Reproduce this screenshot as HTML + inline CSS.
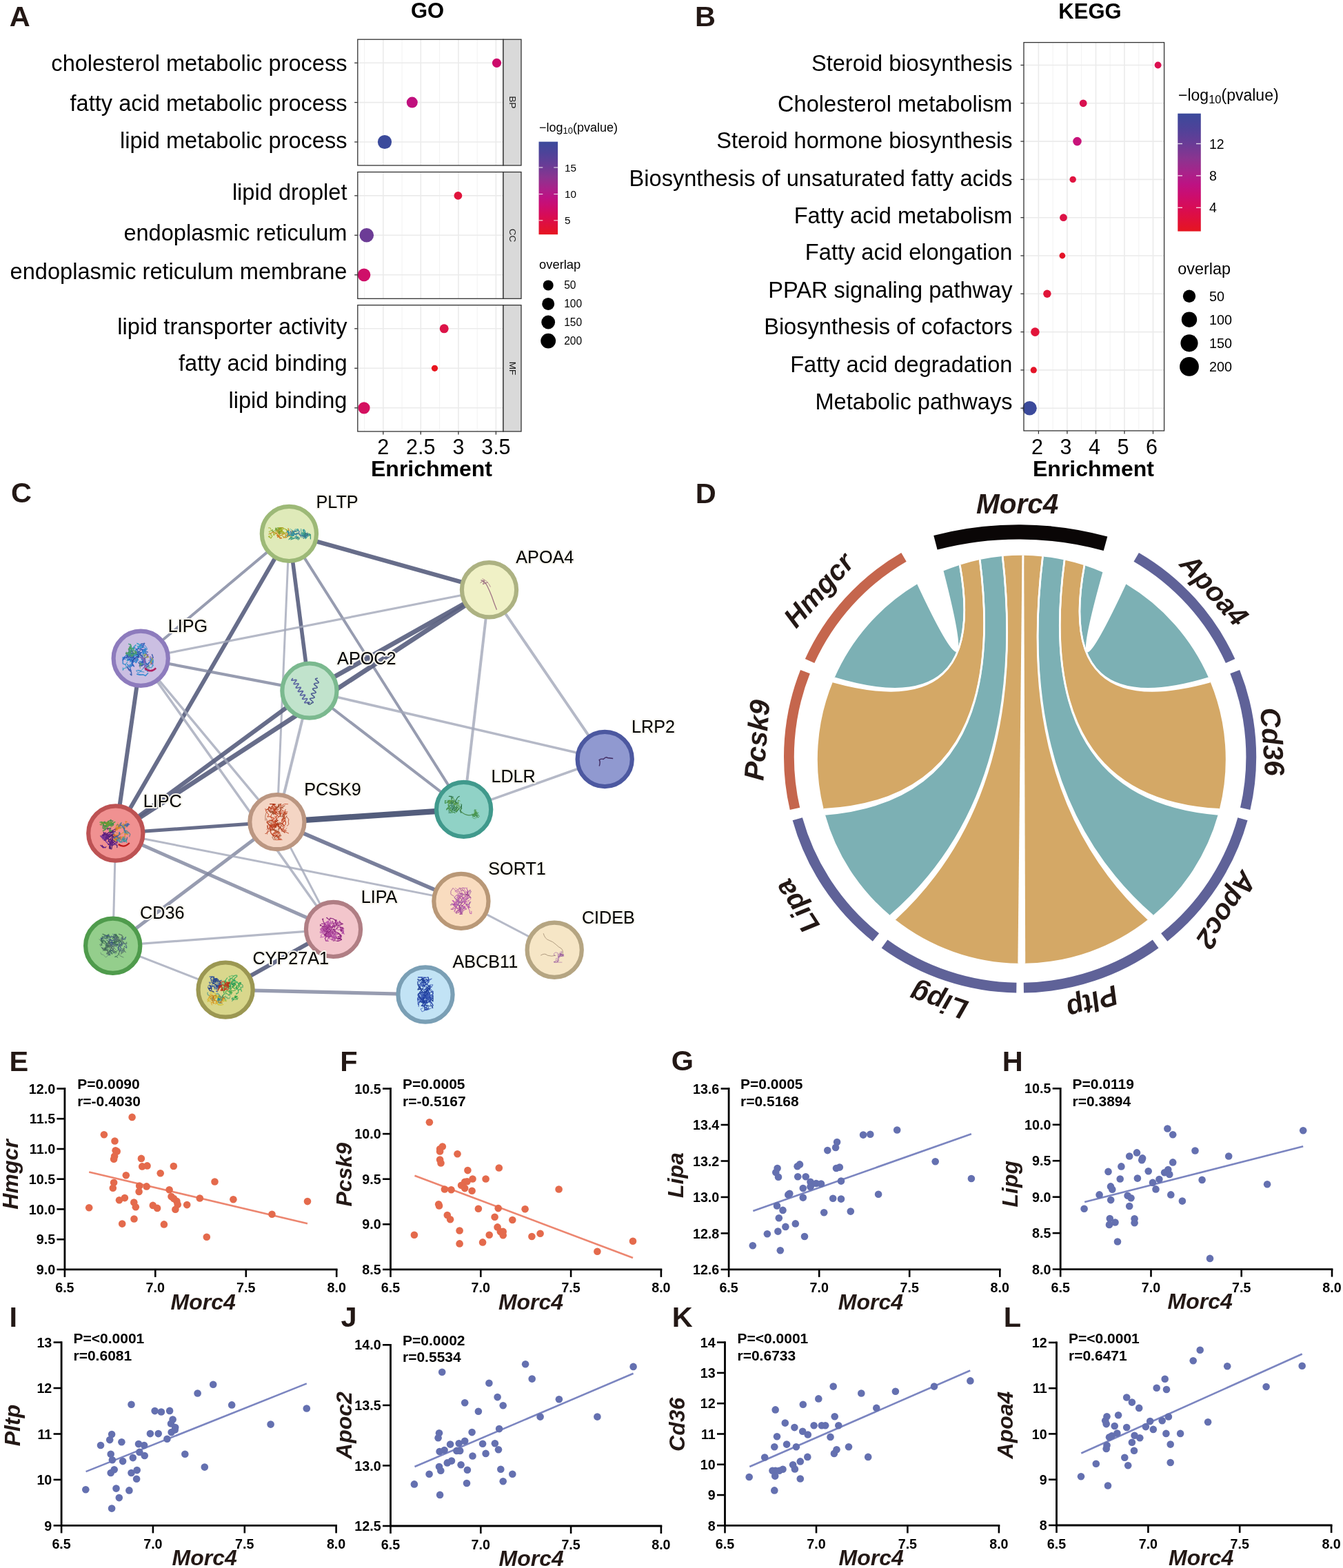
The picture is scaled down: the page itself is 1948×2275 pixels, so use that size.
<!DOCTYPE html>
<html><head><meta charset="utf-8"><title>Figure</title>
<style>html,body{margin:0;padding:0;background:#fff;} svg{display:block;} text{font-family:"Liberation Sans", Arial, Helvetica, sans-serif;}</style>
</head><body>
<svg width="1948" height="2275" viewBox="0 0 1948 2275">
<defs><linearGradient id="cbar" x1="0" y1="0" x2="0" y2="1"><stop offset="0" stop-color="#3b4a9b"/><stop offset="0.12" stop-color="#4d4399"/><stop offset="0.25" stop-color="#683c96"/><stop offset="0.38" stop-color="#8a3490"/><stop offset="0.5" stop-color="#a8238a"/><stop offset="0.6" stop-color="#bd1283"/><stop offset="0.7" stop-color="#cc0d6e"/><stop offset="0.8" stop-color="#d80c55"/><stop offset="0.9" stop-color="#e0103a"/><stop offset="1.0" stop-color="#e61520"/></linearGradient></defs>
<rect width="1948" height="2275" fill="#fff"/>
<text x="620.0" y="26.0" font-size="31" font-weight="700" text-anchor="middle" fill="#000">GO</text>
<text x="13.7" y="38.1" font-size="41.5" font-weight="700" fill="#231815">A</text>
<rect x="518.8" y="57.2" width="211.20000000000005" height="182.8" fill="#fff"/>
<line x1="528.5" y1="57.2" x2="528.5" y2="240.0" stroke="#f2f2f2" stroke-width="1"/>
<line x1="583.1" y1="57.2" x2="583.1" y2="240.0" stroke="#f2f2f2" stroke-width="1"/>
<line x1="637.6" y1="57.2" x2="637.6" y2="240.0" stroke="#f2f2f2" stroke-width="1"/>
<line x1="692.2" y1="57.2" x2="692.2" y2="240.0" stroke="#f2f2f2" stroke-width="1"/>
<line x1="555.8" y1="57.2" x2="555.8" y2="240.0" stroke="#ebebeb" stroke-width="1.6"/>
<line x1="610.3" y1="57.2" x2="610.3" y2="240.0" stroke="#ebebeb" stroke-width="1.6"/>
<line x1="664.9" y1="57.2" x2="664.9" y2="240.0" stroke="#ebebeb" stroke-width="1.6"/>
<line x1="719.4" y1="57.2" x2="719.4" y2="240.0" stroke="#ebebeb" stroke-width="1.6"/>
<line x1="518.8" y1="91.3" x2="730.0" y2="91.3" stroke="#ebebeb" stroke-width="1.6"/>
<line x1="518.8" y1="148.6" x2="730.0" y2="148.6" stroke="#ebebeb" stroke-width="1.6"/>
<line x1="518.8" y1="206.0" x2="730.0" y2="206.0" stroke="#ebebeb" stroke-width="1.6"/>
<circle cx="720.5" cy="91.3" r="6.6" fill="#cc0a6b"/>
<circle cx="597.8" cy="148.6" r="8.0" fill="#c0107e"/>
<circle cx="558.0" cy="206.0" r="10.1" fill="#3b4a9b"/>
<rect x="518.8" y="57.2" width="211.20000000000005" height="182.8" fill="none" stroke="#333" stroke-width="1.3"/>
<rect x="730.0" y="57.2" width="26.0" height="182.8" fill="#d9d9d9" stroke="#333" stroke-width="1.3"/>
<text x="743.0" y="148.6" font-size="13.5" text-anchor="middle" fill="#1a1a1a" transform="rotate(90 743.0 148.6)" dominant-baseline="central">BP</text>
<line x1="514.1999999999999" y1="91.3" x2="518.8" y2="91.3" stroke="#333" stroke-width="1.3"/>
<text x="503.5" y="103.2" font-size="32.6" text-anchor="end" fill="#000">cholesterol metabolic process</text>
<line x1="514.1999999999999" y1="148.6" x2="518.8" y2="148.6" stroke="#333" stroke-width="1.3"/>
<text x="503.5" y="160.6" font-size="32.6" text-anchor="end" fill="#000">fatty acid metabolic process</text>
<line x1="514.1999999999999" y1="206.0" x2="518.8" y2="206.0" stroke="#333" stroke-width="1.3"/>
<text x="503.5" y="214.9" font-size="32.6" text-anchor="end" fill="#000">lipid metabolic process</text>
<rect x="518.8" y="249.6" width="211.20000000000005" height="183.70000000000002" fill="#fff"/>
<line x1="528.5" y1="249.6" x2="528.5" y2="433.3" stroke="#f2f2f2" stroke-width="1"/>
<line x1="583.1" y1="249.6" x2="583.1" y2="433.3" stroke="#f2f2f2" stroke-width="1"/>
<line x1="637.6" y1="249.6" x2="637.6" y2="433.3" stroke="#f2f2f2" stroke-width="1"/>
<line x1="692.2" y1="249.6" x2="692.2" y2="433.3" stroke="#f2f2f2" stroke-width="1"/>
<line x1="555.8" y1="249.6" x2="555.8" y2="433.3" stroke="#ebebeb" stroke-width="1.6"/>
<line x1="610.3" y1="249.6" x2="610.3" y2="433.3" stroke="#ebebeb" stroke-width="1.6"/>
<line x1="664.9" y1="249.6" x2="664.9" y2="433.3" stroke="#ebebeb" stroke-width="1.6"/>
<line x1="719.4" y1="249.6" x2="719.4" y2="433.3" stroke="#ebebeb" stroke-width="1.6"/>
<line x1="518.8" y1="283.9" x2="730.0" y2="283.9" stroke="#ebebeb" stroke-width="1.6"/>
<line x1="518.8" y1="341.3" x2="730.0" y2="341.3" stroke="#ebebeb" stroke-width="1.6"/>
<line x1="518.8" y1="398.8" x2="730.0" y2="398.8" stroke="#ebebeb" stroke-width="1.6"/>
<circle cx="664.4" cy="283.9" r="5.9" fill="#e0143c"/>
<circle cx="531.8" cy="341.3" r="10.3" fill="#6c3c96"/>
<circle cx="528.0" cy="398.8" r="9.4" fill="#cf0f69"/>
<rect x="518.8" y="249.6" width="211.20000000000005" height="183.70000000000002" fill="none" stroke="#333" stroke-width="1.3"/>
<rect x="730.0" y="249.6" width="26.0" height="183.70000000000002" fill="#d9d9d9" stroke="#333" stroke-width="1.3"/>
<text x="743.0" y="341.4" font-size="13.5" text-anchor="middle" fill="#1a1a1a" transform="rotate(90 743.0 341.4)" dominant-baseline="central">CC</text>
<line x1="514.1999999999999" y1="283.9" x2="518.8" y2="283.9" stroke="#333" stroke-width="1.3"/>
<text x="503.5" y="290.2" font-size="32.6" text-anchor="end" fill="#000">lipid droplet</text>
<line x1="514.1999999999999" y1="341.3" x2="518.8" y2="341.3" stroke="#333" stroke-width="1.3"/>
<text x="503.5" y="349.1" font-size="32.6" text-anchor="end" fill="#000">endoplasmic reticulum</text>
<line x1="514.1999999999999" y1="398.8" x2="518.8" y2="398.8" stroke="#333" stroke-width="1.3"/>
<text x="503.5" y="404.7" font-size="32.6" text-anchor="end" fill="#000">endoplasmic reticulum membrane</text>
<rect x="518.8" y="442.7" width="211.20000000000005" height="183.3" fill="#fff"/>
<line x1="528.5" y1="442.7" x2="528.5" y2="626.0" stroke="#f2f2f2" stroke-width="1"/>
<line x1="583.1" y1="442.7" x2="583.1" y2="626.0" stroke="#f2f2f2" stroke-width="1"/>
<line x1="637.6" y1="442.7" x2="637.6" y2="626.0" stroke="#f2f2f2" stroke-width="1"/>
<line x1="692.2" y1="442.7" x2="692.2" y2="626.0" stroke="#f2f2f2" stroke-width="1"/>
<line x1="555.8" y1="442.7" x2="555.8" y2="626.0" stroke="#ebebeb" stroke-width="1.6"/>
<line x1="610.3" y1="442.7" x2="610.3" y2="626.0" stroke="#ebebeb" stroke-width="1.6"/>
<line x1="664.9" y1="442.7" x2="664.9" y2="626.0" stroke="#ebebeb" stroke-width="1.6"/>
<line x1="719.4" y1="442.7" x2="719.4" y2="626.0" stroke="#ebebeb" stroke-width="1.6"/>
<line x1="518.8" y1="476.8" x2="730.0" y2="476.8" stroke="#ebebeb" stroke-width="1.6"/>
<line x1="518.8" y1="534.3" x2="730.0" y2="534.3" stroke="#ebebeb" stroke-width="1.6"/>
<line x1="518.8" y1="591.8" x2="730.0" y2="591.8" stroke="#ebebeb" stroke-width="1.6"/>
<circle cx="644.2" cy="476.8" r="6.5" fill="#dc1448"/>
<circle cx="630.5" cy="534.3" r="4.6" fill="#e8141e"/>
<circle cx="528.0" cy="591.8" r="8.6" fill="#d41060"/>
<rect x="518.8" y="442.7" width="211.20000000000005" height="183.3" fill="none" stroke="#333" stroke-width="1.3"/>
<rect x="730.0" y="442.7" width="26.0" height="183.3" fill="#d9d9d9" stroke="#333" stroke-width="1.3"/>
<text x="743.0" y="534.4" font-size="13.5" text-anchor="middle" fill="#1a1a1a" transform="rotate(90 743.0 534.4)" dominant-baseline="central">MF</text>
<line x1="514.1999999999999" y1="476.8" x2="518.8" y2="476.8" stroke="#333" stroke-width="1.3"/>
<text x="503.5" y="484.8" font-size="32.6" text-anchor="end" fill="#000">lipid transporter activity</text>
<line x1="514.1999999999999" y1="534.3" x2="518.8" y2="534.3" stroke="#333" stroke-width="1.3"/>
<text x="503.5" y="538.1" font-size="32.6" text-anchor="end" fill="#000">fatty acid binding</text>
<line x1="514.1999999999999" y1="591.8" x2="518.8" y2="591.8" stroke="#333" stroke-width="1.3"/>
<text x="503.5" y="592.3" font-size="32.6" text-anchor="end" fill="#000">lipid binding</text>
<line x1="555.8" y1="626" x2="555.8" y2="630.6" stroke="#333" stroke-width="1.3"/>
<text x="555.8" y="659.0" font-size="30.5" text-anchor="middle" fill="#000">2</text>
<line x1="610.3" y1="626" x2="610.3" y2="630.6" stroke="#333" stroke-width="1.3"/>
<text x="610.3" y="659.0" font-size="30.5" text-anchor="middle" fill="#000">2.5</text>
<line x1="664.9" y1="626" x2="664.9" y2="630.6" stroke="#333" stroke-width="1.3"/>
<text x="664.9" y="659.0" font-size="30.5" text-anchor="middle" fill="#000">3</text>
<line x1="719.4" y1="626" x2="719.4" y2="630.6" stroke="#333" stroke-width="1.3"/>
<text x="719.4" y="659.0" font-size="30.5" text-anchor="middle" fill="#000">3.5</text>
<text x="626.0" y="691.0" font-size="32" font-weight="700" text-anchor="middle" fill="#000">Enrichment</text>
<text x="782" y="190.8" font-size="18" fill="#000">−log<tspan font-size="13" dy="3">10</tspan><tspan dy="-3">(pvalue)</tspan></text>
<rect x="781.5" y="205.6" width="27.6" height="134.6" fill="url(#cbar)"/>
<line x1="781.5" y1="243" x2="787.3" y2="243" stroke="#fff" stroke-opacity="0.8" stroke-width="1.2"/>
<line x1="803.3" y1="243" x2="809.1" y2="243" stroke="#fff" stroke-opacity="0.8" stroke-width="1.2"/>
<text x="819.0" y="248.5" font-size="15.3" fill="#000">15</text>
<line x1="781.5" y1="281.6" x2="787.3" y2="281.6" stroke="#fff" stroke-opacity="0.8" stroke-width="1.2"/>
<line x1="803.3" y1="281.6" x2="809.1" y2="281.6" stroke="#fff" stroke-opacity="0.8" stroke-width="1.2"/>
<text x="819.0" y="287.1" font-size="15.3" fill="#000">10</text>
<line x1="781.5" y1="319.8" x2="787.3" y2="319.8" stroke="#fff" stroke-opacity="0.8" stroke-width="1.2"/>
<line x1="803.3" y1="319.8" x2="809.1" y2="319.8" stroke="#fff" stroke-opacity="0.8" stroke-width="1.2"/>
<text x="819.0" y="325.3" font-size="15.3" fill="#000">5</text>
<text x="782.0" y="389.8" font-size="18.4" fill="#000">overlap</text>
<circle cx="795.2" cy="413.9" r="7.5" fill="#000"/>
<text x="818.2" y="419.4" font-size="15.6" fill="#000">50</text>
<circle cx="795.2" cy="440.9" r="9" fill="#000"/>
<text x="818.2" y="446.4" font-size="15.6" fill="#000">100</text>
<circle cx="795.2" cy="467.5" r="9.9" fill="#000"/>
<text x="818.2" y="473.0" font-size="15.6" fill="#000">150</text>
<circle cx="795.2" cy="494.6" r="10.9" fill="#000"/>
<text x="818.2" y="500.1" font-size="15.6" fill="#000">200</text>
<text x="1581.0" y="27.0" font-size="31" font-weight="700" text-anchor="middle" fill="#000">KEGG</text>
<text x="1007.9" y="37.9" font-size="41.5" font-weight="700" fill="#231815">B</text>
<rect x="1485.0" y="61.6" width="203.5999999999999" height="563.4" fill="#fff"/>
<line x1="1527.2" y1="61.6" x2="1527.2" y2="625.0" stroke="#f2f2f2" stroke-width="1"/>
<line x1="1568.7" y1="61.6" x2="1568.7" y2="625.0" stroke="#f2f2f2" stroke-width="1"/>
<line x1="1610.2" y1="61.6" x2="1610.2" y2="625.0" stroke="#f2f2f2" stroke-width="1"/>
<line x1="1651.8" y1="61.6" x2="1651.8" y2="625.0" stroke="#f2f2f2" stroke-width="1"/>
<line x1="1506.4" y1="61.6" x2="1506.4" y2="625.0" stroke="#ebebeb" stroke-width="1.6"/>
<line x1="1547.9" y1="61.6" x2="1547.9" y2="625.0" stroke="#ebebeb" stroke-width="1.6"/>
<line x1="1589.5" y1="61.6" x2="1589.5" y2="625.0" stroke="#ebebeb" stroke-width="1.6"/>
<line x1="1631.0" y1="61.6" x2="1631.0" y2="625.0" stroke="#ebebeb" stroke-width="1.6"/>
<line x1="1672.5" y1="61.6" x2="1672.5" y2="625.0" stroke="#ebebeb" stroke-width="1.6"/>
<line x1="1485.0" y1="94.5" x2="1688.6" y2="94.5" stroke="#ebebeb" stroke-width="1.6"/>
<line x1="1485.0" y1="149.8" x2="1688.6" y2="149.8" stroke="#ebebeb" stroke-width="1.6"/>
<line x1="1485.0" y1="205.1" x2="1688.6" y2="205.1" stroke="#ebebeb" stroke-width="1.6"/>
<line x1="1485.0" y1="260.4" x2="1688.6" y2="260.4" stroke="#ebebeb" stroke-width="1.6"/>
<line x1="1485.0" y1="315.7" x2="1688.6" y2="315.7" stroke="#ebebeb" stroke-width="1.6"/>
<line x1="1485.0" y1="371.0" x2="1688.6" y2="371.0" stroke="#ebebeb" stroke-width="1.6"/>
<line x1="1485.0" y1="426.3" x2="1688.6" y2="426.3" stroke="#ebebeb" stroke-width="1.6"/>
<line x1="1485.0" y1="481.6" x2="1688.6" y2="481.6" stroke="#ebebeb" stroke-width="1.6"/>
<line x1="1485.0" y1="536.9" x2="1688.6" y2="536.9" stroke="#ebebeb" stroke-width="1.6"/>
<line x1="1485.0" y1="592.2" x2="1688.6" y2="592.2" stroke="#ebebeb" stroke-width="1.6"/>
<circle cx="1679.6" cy="94.5" r="4.9" fill="#dc0f50"/>
<circle cx="1571.2" cy="149.8" r="5.4" fill="#d8104f"/>
<circle cx="1562.5" cy="205.1" r="6.3" fill="#c8137a"/>
<circle cx="1556.2" cy="260.4" r="4.7" fill="#e01440"/>
<circle cx="1542.5" cy="315.7" r="5.4" fill="#dc1346"/>
<circle cx="1540.9" cy="371.0" r="4.4" fill="#e41428"/>
<circle cx="1518.9" cy="426.3" r="5.7" fill="#e01438"/>
<circle cx="1501.4" cy="481.6" r="6.3" fill="#e2143a"/>
<circle cx="1499.3" cy="536.9" r="4.6" fill="#e41428"/>
<circle cx="1493.5" cy="592.2" r="10.3" fill="#3b4a9b"/>
<rect x="1485.0" y="61.6" width="203.5999999999999" height="563.4" fill="none" stroke="#333" stroke-width="1.3"/>
<line x1="1480.4" y1="94.5" x2="1485.0" y2="94.5" stroke="#333" stroke-width="1.3"/>
<text x="1468.5" y="103.1" font-size="32.6" text-anchor="end" fill="#000">Steroid biosynthesis</text>
<line x1="1480.4" y1="149.8" x2="1485.0" y2="149.8" stroke="#333" stroke-width="1.3"/>
<text x="1468.5" y="161.6" font-size="32.6" text-anchor="end" fill="#000">Cholesterol metabolism</text>
<line x1="1480.4" y1="205.1" x2="1485.0" y2="205.1" stroke="#333" stroke-width="1.3"/>
<text x="1468.5" y="215.1" font-size="32.6" text-anchor="end" fill="#000">Steroid hormone biosynthesis</text>
<line x1="1480.4" y1="260.4" x2="1485.0" y2="260.4" stroke="#333" stroke-width="1.3"/>
<text x="1468.5" y="269.5" font-size="32.6" text-anchor="end" fill="#000">Biosynthesis of unsaturated fatty acids</text>
<line x1="1480.4" y1="315.7" x2="1485.0" y2="315.7" stroke="#333" stroke-width="1.3"/>
<text x="1468.5" y="323.6" font-size="32.6" text-anchor="end" fill="#000">Fatty acid metabolism</text>
<line x1="1480.4" y1="371.0" x2="1485.0" y2="371.0" stroke="#333" stroke-width="1.3"/>
<text x="1468.5" y="377.3" font-size="32.6" text-anchor="end" fill="#000">Fatty acid elongation</text>
<line x1="1480.4" y1="426.3" x2="1485.0" y2="426.3" stroke="#333" stroke-width="1.3"/>
<text x="1468.5" y="431.5" font-size="32.6" text-anchor="end" fill="#000">PPAR signaling pathway</text>
<line x1="1480.4" y1="481.6" x2="1485.0" y2="481.6" stroke="#333" stroke-width="1.3"/>
<text x="1468.5" y="484.9" font-size="32.6" text-anchor="end" fill="#000">Biosynthesis of cofactors</text>
<line x1="1480.4" y1="536.9" x2="1485.0" y2="536.9" stroke="#333" stroke-width="1.3"/>
<text x="1468.5" y="539.7" font-size="32.6" text-anchor="end" fill="#000">Fatty acid degradation</text>
<line x1="1480.4" y1="592.2" x2="1485.0" y2="592.2" stroke="#333" stroke-width="1.3"/>
<text x="1468.5" y="593.8" font-size="32.6" text-anchor="end" fill="#000">Metabolic pathways</text>
<line x1="1506.4" y1="625.0" x2="1506.4" y2="629.6" stroke="#333" stroke-width="1.3"/>
<text x="1504.4" y="659.0" font-size="30.5" text-anchor="middle" fill="#000">2</text>
<line x1="1547.9" y1="625.0" x2="1547.9" y2="629.6" stroke="#333" stroke-width="1.3"/>
<text x="1545.9" y="659.0" font-size="30.5" text-anchor="middle" fill="#000">3</text>
<line x1="1589.5" y1="625.0" x2="1589.5" y2="629.6" stroke="#333" stroke-width="1.3"/>
<text x="1587.5" y="659.0" font-size="30.5" text-anchor="middle" fill="#000">4</text>
<line x1="1631.0" y1="625.0" x2="1631.0" y2="629.6" stroke="#333" stroke-width="1.3"/>
<text x="1629.0" y="659.0" font-size="30.5" text-anchor="middle" fill="#000">5</text>
<line x1="1672.5" y1="625.0" x2="1672.5" y2="629.6" stroke="#333" stroke-width="1.3"/>
<text x="1670.5" y="659.0" font-size="30.5" text-anchor="middle" fill="#000">6</text>
<text x="1586.0" y="691.0" font-size="32" font-weight="700" text-anchor="middle" fill="#000">Enrichment</text>
<text x="1709" y="146" font-size="23" fill="#000">−log<tspan font-size="16.5" dy="4">10</tspan><tspan dy="-4">(pvalue)</tspan></text>
<rect x="1708.3" y="164.7" width="33.5" height="170.9" fill="url(#cbar)"/>
<line x1="1708.3" y1="208.5" x2="1715" y2="208.5" stroke="#fff" stroke-opacity="0.8" stroke-width="1.4"/>
<line x1="1735" y1="208.5" x2="1741.8" y2="208.5" stroke="#fff" stroke-opacity="0.8" stroke-width="1.4"/>
<text x="1754.0" y="215.5" font-size="19.5" fill="#000">12</text>
<line x1="1708.3" y1="254.9" x2="1715" y2="254.9" stroke="#fff" stroke-opacity="0.8" stroke-width="1.4"/>
<line x1="1735" y1="254.9" x2="1741.8" y2="254.9" stroke="#fff" stroke-opacity="0.8" stroke-width="1.4"/>
<text x="1754.0" y="261.9" font-size="19.5" fill="#000">8</text>
<line x1="1708.3" y1="301.3" x2="1715" y2="301.3" stroke="#fff" stroke-opacity="0.8" stroke-width="1.4"/>
<line x1="1735" y1="301.3" x2="1741.8" y2="301.3" stroke="#fff" stroke-opacity="0.8" stroke-width="1.4"/>
<text x="1754.0" y="308.3" font-size="19.5" fill="#000">4</text>
<text x="1708.3" y="397.9" font-size="23.4" fill="#000">overlap</text>
<circle cx="1725" cy="429.7" r="9.2" fill="#000"/>
<text x="1754.0" y="436.7" font-size="19.8" fill="#000">50</text>
<circle cx="1725" cy="463.7" r="11.2" fill="#000"/>
<text x="1754.0" y="470.7" font-size="19.8" fill="#000">100</text>
<circle cx="1725" cy="497.8" r="12.6" fill="#000"/>
<text x="1754.0" y="504.8" font-size="19.8" fill="#000">150</text>
<circle cx="1725" cy="531.9" r="13.9" fill="#000"/>
<text x="1754.0" y="538.9" font-size="19.8" fill="#000">200</text>
<text x="15.9" y="729.2" font-size="41.5" font-weight="700" fill="#231815">C</text>
<line x1="419.4" y1="774.4" x2="709.5" y2="855.7" stroke="#5a6180" stroke-opacity="0.92" stroke-width="6.2"/>
<line x1="419.4" y1="774.4" x2="204.2" y2="955.3" stroke="#7d839c" stroke-opacity="0.8" stroke-width="4.0"/>
<line x1="419.4" y1="774.4" x2="167.8" y2="1209.0" stroke="#5a6180" stroke-opacity="0.92" stroke-width="6.0"/>
<line x1="419.4" y1="774.4" x2="448.9" y2="1002.1" stroke="#5a6180" stroke-opacity="0.92" stroke-width="5.6"/>
<line x1="419.4" y1="774.4" x2="401.9" y2="1192.6" stroke="#a2a7b9" stroke-opacity="0.8" stroke-width="3.0"/>
<line x1="419.4" y1="774.4" x2="672.6" y2="1174.4" stroke="#7d839c" stroke-opacity="0.8" stroke-width="4.0"/>
<line x1="709.5" y1="855.7" x2="204.2" y2="955.3" stroke="#a2a7b9" stroke-opacity="0.8" stroke-width="3.2"/>
<line x1="709.5" y1="855.7" x2="448.9" y2="1002.1" stroke="#5a6180" stroke-opacity="0.92" stroke-width="6.8"/>
<line x1="709.5" y1="855.7" x2="167.8" y2="1209.0" stroke="#5a6180" stroke-opacity="0.92" stroke-width="6.8"/>
<line x1="709.5" y1="855.7" x2="672.6" y2="1174.4" stroke="#a2a7b9" stroke-opacity="0.8" stroke-width="4.0"/>
<line x1="709.5" y1="855.7" x2="877.2" y2="1101.5" stroke="#a2a7b9" stroke-opacity="0.8" stroke-width="4.0"/>
<line x1="204.2" y1="955.3" x2="448.9" y2="1002.1" stroke="#7d839c" stroke-opacity="0.8" stroke-width="4.2"/>
<line x1="204.2" y1="955.3" x2="167.8" y2="1209.0" stroke="#5a6180" stroke-opacity="0.92" stroke-width="6.0"/>
<line x1="204.2" y1="955.3" x2="401.9" y2="1192.6" stroke="#a2a7b9" stroke-opacity="0.8" stroke-width="3.5"/>
<line x1="204.2" y1="955.3" x2="483.5" y2="1348.4" stroke="#a2a7b9" stroke-opacity="0.8" stroke-width="3.5"/>
<line x1="448.9" y1="1002.1" x2="167.8" y2="1209.0" stroke="#5a6180" stroke-opacity="0.92" stroke-width="6.2"/>
<line x1="448.9" y1="1002.1" x2="401.9" y2="1192.6" stroke="#a2a7b9" stroke-opacity="0.8" stroke-width="4.0"/>
<line x1="448.9" y1="1002.1" x2="672.6" y2="1174.4" stroke="#7d839c" stroke-opacity="0.8" stroke-width="4.0"/>
<line x1="448.9" y1="1002.1" x2="877.2" y2="1101.5" stroke="#a2a7b9" stroke-opacity="0.8" stroke-width="3.6"/>
<line x1="877.2" y1="1101.5" x2="672.6" y2="1174.4" stroke="#a2a7b9" stroke-opacity="0.8" stroke-width="3.6"/>
<line x1="401.9" y1="1192.6" x2="672.6" y2="1174.4" stroke="#4a5475" stroke-opacity="0.95" stroke-width="8.4"/>
<line x1="401.9" y1="1192.6" x2="167.8" y2="1209.0" stroke="#5a6180" stroke-opacity="0.92" stroke-width="5.0"/>
<line x1="401.9" y1="1192.6" x2="668.9" y2="1307.4" stroke="#6a7190" stroke-opacity="0.9" stroke-width="5.6"/>
<line x1="401.9" y1="1192.6" x2="163.7" y2="1372.3" stroke="#7d839c" stroke-opacity="0.8" stroke-width="5.0"/>
<line x1="401.9" y1="1192.6" x2="483.5" y2="1348.4" stroke="#a2a7b9" stroke-opacity="0.8" stroke-width="3.0"/>
<line x1="167.8" y1="1209.0" x2="483.5" y2="1348.4" stroke="#7d839c" stroke-opacity="0.8" stroke-width="5.0"/>
<line x1="167.8" y1="1209.0" x2="668.9" y2="1307.4" stroke="#a2a7b9" stroke-opacity="0.8" stroke-width="3.0"/>
<line x1="167.8" y1="1209.0" x2="163.7" y2="1372.3" stroke="#a2a7b9" stroke-opacity="0.8" stroke-width="3.0"/>
<line x1="483.5" y1="1348.4" x2="163.7" y2="1372.3" stroke="#a2a7b9" stroke-opacity="0.8" stroke-width="3.2"/>
<line x1="483.5" y1="1348.4" x2="327.1" y2="1436.1" stroke="#5a6180" stroke-opacity="0.92" stroke-width="6.0"/>
<line x1="163.7" y1="1372.3" x2="327.1" y2="1436.1" stroke="#a2a7b9" stroke-opacity="0.8" stroke-width="3.0"/>
<line x1="327.1" y1="1436.1" x2="617.0" y2="1443.0" stroke="#7d839c" stroke-opacity="0.8" stroke-width="5.2"/>
<line x1="668.9" y1="1307.4" x2="804.2" y2="1378.2" stroke="#a2a7b9" stroke-opacity="0.8" stroke-width="3.0"/>
<circle cx="419.4" cy="774.4" r="39.6" fill="#dfeab9" stroke="#9db977" stroke-width="6.2"/>
<g><path d="M404.7,772.3 404.0,771.7 403.8,774.4 402.3,771.4 400.3,769.0 402.6,771.0" fill="none" stroke="#c8a030" stroke-width="1.07" stroke-linejoin="round" stroke-linecap="round"/><path d="M408.2,768.5 409.0,769.3 411.1,766.8 413.7,767.4 416.7,770.4 416.1,768.2" fill="none" stroke="#a0b020" stroke-width="1.03" stroke-linejoin="round" stroke-linecap="round"/><path d="M410.1,771.1 406.6,768.7 405.9,765.9 406.6,768.0 406.2,765.9 405.0,769.8" fill="none" stroke="#d07a20" stroke-width="0.67" stroke-linejoin="round" stroke-linecap="round"/><path d="M405.8,778.0 406.2,777.6 409.1,775.9 411.8,775.3 410.1,771.3 410.3,773.2" fill="none" stroke="#c8a030" stroke-width="0.96" stroke-linejoin="round" stroke-linecap="round"/><path d="M402.4,768.4 403.5,768.2 404.3,767.0 404.7,765.9 407.4,765.9 411.0,765.9" fill="none" stroke="#a0b020" stroke-width="1.07" stroke-linejoin="round" stroke-linecap="round"/><path d="M406.2,773.4 403.0,769.5 405.4,766.0 407.1,766.4 405.9,765.9 409.7,765.9" fill="none" stroke="#c08a20" stroke-width="1.18" stroke-linejoin="round" stroke-linecap="round"/><path d="M410.7,778.2 411.7,780.9 413.9,777.4 415.5,776.9 414.9,777.0 413.5,774.9" fill="none" stroke="#c08a20" stroke-width="0.86" stroke-linejoin="round" stroke-linecap="round"/><path d="M408.8,773.8 408.0,770.6 408.4,768.8 405.8,770.2 404.2,774.1 406.3,771.4" fill="none" stroke="#70a030" stroke-width="0.76" stroke-linejoin="round" stroke-linecap="round"/><path d="M402.0,776.9 405.2,777.3 401.4,777.1 404.7,778.2 405.7,780.9 408.8,780.9" fill="none" stroke="#d07a20" stroke-width="1.08" stroke-linejoin="round" stroke-linecap="round"/><path d="M403.9,771.0 407.1,771.1 408.0,769.1 407.7,771.3 405.1,774.6 405.4,770.9" fill="none" stroke="#70a030" stroke-width="1.03" stroke-linejoin="round" stroke-linecap="round"/><path d="M409.2,776.3 412.4,773.0 414.5,776.5 418.0,777.3 414.7,780.1 418.4,778.3" fill="none" stroke="#c08a20" stroke-width="0.86" stroke-linejoin="round" stroke-linecap="round"/><path d="M403.2,771.2 402.8,770.0 405.6,774.0 407.1,770.4 406.5,774.0 409.5,774.3" fill="none" stroke="#c08a20" stroke-width="1.01" stroke-linejoin="round" stroke-linecap="round"/><path d="M411.4,771.8 410.0,774.8 410.7,771.6 414.4,774.0 412.0,773.9 415.7,772.2" fill="none" stroke="#a0b020" stroke-width="0.82" stroke-linejoin="round" stroke-linecap="round"/><path d="M406.7,774.2 403.7,770.7 400.5,767.9 400.4,768.9 399.8,767.0 400.0,765.9" fill="none" stroke="#70a030" stroke-width="1.22" stroke-linejoin="round" stroke-linecap="round"/><path d="M403.1,772.5 405.4,776.5 409.0,776.9 411.6,779.4 414.6,780.1 414.3,776.6" fill="none" stroke="#c8a030" stroke-width="1.09" stroke-linejoin="round" stroke-linecap="round"/><path d="M408.9,768.6 409.2,769.1 410.5,772.3 407.0,771.1 407.5,771.6 406.2,772.8" fill="none" stroke="#a0b020" stroke-width="0.98" stroke-linejoin="round" stroke-linecap="round"/><path d="M399.5,771.4 396.1,774.3 399.1,775.7 396.2,775.8 397.5,776.9 397.2,776.5" fill="none" stroke="#a0b020" stroke-width="0.86" stroke-linejoin="round" stroke-linecap="round"/><path d="M392.5,774.0 390.0,771.5 393.1,770.1 393.2,768.6 392.1,765.9 389.4,765.9" fill="none" stroke="#a0b020" stroke-width="0.83" stroke-linejoin="round" stroke-linecap="round"/><path d="M405.2,776.2 405.5,775.3 403.3,773.0 404.0,770.7 406.3,767.4 404.4,765.9" fill="none" stroke="#a0b020" stroke-width="0.99" stroke-linejoin="round" stroke-linecap="round"/><path d="M407.7,769.6 408.6,766.4 406.4,765.9 407.5,765.9 406.5,768.1 408.5,770.8" fill="none" stroke="#a0b020" stroke-width="1.22" stroke-linejoin="round" stroke-linecap="round"/><path d="M417.0,773.8 418.7,777.7 421.6,776.6 421.5,776.0 423.3,773.5 423.4,769.9" fill="none" stroke="#d07a20" stroke-width="1.10" stroke-linejoin="round" stroke-linecap="round"/><path d="M400.9,774.3 398.9,773.5 395.4,771.9 396.8,770.6 393.2,773.8 389.9,775.0" fill="none" stroke="#c08a20" stroke-width="1.05" stroke-linejoin="round" stroke-linecap="round"/><path d="M400.4,773.2 403.8,777.2 402.5,779.5 405.6,778.5 406.4,780.9 407.9,780.2" fill="none" stroke="#d07a20" stroke-width="1.15" stroke-linejoin="round" stroke-linecap="round"/><path d="M419.2,773.7 419.2,773.7 420.0,776.5 421.8,775.4 419.9,777.9 423.3,778.9" fill="none" stroke="#a0b020" stroke-width="0.86" stroke-linejoin="round" stroke-linecap="round"/><path d="M402.7,772.4 403.0,768.4 399.4,767.9 402.6,765.9 403.6,765.9 404.9,767.8" fill="none" stroke="#70a030" stroke-width="1.09" stroke-linejoin="round" stroke-linecap="round"/><path d="M405.7,770.5 405.9,774.2 402.5,771.2 404.6,772.2 404.5,768.5 407.7,766.3" fill="none" stroke="#70a030" stroke-width="0.96" stroke-linejoin="round" stroke-linecap="round"/><path d="M416.7,776.4 415.6,773.5 416.3,770.6 419.5,769.7 417.9,766.4 419.0,770.1" fill="none" stroke="#c08a20" stroke-width="0.92" stroke-linejoin="round" stroke-linecap="round"/><path d="M394.4,770.1 395.6,768.1 394.0,770.3 397.2,771.2 399.1,769.3 400.4,770.5" fill="none" stroke="#70a030" stroke-width="0.93" stroke-linejoin="round" stroke-linecap="round"/><path d="M404.0,769.5 402.9,772.1 399.2,774.8 400.8,771.1 403.6,769.1 402.8,768.9" fill="none" stroke="#c8a030" stroke-width="0.90" stroke-linejoin="round" stroke-linecap="round"/><path d="M392.4,774.9 394.9,778.0 392.9,780.9 389.9,778.8 389.4,778.3 392.0,777.7" fill="none" stroke="#a0b020" stroke-width="1.08" stroke-linejoin="round" stroke-linecap="round"/><path d="M431.8,774.3 432.4,773.1 435.8,776.8 439.6,777.6 438.7,775.0 442.1,778.3" fill="none" stroke="#30708a" stroke-width="1.13" stroke-linejoin="round" stroke-linecap="round"/><path d="M425.7,775.2 425.7,777.9 424.0,775.1 426.3,772.2 424.6,769.7 420.8,767.4" fill="none" stroke="#40a0a0" stroke-width="0.68" stroke-linejoin="round" stroke-linecap="round"/><path d="M440.0,775.7 436.2,778.4 432.7,782.3 431.4,779.7 429.6,781.4 426.6,781.0" fill="none" stroke="#30708a" stroke-width="0.71" stroke-linejoin="round" stroke-linecap="round"/><path d="M424.0,776.3 422.0,778.1 425.4,776.4 424.8,774.6 425.1,771.2 425.0,774.5" fill="none" stroke="#40a0a0" stroke-width="0.69" stroke-linejoin="round" stroke-linecap="round"/><path d="M419.7,773.7 417.9,770.0 416.5,771.4 418.5,773.8 420.2,776.8 418.1,776.1" fill="none" stroke="#2a8aa0" stroke-width="1.24" stroke-linejoin="round" stroke-linecap="round"/><path d="M436.4,776.2 437.8,776.9 435.9,778.3 434.2,775.5 434.8,775.8 437.3,777.3" fill="none" stroke="#4a70a8" stroke-width="0.66" stroke-linejoin="round" stroke-linecap="round"/><path d="M421.3,774.8 421.7,773.9 422.1,776.8 422.7,775.9 421.1,772.0 421.6,770.3" fill="none" stroke="#4a70a8" stroke-width="1.17" stroke-linejoin="round" stroke-linecap="round"/><path d="M441.2,775.3 442.3,777.3 439.0,773.5 440.4,777.1 443.1,780.7 444.0,780.6" fill="none" stroke="#3a9a80" stroke-width="1.24" stroke-linejoin="round" stroke-linecap="round"/><path d="M441.4,775.6 440.2,777.8 443.7,778.8 442.1,775.1 442.0,771.6 444.9,774.6" fill="none" stroke="#2a8aa0" stroke-width="0.88" stroke-linejoin="round" stroke-linecap="round"/><path d="M436.1,774.4 436.5,775.6 438.2,772.1 440.1,775.8 441.8,777.2 441.9,773.6" fill="none" stroke="#3a9a80" stroke-width="0.85" stroke-linejoin="round" stroke-linecap="round"/><path d="M437.3,780.1 438.5,777.7 437.3,773.9 437.2,771.8 436.8,768.5 436.6,767.4" fill="none" stroke="#40a0a0" stroke-width="0.99" stroke-linejoin="round" stroke-linecap="round"/><path d="M439.1,773.8 439.4,776.1 441.8,779.1 445.4,779.1 443.0,781.7 446.1,778.1" fill="none" stroke="#40a0a0" stroke-width="1.21" stroke-linejoin="round" stroke-linecap="round"/><path d="M426.9,773.9 424.0,774.0 424.3,776.8 427.6,774.2 426.3,773.5 424.9,771.0" fill="none" stroke="#2a8aa0" stroke-width="1.17" stroke-linejoin="round" stroke-linecap="round"/><path d="M428.4,776.1 428.4,774.5 424.6,774.0 426.8,771.1 429.5,768.6 433.2,769.4" fill="none" stroke="#2a8aa0" stroke-width="0.71" stroke-linejoin="round" stroke-linecap="round"/><path d="M430.6,780.6 430.5,778.8 429.3,778.9 425.5,781.8 421.8,783.0 423.8,780.1" fill="none" stroke="#3a9a80" stroke-width="1.05" stroke-linejoin="round" stroke-linecap="round"/><path d="M433.9,776.1 435.2,772.7 431.8,768.8 434.0,771.8 432.4,773.5 435.4,770.0" fill="none" stroke="#4a70a8" stroke-width="0.66" stroke-linejoin="round" stroke-linecap="round"/><path d="M445.1,775.6 449.0,774.3 448.2,777.4 450.4,775.5 450.4,779.1 450.4,781.9" fill="none" stroke="#3a9a80" stroke-width="1.25" stroke-linejoin="round" stroke-linecap="round"/><path d="M443.2,776.9 442.9,776.7 444.0,778.6 440.0,781.5 439.5,778.6 439.0,776.3" fill="none" stroke="#30708a" stroke-width="0.91" stroke-linejoin="round" stroke-linecap="round"/><path d="M438.4,776.1 441.6,772.5 439.5,769.7 440.9,768.0 443.1,771.4 439.5,768.4" fill="none" stroke="#40a0a0" stroke-width="1.09" stroke-linejoin="round" stroke-linecap="round"/><path d="M424.0,778.4 427.7,775.5 430.9,776.3 430.3,773.4 428.4,775.1 428.8,775.5" fill="none" stroke="#30708a" stroke-width="0.83" stroke-linejoin="round" stroke-linecap="round"/><path d="M422.9,777.1 425.8,773.8 428.1,774.5 429.7,775.0 430.0,773.4 432.0,774.1" fill="none" stroke="#2a8aa0" stroke-width="0.93" stroke-linejoin="round" stroke-linecap="round"/><path d="M428.5,779.5 430.5,780.5 429.6,777.4 431.4,779.3 432.3,780.7 429.5,781.7" fill="none" stroke="#2a8aa0" stroke-width="0.74" stroke-linejoin="round" stroke-linecap="round"/><path d="M439.9,770.2 440.3,773.5 444.1,776.6 442.6,773.0 441.8,775.1 441.8,772.7" fill="none" stroke="#3a9a80" stroke-width="1.16" stroke-linejoin="round" stroke-linecap="round"/><path d="M429.3,771.1 432.8,770.2 432.8,770.0 432.8,768.0 430.7,767.4 431.1,770.4" fill="none" stroke="#40a0a0" stroke-width="1.08" stroke-linejoin="round" stroke-linecap="round"/><path d="M422.8,774.1 424.7,770.3 426.5,772.0 430.2,770.5 426.9,770.6 424.4,773.6" fill="none" stroke="#30708a" stroke-width="0.85" stroke-linejoin="round" stroke-linecap="round"/><path d="M425.2,773.7 421.8,775.6 422.4,771.8 424.4,771.8 427.8,768.8 428.5,767.4" fill="none" stroke="#40a0a0" stroke-width="0.89" stroke-linejoin="round" stroke-linecap="round"/><path d="M447.0,775.5 443.7,773.5 442.0,776.4 441.6,778.5 440.4,778.3 442.9,778.6" fill="none" stroke="#30708a" stroke-width="1.12" stroke-linejoin="round" stroke-linecap="round"/><path d="M446.2,772.8 446.2,776.0 443.5,776.8 447.5,777.7 445.2,774.3 444.7,777.5" fill="none" stroke="#30708a" stroke-width="0.95" stroke-linejoin="round" stroke-linecap="round"/><path d="M425.3,780.2 425.6,781.5 422.2,779.1 418.9,782.9 422.7,780.1 420.3,780.4" fill="none" stroke="#3a9a80" stroke-width="1.02" stroke-linejoin="round" stroke-linecap="round"/><path d="M425.5,774.0 424.8,777.7 422.2,776.9 418.5,776.1 416.4,778.5 416.4,777.6" fill="none" stroke="#40a0a0" stroke-width="1.12" stroke-linejoin="round" stroke-linecap="round"/><path d="M431.1,780.8 432.3,780.1 429.7,777.7 427.8,779.0 424.7,775.9 423.1,775.3" fill="none" stroke="#2a8aa0" stroke-width="0.65" stroke-linejoin="round" stroke-linecap="round"/><path d="M432.9,779.2 429.7,781.0 432.4,783.4 434.6,782.0 432.0,778.3 432.2,781.7" fill="none" stroke="#3a9a80" stroke-width="0.86" stroke-linejoin="round" stroke-linecap="round"/></g>
<circle cx="709.5" cy="855.7" r="39.6" fill="#f0f1c6" stroke="#adb282" stroke-width="6.2"/>
<g><path d="M697.5,841.7 q6,2 9,8 q4,8 7,16 q3,9 7,19" fill="none" stroke="#a07585" stroke-width="1.3"/><path d="M696.5,845.7 l6,-4 l-2,6 l7,-3" fill="none" stroke="#9a6a80" stroke-width="1.0"/><path d="M699.5,839.7 q8,3 12,12" fill="none" stroke="#b08090" stroke-width="0.9"/></g>
<circle cx="204.2" cy="955.3" r="39.6" fill="#cbbfe2" stroke="#8d7bbd" stroke-width="6.2"/>
<g><path d="M211.3,957.7 206.9,959.6 206.1,960.6 208.9,961.5 210.6,965.8 210.6,967.1" fill="none" stroke="#3a8ad0" stroke-width="0.84" stroke-linejoin="round" stroke-linecap="round"/><path d="M185.0,956.4 184.1,958.5 186.1,958.5 189.7,955.0 191.8,954.1 186.8,949.1" fill="none" stroke="#3aa0c8" stroke-width="1.21" stroke-linejoin="round" stroke-linecap="round"/><path d="M190.2,958.7 187.9,957.2 188.5,953.6 193.1,954.5 193.5,953.3 191.6,954.5" fill="none" stroke="#2f5fc0" stroke-width="1.48" stroke-linejoin="round" stroke-linecap="round"/><path d="M207.5,960.3 202.5,959.3 204.1,963.1 207.0,962.7 210.1,964.8 206.1,963.3" fill="none" stroke="#3a8ad0" stroke-width="1.29" stroke-linejoin="round" stroke-linecap="round"/><path d="M204.6,948.3 203.9,946.3 199.4,949.2 195.4,949.1 191.8,945.7 187.1,941.9" fill="none" stroke="#2f5fc0" stroke-width="1.17" stroke-linejoin="round" stroke-linecap="round"/><path d="M200.4,957.9 198.4,957.2 200.3,952.4 197.1,947.7 192.4,948.4 187.8,947.4" fill="none" stroke="#2f5fc0" stroke-width="1.14" stroke-linejoin="round" stroke-linecap="round"/><path d="M210.9,962.7 215.0,963.9 218.2,959.2 221.0,954.8 222.2,954.3 220.5,949.6" fill="none" stroke="#4060b0" stroke-width="1.41" stroke-linejoin="round" stroke-linecap="round"/><path d="M207.3,948.8 208.1,947.0 205.7,942.6 210.7,942.7 207.5,945.9 202.8,947.5" fill="none" stroke="#2f5fc0" stroke-width="1.47" stroke-linejoin="round" stroke-linecap="round"/><path d="M210.3,948.6 214.7,946.1 211.2,944.7 211.5,947.9 207.0,948.9 209.2,945.3" fill="none" stroke="#4060b0" stroke-width="0.94" stroke-linejoin="round" stroke-linecap="round"/><path d="M193.0,948.2 195.8,948.8 199.7,950.2 198.2,949.4 199.9,952.7 198.3,948.0" fill="none" stroke="#4060b0" stroke-width="0.95" stroke-linejoin="round" stroke-linecap="round"/><path d="M207.8,964.5 205.1,966.4 205.8,964.1 202.2,966.2 203.5,964.7 201.1,961.1" fill="none" stroke="#4060b0" stroke-width="1.63" stroke-linejoin="round" stroke-linecap="round"/><path d="M186.0,970.1 190.6,973.0 186.0,970.3 185.4,968.8 184.3,969.0 186.2,969.3" fill="none" stroke="#2a4aa8" stroke-width="0.87" stroke-linejoin="round" stroke-linecap="round"/><path d="M200.9,945.1 203.0,948.8 205.9,952.9 210.1,956.1 205.6,960.6 202.8,964.3" fill="none" stroke="#4060b0" stroke-width="1.43" stroke-linejoin="round" stroke-linecap="round"/><path d="M184.0,953.9 188.7,958.2 192.2,956.8 191.0,961.8 194.8,958.4 190.7,956.5" fill="none" stroke="#3a8ad0" stroke-width="1.32" stroke-linejoin="round" stroke-linecap="round"/><path d="M200.5,940.7 203.3,937.7 204.8,934.1 206.3,934.1 209.8,933.7 209.2,933.3" fill="none" stroke="#2a4aa8" stroke-width="1.35" stroke-linejoin="round" stroke-linecap="round"/><path d="M203.1,978.7 198.8,978.1 203.0,979.1 207.8,978.9 211.0,980.5 214.6,976.8" fill="none" stroke="#3a8ad0" stroke-width="1.60" stroke-linejoin="round" stroke-linecap="round"/><path d="M203.9,948.3 200.3,948.7 197.1,952.0 192.3,951.1 194.5,949.0 197.4,945.7" fill="none" stroke="#3a8ad0" stroke-width="1.36" stroke-linejoin="round" stroke-linecap="round"/><path d="M219.8,958.8 220.6,959.1 222.2,961.2 222.2,956.8 219.5,957.9 221.9,962.5" fill="none" stroke="#3aa0c8" stroke-width="1.17" stroke-linejoin="round" stroke-linecap="round"/><path d="M219.8,956.7 217.8,955.0 218.3,959.6 215.6,961.5 211.8,965.9 211.7,961.8" fill="none" stroke="#3a8ad0" stroke-width="1.04" stroke-linejoin="round" stroke-linecap="round"/><path d="M193.7,956.5 191.2,951.7 194.0,950.2 194.4,953.9 198.1,955.4 199.4,955.6" fill="none" stroke="#4060b0" stroke-width="0.99" stroke-linejoin="round" stroke-linecap="round"/><path d="M184.9,960.3 182.1,964.1 183.4,968.8 179.9,969.7 178.2,972.4 178.2,968.8" fill="none" stroke="#3aa0c8" stroke-width="1.01" stroke-linejoin="round" stroke-linecap="round"/><path d="M200.0,938.8 203.7,935.4 199.5,934.4 202.6,935.2 201.7,934.6 198.5,933.3" fill="none" stroke="#3aa0c8" stroke-width="1.23" stroke-linejoin="round" stroke-linecap="round"/><path d="M182.5,956.7 178.7,956.2 178.9,955.4 180.1,955.2 180.7,955.4 179.1,956.0" fill="none" stroke="#3a8ad0" stroke-width="1.15" stroke-linejoin="round" stroke-linecap="round"/><path d="M198.5,959.8 194.5,955.0 193.6,952.4 189.9,957.3 186.7,956.6 185.3,957.2" fill="none" stroke="#2f5fc0" stroke-width="1.31" stroke-linejoin="round" stroke-linecap="round"/><path d="M183.2,954.0 186.4,949.5 186.4,954.2 186.1,954.2 183.8,951.9 188.5,947.2" fill="none" stroke="#2a4aa8" stroke-width="1.12" stroke-linejoin="round" stroke-linecap="round"/><path d="M213.3,942.0 210.3,941.1 206.6,945.8 207.8,947.3 209.8,945.1 212.5,948.7" fill="none" stroke="#3a8ad0" stroke-width="1.31" stroke-linejoin="round" stroke-linecap="round"/><path d="M190.8,953.7 194.5,949.2 190.7,950.0 192.0,949.2 187.1,953.0 184.3,949.7" fill="none" stroke="#4060b0" stroke-width="1.63" stroke-linejoin="round" stroke-linecap="round"/><path d="M212.7,966.5 217.0,968.3 219.5,969.0 222.2,965.5 221.7,963.9 220.8,967.1" fill="none" stroke="#3aa0c8" stroke-width="1.22" stroke-linejoin="round" stroke-linecap="round"/><path d="M216.1,970.1 214.1,975.0 211.7,971.1 208.8,968.1 205.3,972.8 200.5,973.2" fill="none" stroke="#3aa0c8" stroke-width="0.97" stroke-linejoin="round" stroke-linecap="round"/><path d="M197.8,941.5 200.8,946.3 201.8,950.0 202.1,945.0 197.8,949.9 199.8,952.9" fill="none" stroke="#3aa0c8" stroke-width="1.18" stroke-linejoin="round" stroke-linecap="round"/><path d="M196.9,942.7 196.7,944.5 200.4,947.6 196.1,944.4 200.9,941.5 205.8,942.1" fill="none" stroke="#2a4aa8" stroke-width="0.97" stroke-linejoin="round" stroke-linecap="round"/><path d="M208.7,938.3 212.3,941.7 208.9,945.5 213.3,940.6 211.7,938.3 207.9,933.5" fill="none" stroke="#3a8ad0" stroke-width="1.00" stroke-linejoin="round" stroke-linecap="round"/><path d="M213.4,970.1 211.1,972.2 211.2,969.0 215.6,965.7 211.4,961.8 210.6,958.8" fill="none" stroke="#4060b0" stroke-width="1.35" stroke-linejoin="round" stroke-linecap="round"/><path d="M205.5,974.4 201.0,972.2 197.5,973.0 200.4,976.4 204.1,974.3 209.0,975.1" fill="none" stroke="#3a8ad0" stroke-width="0.96" stroke-linejoin="round" stroke-linecap="round"/><path d="M190.5,957.1 191.7,961.3 192.0,961.7 190.3,966.0 188.8,968.0 189.7,972.9" fill="none" stroke="#2f5fc0" stroke-width="1.19" stroke-linejoin="round" stroke-linecap="round"/><path d="M207.3,961.9 207.0,958.8 206.0,961.6 207.4,960.9 210.9,959.4 206.8,961.7" fill="none" stroke="#2f5fc0" stroke-width="1.27" stroke-linejoin="round" stroke-linecap="round"/><path d="M184.9,963.9 187.3,967.9 188.7,964.2 190.1,967.0 192.1,964.8 190.4,962.9" fill="none" stroke="#3a8ad0" stroke-width="1.63" stroke-linejoin="round" stroke-linecap="round"/><path d="M197.3,955.1 198.2,956.8 200.2,956.6 197.3,961.5 193.2,956.7 188.8,960.2" fill="none" stroke="#3a8ad0" stroke-width="1.63" stroke-linejoin="round" stroke-linecap="round"/><path d="M207.7,940.0 208.4,935.2 204.8,937.3 206.4,937.0 207.5,938.3 202.7,941.9" fill="none" stroke="#2f5fc0" stroke-width="1.11" stroke-linejoin="round" stroke-linecap="round"/><path d="M207.6,957.3 205.7,955.9 205.3,953.0 206.7,957.0 205.1,955.0 205.7,957.3" fill="none" stroke="#3a8ad0" stroke-width="1.37" stroke-linejoin="round" stroke-linecap="round"/><path d="M183.8,949.9 180.1,953.9 178.2,953.7 178.2,958.3 178.2,962.8 182.0,964.3" fill="none" stroke="#3a8ad0" stroke-width="1.40" stroke-linejoin="round" stroke-linecap="round"/><path d="M180.9,954.3 180.8,953.2 178.2,957.9 180.6,954.1 183.4,954.7 181.5,953.9" fill="none" stroke="#2f5fc0" stroke-width="1.47" stroke-linejoin="round" stroke-linecap="round"/><path d="M199.6,950.2 200.7,952.6 199.9,951.8 196.0,950.5 200.7,951.9 203.2,953.4" fill="none" stroke="#3aa0c8" stroke-width="1.48" stroke-linejoin="round" stroke-linecap="round"/><path d="M218.2,960.6 220.0,964.1 222.2,959.2 221.1,959.1 221.7,962.3 221.1,957.6" fill="none" stroke="#3a8ad0" stroke-width="0.92" stroke-linejoin="round" stroke-linecap="round"/><path d="M185.8,952.3 189.2,949.2 186.7,945.1 188.1,947.4 187.3,947.0 186.9,951.2" fill="none" stroke="#2f5fc0" stroke-width="1.19" stroke-linejoin="round" stroke-linecap="round"/><path d="M202.9,937.9 205.0,935.2 203.6,937.8 199.1,941.0 196.0,944.6 197.6,942.2" fill="none" stroke="#3a8ad0" stroke-width="1.52" stroke-linejoin="round" stroke-linecap="round"/><path d="M184.4,967.1 186.9,971.5 186.3,971.4 190.4,974.9 190.9,979.9 188.9,978.1" fill="none" stroke="#4060b0" stroke-width="1.40" stroke-linejoin="round" stroke-linecap="round"/><path d="M196.5,945.8 200.8,945.0 196.1,940.4 195.3,939.2 193.9,941.7 195.4,939.3" fill="none" stroke="#2f5fc0" stroke-width="0.93" stroke-linejoin="round" stroke-linecap="round"/><path d="M207.3,938.2 203.9,939.4 203.4,940.1 202.7,938.3 202.2,939.5 199.2,937.4" fill="none" stroke="#3aa0c8" stroke-width="1.12" stroke-linejoin="round" stroke-linecap="round"/><path d="M207.5,944.4 210.6,944.9 207.0,949.0 208.7,945.7 211.7,944.1 210.1,941.2" fill="none" stroke="#3a8ad0" stroke-width="1.53" stroke-linejoin="round" stroke-linecap="round"/><path d="M191.5,958.3 194.1,960.2 191.9,961.9 192.7,963.9 194.6,967.1 191.6,964.9" fill="none" stroke="#2f5fc0" stroke-width="1.22" stroke-linejoin="round" stroke-linecap="round"/><path d="M207.7,952.1 203.8,949.9 202.4,947.8 204.4,951.8 200.4,947.1 204.4,942.6" fill="none" stroke="#4060b0" stroke-width="1.26" stroke-linejoin="round" stroke-linecap="round"/><path d="M182.6,947.9 187.5,946.6 191.7,945.0 192.2,944.9 194.1,948.9 190.2,947.7" fill="none" stroke="#2a4aa8" stroke-width="1.49" stroke-linejoin="round" stroke-linecap="round"/><path d="M191.4,943.2 188.2,939.9 192.4,941.1 194.9,940.9 192.8,940.0 197.0,935.9" fill="none" stroke="#3aa0c8" stroke-width="1.53" stroke-linejoin="round" stroke-linecap="round"/><path d="M197.8,948.8 201.5,950.7 200.8,954.0 199.4,952.4 194.6,955.8 192.0,959.4" fill="none" stroke="#2a4aa8" stroke-width="1.51" stroke-linejoin="round" stroke-linecap="round"/><path d="M193.6,949.5 192.3,952.3 192.3,949.5 190.6,951.1 189.6,951.7 190.5,952.3" fill="none" stroke="#50a060" stroke-width="1.34" stroke-linejoin="round" stroke-linecap="round"/><path d="M192.5,943.8 189.0,940.7 189.3,939.3 190.7,941.1 190.2,938.3 189.4,935.1" fill="none" stroke="#50a060" stroke-width="1.50" stroke-linejoin="round" stroke-linecap="round"/><path d="M195.7,946.6 195.6,947.4 195.9,948.3 193.0,950.8 191.5,948.3 189.1,949.6" fill="none" stroke="#40a080" stroke-width="1.34" stroke-linejoin="round" stroke-linecap="round"/><path d="M187.6,939.1 187.9,939.0 187.4,941.2 190.2,937.8 188.7,935.2 186.7,934.3" fill="none" stroke="#40a080" stroke-width="1.33" stroke-linejoin="round" stroke-linecap="round"/><path d="M189.6,946.5 187.0,943.4 188.9,945.9 189.0,948.5 186.1,949.3 187.0,952.3" fill="none" stroke="#40a080" stroke-width="1.34" stroke-linejoin="round" stroke-linecap="round"/><path d="M191.9,945.5 194.7,948.4 197.3,945.2 197.8,949.0 197.7,946.2 194.0,944.2" fill="none" stroke="#50a060" stroke-width="1.36" stroke-linejoin="round" stroke-linecap="round"/><path d="M187.8,947.4 189.6,943.9 193.4,940.4 191.5,942.0 193.9,940.5 194.0,943.7" fill="none" stroke="#40a080" stroke-width="1.37" stroke-linejoin="round" stroke-linecap="round"/><path d="M187.0,945.8 185.5,949.3 187.9,948.3 188.4,949.9 186.8,951.7 187.1,949.0" fill="none" stroke="#40a080" stroke-width="1.11" stroke-linejoin="round" stroke-linecap="round"/><path d="M188.1,938.0 188.8,941.6 186.4,941.2 186.5,943.3 189.9,945.3 188.0,947.2" fill="none" stroke="#50a060" stroke-width="1.30" stroke-linejoin="round" stroke-linecap="round"/><path d="M187.4,945.5 184.0,948.5 183.2,946.1 183.2,947.6 183.2,948.6 183.2,949.9" fill="none" stroke="#50a060" stroke-width="1.09" stroke-linejoin="round" stroke-linecap="round"/><path d="M209.4,952.0 210.4,955.2 213.4,953.2 214.4,950.8 210.7,954.8 207.0,954.0" fill="none" stroke="#60a070" stroke-width="0.87" stroke-linejoin="round" stroke-linecap="round"/><path d="M218.5,959.8 221.2,962.5 218.3,963.1 219.9,963.8 221.2,963.5 221.2,963.5" fill="none" stroke="#8060b0" stroke-width="1.20" stroke-linejoin="round" stroke-linecap="round"/><path d="M210.3,951.8 209.1,949.7 210.7,951.8 206.9,949.3 207.8,949.3 209.8,952.4" fill="none" stroke="#60a070" stroke-width="0.79" stroke-linejoin="round" stroke-linecap="round"/><path d="M210.7,964.2 209.3,967.6 212.9,965.5 210.1,966.3 211.1,966.9 208.1,969.3" fill="none" stroke="#8060b0" stroke-width="1.13" stroke-linejoin="round" stroke-linecap="round"/><path d="M210.1,953.9 210.7,957.2 208.5,960.4 209.3,957.5 207.3,954.2 203.4,954.0" fill="none" stroke="#8060b0" stroke-width="1.31" stroke-linejoin="round" stroke-linecap="round"/><path d="M215.1,952.4 218.6,954.9 217.9,952.2 221.2,955.3 218.2,957.9 215.6,958.5" fill="none" stroke="#8060b0" stroke-width="0.73" stroke-linejoin="round" stroke-linecap="round"/><path d="M213.2,953.9 215.0,953.4 213.3,950.6 210.6,949.3 211.0,949.3 210.3,950.8" fill="none" stroke="#a0a040" stroke-width="1.36" stroke-linejoin="round" stroke-linecap="round"/><path d="M208.9,964.6 209.1,961.5 211.0,960.9 208.7,958.3 207.7,956.5 205.5,955.3" fill="none" stroke="#8060b0" stroke-width="1.19" stroke-linejoin="round" stroke-linecap="round"/><path d="M214.8,952.1 212.2,949.3 215.5,950.4 213.6,949.3 214.1,950.6 212.0,953.7" fill="none" stroke="#8060b0" stroke-width="0.95" stroke-linejoin="round" stroke-linecap="round"/><path d="M217.3,964.5 217.7,964.3 216.5,965.5 216.1,969.3 212.9,969.3 216.4,965.3" fill="none" stroke="#60a070" stroke-width="0.71" stroke-linejoin="round" stroke-linecap="round"/><path d="M207.4,962.5 204.8,964.7 203.2,961.2 203.2,963.9 203.2,965.4 203.2,969.3" fill="none" stroke="#60a070" stroke-width="1.03" stroke-linejoin="round" stroke-linecap="round"/><path d="M218.9,961.0 219.5,962.8 218.2,960.7 221.2,957.0 221.2,956.6 220.1,954.4" fill="none" stroke="#a0a040" stroke-width="1.12" stroke-linejoin="round" stroke-linecap="round"/><path d="M210.2,969.3 q8,8 16,0" fill="none" stroke="#b02060" stroke-width="2.4"/></g>
<circle cx="448.9" cy="1002.1" r="39.6" fill="#c1e3cc" stroke="#7bb98f" stroke-width="6.2"/>
<g><path d="M424.9,984.1 423.3,985.9 422.9,987.1 424.1,987.3 426.5,986.8 428.8,986.4 430.0,986.6 429.6,987.7 428.0,989.5 426.5,991.3 426.1,992.5 427.3,992.7 429.6,992.2 432.0,991.8 433.2,992.0 432.8,993.1 431.2,995.0 429.6,996.8 429.2,997.9 430.4,998.1 432.8,997.7 435.1,997.2 436.3,997.4 435.9,998.6 434.3,1000.4 432.8,1002.2 432.3,1003.3 433.5,1003.6 435.9,1003.1 438.3,1002.6 439.5,1002.9 439.0,1004.0 437.5,1005.8 435.9,1007.6 435.5,1008.8 436.7,1009.0 439.0,1008.5 441.4,1008.1 442.6,1008.3 442.2,1009.4 440.6,1011.2 439.0,1013.1 438.6,1014.2 439.8,1014.4 442.2,1014.0 444.5,1013.5 445.7,1013.7 445.3,1014.9 443.8,1016.7 442.2,1018.5 441.8,1019.6 443.0,1019.8 445.3,1019.4 447.7,1018.9 448.9,1019.1 448.5,1020.3 446.9,1022.1" fill="none" stroke="#5a64a0" stroke-width="1.6" stroke-linejoin="round"/><path d="M460.9,984.1 458.6,984.4 457.5,985.1 458.1,986.2 459.9,987.7 461.7,989.2 462.3,990.3 461.2,991.0 458.9,991.3 456.6,991.6 455.5,992.3 456.1,993.4 457.9,994.9 459.7,996.4 460.3,997.5 459.2,998.2 456.9,998.5 454.6,998.8 453.5,999.5 454.1,1000.6 455.9,1002.1 457.7,1003.6 458.3,1004.7 457.2,1005.4 454.9,1005.7 452.6,1006.0 451.5,1006.7 452.1,1007.8 453.9,1009.3 455.7,1010.8 456.3,1011.9 455.2,1012.6 452.9,1012.9 450.6,1013.2 449.5,1013.9 450.1,1015.0 451.9,1016.5 453.7,1018.0 454.3,1019.1 453.2,1019.8 450.9,1020.1" fill="none" stroke="#4a5890" stroke-width="1.5" stroke-linejoin="round"/><path d="M445.9,1020.1 q4,4 6,0" fill="none" stroke="#3a5070" stroke-width="1.2"/></g>
<circle cx="877.2" cy="1101.5" r="39.6" fill="#9099d0" stroke="#4c58a0" stroke-width="6.2"/>
<g><path d="M869.2,1111.5 q2,-6 0,-9 q3,-2 6,-1 q4,-4 6,-2 l8,1" fill="none" stroke="#402a60" stroke-width="1.4"/></g>
<circle cx="672.6" cy="1174.4" r="39.6" fill="#90d2c6" stroke="#40998c" stroke-width="6.2"/>
<g><path d="M651.8,1166.3 655.8,1165.2 655.2,1163.4 656.5,1162.8 657.7,1161.2 654.5,1162.3" fill="none" stroke="#2a7040" stroke-width="0.89" stroke-linejoin="round" stroke-linecap="round"/><path d="M657.2,1174.8 655.1,1176.4 652.8,1175.6 656.3,1179.4 653.5,1178.9 650.1,1175.0" fill="none" stroke="#40904a" stroke-width="0.72" stroke-linejoin="round" stroke-linecap="round"/><path d="M649.8,1167.7 652.5,1165.0 653.6,1163.1 650.6,1161.3 649.2,1163.0 650.1,1165.4" fill="none" stroke="#60a050" stroke-width="1.24" stroke-linejoin="round" stroke-linecap="round"/><path d="M657.1,1166.2 655.9,1162.8 653.7,1161.1 654.3,1162.1 653.7,1165.0 655.4,1161.4" fill="none" stroke="#2a7040" stroke-width="0.88" stroke-linejoin="round" stroke-linecap="round"/><path d="M659.1,1173.1 656.7,1170.1 657.9,1171.7 655.3,1175.3 655.5,1173.6 659.3,1176.9" fill="none" stroke="#3a8060" stroke-width="1.21" stroke-linejoin="round" stroke-linecap="round"/><path d="M663.5,1166.8 659.6,1166.1 658.5,1166.1 659.2,1170.0 662.4,1173.9 659.0,1175.3" fill="none" stroke="#2a7040" stroke-width="1.04" stroke-linejoin="round" stroke-linecap="round"/><path d="M658.6,1159.9 655.8,1156.6 654.4,1159.1 656.9,1162.7 660.0,1166.6 661.2,1166.9" fill="none" stroke="#60a050" stroke-width="1.04" stroke-linejoin="round" stroke-linecap="round"/><path d="M669.5,1167.2 669.3,1170.6 668.3,1170.1 669.6,1172.8 667.2,1175.8 668.8,1179.2" fill="none" stroke="#2a7040" stroke-width="1.20" stroke-linejoin="round" stroke-linecap="round"/><path d="M652.7,1175.3 650.5,1177.3 652.9,1179.4 654.1,1179.4 650.6,1179.4 651.3,1178.7" fill="none" stroke="#3a8060" stroke-width="0.68" stroke-linejoin="round" stroke-linecap="round"/><path d="M668.3,1165.9 665.0,1169.5 666.1,1171.9 669.0,1173.4 668.6,1175.0 668.7,1176.2" fill="none" stroke="#60a050" stroke-width="0.68" stroke-linejoin="round" stroke-linecap="round"/><path d="M656.4,1157.6 652.7,1155.4 653.5,1155.4 650.9,1155.4 651.4,1155.4 654.6,1155.4" fill="none" stroke="#2a7040" stroke-width="0.82" stroke-linejoin="round" stroke-linecap="round"/><path d="M659.3,1169.0 657.0,1168.3 656.4,1165.7 656.9,1164.5 658.4,1161.5 661.9,1164.5" fill="none" stroke="#3a8060" stroke-width="0.76" stroke-linejoin="round" stroke-linecap="round"/><path d="M661.7,1171.1 663.0,1168.4 662.7,1171.3 665.7,1173.6 661.9,1176.4 660.7,1176.6" fill="none" stroke="#40904a" stroke-width="1.20" stroke-linejoin="round" stroke-linecap="round"/><path d="M654.8,1170.1 654.9,1166.2 657.7,1163.5 660.1,1162.3 661.2,1165.5 662.9,1163.8" fill="none" stroke="#2a7040" stroke-width="1.04" stroke-linejoin="round" stroke-linecap="round"/><path d="M659.2,1161.7 658.1,1164.3 656.7,1164.1 652.8,1161.3 650.5,1162.9 648.3,1160.8" fill="none" stroke="#60a050" stroke-width="0.64" stroke-linejoin="round" stroke-linecap="round"/><path d="M664.3,1170.9 664.9,1174.2 661.6,1176.1 660.9,1172.6 664.2,1175.1 661.7,1178.9" fill="none" stroke="#60a050" stroke-width="0.67" stroke-linejoin="round" stroke-linecap="round"/><path d="M664.7,1165.1 661.1,1165.3 660.9,1162.0 662.8,1158.5 664.2,1156.5 666.3,1155.4" fill="none" stroke="#2a7040" stroke-width="1.14" stroke-linejoin="round" stroke-linecap="round"/><path d="M668.6,1171.4 665.1,1174.6 662.2,1178.2 659.0,1175.6 662.2,1173.0 663.1,1171.2" fill="none" stroke="#2a7040" stroke-width="0.85" stroke-linejoin="round" stroke-linecap="round"/><path d="M655.4,1171.7 653.9,1172.8 650.1,1173.3 650.9,1169.3 654.4,1168.2 655.1,1171.9" fill="none" stroke="#3a8060" stroke-width="1.08" stroke-linejoin="round" stroke-linecap="round"/><path d="M667.2,1162.1 664.2,1161.1 665.2,1165.1 664.1,1168.4 667.1,1171.6 665.1,1167.9" fill="none" stroke="#60a050" stroke-width="0.96" stroke-linejoin="round" stroke-linecap="round"/><path d="M656.5,1170.3 656.7,1168.2 656.8,1171.6 656.4,1173.1 659.8,1174.0 658.7,1171.6" fill="none" stroke="#3a8060" stroke-width="0.85" stroke-linejoin="round" stroke-linecap="round"/><path d="M661.0,1165.3 664.1,1165.4 660.5,1168.0 658.1,1167.1 658.8,1163.5 659.5,1160.6" fill="none" stroke="#60a050" stroke-width="1.01" stroke-linejoin="round" stroke-linecap="round"/><path d="M653.6,1166.0 650.4,1163.9 652.3,1163.2 651.8,1161.4 653.5,1161.3 650.6,1163.5" fill="none" stroke="#60a050" stroke-width="1.25" stroke-linejoin="round" stroke-linecap="round"/><path d="M655.5,1159.3 654.9,1156.0 655.3,1155.4 654.7,1155.4 657.3,1156.2 657.4,1156.4" fill="none" stroke="#3a8060" stroke-width="1.09" stroke-linejoin="round" stroke-linecap="round"/><path d="M663.0,1169.5 661.0,1167.4 657.9,1165.2 654.4,1161.6 652.4,1163.1 653.8,1163.8" fill="none" stroke="#60a050" stroke-width="0.85" stroke-linejoin="round" stroke-linecap="round"/><path d="M650.5,1168.1 653.0,1171.7 653.1,1175.6 654.0,1176.3 656.3,1177.8 660.0,1179.4" fill="none" stroke="#40904a" stroke-width="1.15" stroke-linejoin="round" stroke-linecap="round"/><path d="M651.4,1170.4 648.1,1173.4 647.7,1174.8 650.1,1171.9 652.0,1174.6 650.1,1172.5" fill="none" stroke="#40904a" stroke-width="1.25" stroke-linejoin="round" stroke-linecap="round"/><path d="M649.5,1169.3 651.6,1170.4 650.4,1172.9 653.3,1175.3 652.6,1177.1 654.3,1174.0" fill="none" stroke="#60a050" stroke-width="0.66" stroke-linejoin="round" stroke-linecap="round"/><path d="M651.4,1161.1 649.0,1164.1 645.6,1165.5 645.6,1161.6 647.2,1162.3 645.6,1161.7" fill="none" stroke="#40904a" stroke-width="1.04" stroke-linejoin="round" stroke-linecap="round"/><path d="M659.7,1174.7 656.0,1176.1 658.4,1172.5 658.3,1169.6 657.6,1169.5 660.1,1172.4" fill="none" stroke="#40904a" stroke-width="0.64" stroke-linejoin="round" stroke-linecap="round"/><path d="M667.6,1176.4 q8,8 16,6 q6,-2 10,4" fill="none" stroke="#4a8a50" stroke-width="1.2"/><path d="M691.4,1182.8 692.6,1183.3 693.9,1182.4 691.0,1184.4 690.3,1185.6 690.8,1186.8" fill="none" stroke="#40904a" stroke-width="0.92" stroke-linejoin="round" stroke-linecap="round"/><path d="M688.7,1182.3 691.4,1182.7 692.2,1180.6 694.1,1179.0 691.2,1179.9 691.6,1180.2" fill="none" stroke="#40904a" stroke-width="0.64" stroke-linejoin="round" stroke-linecap="round"/><path d="M684.8,1181.0 686.5,1181.5 688.9,1179.2 689.9,1181.9 689.6,1183.3 687.5,1181.2" fill="none" stroke="#40904a" stroke-width="0.85" stroke-linejoin="round" stroke-linecap="round"/><path d="M684.9,1182.5 687.9,1185.1 688.6,1184.0 690.0,1181.8 691.3,1178.9 688.5,1180.2" fill="none" stroke="#40904a" stroke-width="1.06" stroke-linejoin="round" stroke-linecap="round"/><path d="M687.2,1184.3 686.6,1182.5 688.9,1183.2 689.2,1181.8 686.3,1182.7 687.3,1180.9" fill="none" stroke="#40904a" stroke-width="0.72" stroke-linejoin="round" stroke-linecap="round"/><path d="M689.6,1183.8 688.0,1181.7 687.8,1178.9 690.5,1177.3 689.5,1177.0 691.0,1174.9" fill="none" stroke="#60a050" stroke-width="0.74" stroke-linejoin="round" stroke-linecap="round"/><path d="M688.3,1179.7 689.0,1179.2 691.3,1177.9 690.7,1177.2 690.8,1178.1 691.8,1178.1" fill="none" stroke="#60a050" stroke-width="0.73" stroke-linejoin="round" stroke-linecap="round"/><path d="M689.6,1178.6 690.1,1178.9 689.1,1176.7 689.9,1174.9 688.1,1174.9 688.2,1177.7" fill="none" stroke="#40904a" stroke-width="0.85" stroke-linejoin="round" stroke-linecap="round"/><path d="M688.6,1182.1 689.8,1180.3 687.3,1182.5 685.0,1185.2 686.6,1187.3 689.4,1187.9" fill="none" stroke="#40904a" stroke-width="0.59" stroke-linejoin="round" stroke-linecap="round"/><path d="M692.1,1182.5 690.9,1181.2 690.3,1178.7 693.2,1181.5 695.3,1184.3 693.9,1185.9" fill="none" stroke="#40904a" stroke-width="0.78" stroke-linejoin="round" stroke-linecap="round"/></g>
<circle cx="401.9" cy="1192.6" r="39.6" fill="#f4d5c4" stroke="#bb9681" stroke-width="6.2"/>
<g><path d="M404.6,1199.4 401.6,1195.2 403.2,1193.4 402.3,1196.9 406.1,1193.4 409.6,1195.8" fill="none" stroke="#a05030" stroke-width="1.24" stroke-linejoin="round" stroke-linecap="round"/><path d="M396.9,1175.2 393.2,1172.3 389.5,1171.5 392.2,1174.7 394.9,1177.3 395.8,1179.3" fill="none" stroke="#c04020" stroke-width="0.70" stroke-linejoin="round" stroke-linecap="round"/><path d="M404.0,1208.6 399.8,1209.0 396.9,1209.7 401.3,1205.3 399.5,1205.7 394.8,1203.3" fill="none" stroke="#c85a3a" stroke-width="1.16" stroke-linejoin="round" stroke-linecap="round"/><path d="M403.3,1214.3 404.9,1217.1 407.4,1218.6 403.8,1218.6 400.1,1218.6 398.9,1218.6" fill="none" stroke="#d06040" stroke-width="1.02" stroke-linejoin="round" stroke-linecap="round"/><path d="M400.6,1189.6 403.3,1190.5 399.7,1192.4 401.4,1192.3 397.1,1193.5 400.8,1191.2" fill="none" stroke="#b03818" stroke-width="1.01" stroke-linejoin="round" stroke-linecap="round"/><path d="M402.2,1174.4 399.3,1170.9 396.4,1166.8 391.5,1166.6 394.9,1166.6 398.0,1166.6" fill="none" stroke="#b03818" stroke-width="1.14" stroke-linejoin="round" stroke-linecap="round"/><path d="M407.6,1194.9 404.0,1195.7 402.6,1194.5 405.4,1197.2 404.0,1197.5 399.4,1193.8" fill="none" stroke="#c85a3a" stroke-width="0.77" stroke-linejoin="round" stroke-linecap="round"/><path d="M401.4,1174.0 397.1,1176.7 394.9,1176.7 396.3,1178.7 394.0,1181.9 392.3,1185.7" fill="none" stroke="#c85a3a" stroke-width="1.08" stroke-linejoin="round" stroke-linecap="round"/><path d="M403.8,1171.4 404.8,1169.2 402.0,1171.5 407.0,1167.0 407.8,1166.6 406.2,1166.6" fill="none" stroke="#a05030" stroke-width="1.14" stroke-linejoin="round" stroke-linecap="round"/><path d="M407.5,1183.8 404.5,1185.0 400.0,1189.3 398.9,1194.0 394.0,1189.0 396.4,1193.6" fill="none" stroke="#b03818" stroke-width="0.94" stroke-linejoin="round" stroke-linecap="round"/><path d="M393.7,1198.4 397.3,1195.7 394.5,1196.5 393.0,1197.8 394.9,1198.5 394.8,1196.3" fill="none" stroke="#d06040" stroke-width="1.11" stroke-linejoin="round" stroke-linecap="round"/><path d="M391.7,1178.2 394.2,1178.0 397.8,1181.2 395.2,1178.2 396.7,1180.1 397.1,1176.3" fill="none" stroke="#a05030" stroke-width="1.02" stroke-linejoin="round" stroke-linecap="round"/><path d="M409.7,1178.5 414.0,1181.1 417.3,1177.8 412.5,1178.2 411.3,1182.2 415.6,1181.2" fill="none" stroke="#c85a3a" stroke-width="0.71" stroke-linejoin="round" stroke-linecap="round"/><path d="M409.1,1179.1 410.2,1181.9 412.3,1181.3 410.6,1184.2 411.6,1185.3 409.8,1186.0" fill="none" stroke="#a05030" stroke-width="0.71" stroke-linejoin="round" stroke-linecap="round"/><path d="M406.9,1172.6 411.1,1172.3 408.0,1171.7 406.7,1167.5 405.9,1168.0 403.4,1169.4" fill="none" stroke="#c85a3a" stroke-width="0.80" stroke-linejoin="round" stroke-linecap="round"/><path d="M407.8,1201.6 402.9,1198.5 399.3,1193.6 400.5,1194.1 399.5,1198.3 396.6,1198.5" fill="none" stroke="#d06040" stroke-width="0.85" stroke-linejoin="round" stroke-linecap="round"/><path d="M406.0,1209.1 402.6,1206.6 398.3,1207.5 403.2,1206.0 402.7,1207.2 398.8,1206.6" fill="none" stroke="#d06040" stroke-width="1.25" stroke-linejoin="round" stroke-linecap="round"/><path d="M396.8,1197.7 393.6,1201.1 392.8,1196.9 390.0,1195.3 387.7,1192.7 386.5,1187.8" fill="none" stroke="#a05030" stroke-width="0.68" stroke-linejoin="round" stroke-linecap="round"/><path d="M412.9,1179.8 409.5,1176.6 405.7,1181.5 407.8,1180.9 404.5,1176.9 406.2,1180.7" fill="none" stroke="#c85a3a" stroke-width="0.68" stroke-linejoin="round" stroke-linecap="round"/><path d="M409.3,1206.6 406.7,1201.8 407.2,1199.1 403.8,1203.5 404.7,1201.2 402.3,1198.5" fill="none" stroke="#b03818" stroke-width="0.85" stroke-linejoin="round" stroke-linecap="round"/><path d="M410.8,1186.3 413.9,1181.4 416.3,1180.2 413.5,1179.5 412.3,1178.6 414.2,1174.5" fill="none" stroke="#c85a3a" stroke-width="1.07" stroke-linejoin="round" stroke-linecap="round"/><path d="M403.4,1169.3 407.4,1171.4 405.6,1172.0 407.7,1171.0 406.5,1166.6 405.6,1166.6" fill="none" stroke="#c85a3a" stroke-width="0.66" stroke-linejoin="round" stroke-linecap="round"/><path d="M398.6,1190.0 398.8,1194.1 399.1,1195.4 399.5,1195.3 397.3,1196.0 395.3,1197.7" fill="none" stroke="#c04020" stroke-width="1.06" stroke-linejoin="round" stroke-linecap="round"/><path d="M412.5,1197.9 408.5,1194.1 406.2,1196.9 408.9,1194.3 406.3,1196.0 410.3,1194.2" fill="none" stroke="#c85a3a" stroke-width="0.73" stroke-linejoin="round" stroke-linecap="round"/><path d="M407.3,1212.0 402.4,1213.6 399.2,1212.8 394.8,1210.6 398.0,1208.6 397.8,1210.2" fill="none" stroke="#c85a3a" stroke-width="1.13" stroke-linejoin="round" stroke-linecap="round"/><path d="M397.1,1191.6 395.9,1192.4 393.3,1195.0 393.2,1199.5 389.8,1194.9 389.1,1194.2" fill="none" stroke="#c85a3a" stroke-width="0.75" stroke-linejoin="round" stroke-linecap="round"/><path d="M396.7,1212.2 396.4,1213.0 392.7,1208.1 392.5,1203.8 391.6,1199.5 396.0,1200.4" fill="none" stroke="#c04020" stroke-width="1.23" stroke-linejoin="round" stroke-linecap="round"/><path d="M411.1,1189.2 413.5,1187.2 413.7,1191.4 409.1,1190.7 411.4,1187.7 413.1,1186.9" fill="none" stroke="#c85a3a" stroke-width="1.15" stroke-linejoin="round" stroke-linecap="round"/><path d="M392.7,1205.0 395.0,1204.5 399.8,1204.4 395.0,1202.0 399.8,1205.4 401.4,1203.8" fill="none" stroke="#a05030" stroke-width="0.90" stroke-linejoin="round" stroke-linecap="round"/><path d="M413.9,1196.8 414.5,1192.6 412.5,1190.6 409.4,1195.1 412.5,1197.9 410.8,1197.9" fill="none" stroke="#c04020" stroke-width="1.08" stroke-linejoin="round" stroke-linecap="round"/><path d="M401.2,1205.9 405.4,1207.9 403.5,1210.5 400.4,1212.9 400.5,1211.1 397.0,1208.4" fill="none" stroke="#d06040" stroke-width="1.23" stroke-linejoin="round" stroke-linecap="round"/><path d="M400.4,1194.4 398.9,1198.3 396.3,1195.4 398.7,1199.9 400.4,1200.6 396.7,1196.2" fill="none" stroke="#d06040" stroke-width="1.17" stroke-linejoin="round" stroke-linecap="round"/><path d="M409.2,1188.1 408.8,1193.1 408.9,1189.3 412.9,1185.2 410.4,1181.5 414.4,1177.5" fill="none" stroke="#c04020" stroke-width="1.04" stroke-linejoin="round" stroke-linecap="round"/><path d="M400.5,1182.3 399.9,1178.7 396.9,1178.8 400.8,1182.9 396.9,1178.1 400.9,1175.2" fill="none" stroke="#c04020" stroke-width="0.64" stroke-linejoin="round" stroke-linecap="round"/><path d="M394.0,1202.9 393.3,1204.4 388.4,1201.9 387.9,1197.4 388.3,1202.2 387.1,1203.4" fill="none" stroke="#b03818" stroke-width="0.92" stroke-linejoin="round" stroke-linecap="round"/><path d="M393.9,1185.5 397.8,1188.0 395.0,1189.2 397.6,1192.8 395.5,1195.5 394.1,1198.8" fill="none" stroke="#d06040" stroke-width="1.20" stroke-linejoin="round" stroke-linecap="round"/><path d="M397.3,1176.8 401.1,1178.1 405.8,1176.8 406.1,1177.7 404.8,1181.0 406.1,1179.1" fill="none" stroke="#c85a3a" stroke-width="0.81" stroke-linejoin="round" stroke-linecap="round"/><path d="M401.8,1171.5 405.5,1168.4 408.5,1168.9 412.4,1166.6 416.7,1166.6 417.5,1166.6" fill="none" stroke="#d06040" stroke-width="0.99" stroke-linejoin="round" stroke-linecap="round"/><path d="M407.2,1197.3 411.2,1199.6 409.9,1203.4 410.2,1202.4 413.8,1206.9 418.6,1209.1" fill="none" stroke="#c04020" stroke-width="0.86" stroke-linejoin="round" stroke-linecap="round"/><path d="M392.9,1175.1 393.0,1173.2 395.3,1170.1 395.8,1166.7 399.9,1167.0 396.1,1168.3" fill="none" stroke="#b03818" stroke-width="1.04" stroke-linejoin="round" stroke-linecap="round"/><path d="M396.5,1170.5 400.1,1175.1 397.6,1174.6 394.7,1170.0 396.2,1168.2 393.1,1170.8" fill="none" stroke="#c85a3a" stroke-width="1.09" stroke-linejoin="round" stroke-linecap="round"/><path d="M407.3,1180.2 406.4,1182.2 407.3,1178.0 406.8,1173.5 409.9,1175.8 411.3,1176.5" fill="none" stroke="#c04020" stroke-width="0.90" stroke-linejoin="round" stroke-linecap="round"/><path d="M401.3,1214.3 404.4,1216.3 401.6,1215.9 397.0,1218.6 394.7,1214.5 397.9,1213.2" fill="none" stroke="#a05030" stroke-width="0.72" stroke-linejoin="round" stroke-linecap="round"/><path d="M398.8,1194.8 396.8,1199.4 401.8,1196.4 406.2,1200.4 410.1,1205.2 413.0,1208.0" fill="none" stroke="#b03818" stroke-width="1.21" stroke-linejoin="round" stroke-linecap="round"/><path d="M390.6,1201.7 395.5,1202.7 391.5,1198.0 390.2,1201.9 387.9,1206.3 387.6,1210.2" fill="none" stroke="#c04020" stroke-width="0.74" stroke-linejoin="round" stroke-linecap="round"/><path d="M416.2,1198.4 418.2,1196.8 418.9,1195.9 418.2,1192.5 418.9,1188.9 415.3,1184.3" fill="none" stroke="#b03818" stroke-width="0.77" stroke-linejoin="round" stroke-linecap="round"/><path d="M394.8,1190.6 391.8,1190.1 386.9,1193.0 390.6,1197.7 394.9,1198.1 391.7,1196.6" fill="none" stroke="#c04020" stroke-width="1.17" stroke-linejoin="round" stroke-linecap="round"/><path d="M397.4,1182.3 394.6,1179.5 399.4,1180.8 394.4,1176.3 392.9,1179.5 390.1,1177.1" fill="none" stroke="#a05030" stroke-width="0.95" stroke-linejoin="round" stroke-linecap="round"/><path d="M403.9,1197.0 401.4,1197.4 398.3,1192.9 401.7,1189.2 399.7,1185.7 402.2,1189.8" fill="none" stroke="#c85a3a" stroke-width="0.95" stroke-linejoin="round" stroke-linecap="round"/><path d="M402.0,1214.3 404.6,1213.9 403.7,1218.3 405.3,1214.7 409.2,1218.6 404.5,1216.6" fill="none" stroke="#c04020" stroke-width="0.66" stroke-linejoin="round" stroke-linecap="round"/><path d="M393.3,1178.1 389.3,1176.3 386.0,1179.3 384.9,1183.9 384.9,1185.7 384.9,1190.2" fill="none" stroke="#a05030" stroke-width="0.67" stroke-linejoin="round" stroke-linecap="round"/><path d="M404.6,1173.2 403.2,1175.3 399.5,1178.2 403.5,1180.9 403.6,1181.2 400.6,1186.1" fill="none" stroke="#c04020" stroke-width="0.87" stroke-linejoin="round" stroke-linecap="round"/><path d="M400.2,1172.8 401.5,1170.3 401.4,1174.1 403.4,1170.2 404.1,1166.6 404.3,1170.4" fill="none" stroke="#a05030" stroke-width="0.99" stroke-linejoin="round" stroke-linecap="round"/><path d="M398.0,1214.5 398.1,1216.5 400.8,1211.8 402.6,1212.9 398.2,1213.0 396.7,1211.1" fill="none" stroke="#b03818" stroke-width="0.85" stroke-linejoin="round" stroke-linecap="round"/><path d="M401.3,1169.3 398.1,1170.8 399.9,1169.3 399.8,1172.2 397.3,1176.2 398.1,1173.2" fill="none" stroke="#c85a3a" stroke-width="0.67" stroke-linejoin="round" stroke-linecap="round"/><path d="M412.4,1198.0 413.3,1199.2 411.1,1203.4 415.6,1205.3 412.1,1205.9 416.1,1201.2" fill="none" stroke="#c85a3a" stroke-width="0.72" stroke-linejoin="round" stroke-linecap="round"/><path d="M397.8,1202.2 400.8,1197.9 400.6,1199.9 401.2,1195.1 405.0,1196.1 400.3,1196.9" fill="none" stroke="#b03818" stroke-width="1.10" stroke-linejoin="round" stroke-linecap="round"/><path d="M407.0,1175.0 409.4,1170.1 413.4,1168.8 408.7,1172.1 406.5,1173.4 406.3,1171.5" fill="none" stroke="#a05030" stroke-width="0.73" stroke-linejoin="round" stroke-linecap="round"/><path d="M389.2,1193.6 393.9,1190.8 393.9,1195.8 389.2,1191.4 393.2,1194.8 397.6,1199.5" fill="none" stroke="#a05030" stroke-width="0.69" stroke-linejoin="round" stroke-linecap="round"/><path d="M394.3,1188.0 392.4,1184.4 387.8,1185.2 389.8,1182.0 386.0,1177.6 384.9,1173.4" fill="none" stroke="#d06040" stroke-width="1.10" stroke-linejoin="round" stroke-linecap="round"/><path d="M396.7,1198.1 398.2,1197.1 397.1,1201.0 392.2,1198.0 394.1,1199.7 396.4,1204.0" fill="none" stroke="#c04020" stroke-width="0.96" stroke-linejoin="round" stroke-linecap="round"/><path d="M400.1,1177.6 401.4,1179.2 397.5,1179.3 400.5,1181.2 404.4,1185.4 408.4,1180.5" fill="none" stroke="#c04020" stroke-width="0.95" stroke-linejoin="round" stroke-linecap="round"/><path d="M394.1,1173.9 390.2,1170.5 389.0,1174.7 392.5,1177.1 388.5,1173.8 386.5,1175.1" fill="none" stroke="#b03818" stroke-width="1.18" stroke-linejoin="round" stroke-linecap="round"/><path d="M391.9,1184.8 396.2,1186.7 398.6,1184.8 402.0,1184.4 399.6,1186.4 395.0,1190.6" fill="none" stroke="#d06040" stroke-width="0.94" stroke-linejoin="round" stroke-linecap="round"/><path d="M395.4,1172.9 397.7,1175.1 397.1,1175.7 400.8,1171.7 398.0,1176.7 402.8,1180.5" fill="none" stroke="#c04020" stroke-width="1.02" stroke-linejoin="round" stroke-linecap="round"/><path d="M407.8,1185.3 405.6,1181.7 405.0,1180.6 404.5,1177.3 407.8,1175.1 404.6,1179.1" fill="none" stroke="#a05030" stroke-width="0.92" stroke-linejoin="round" stroke-linecap="round"/><path d="M399.9,1207.4 404.7,1206.0 400.4,1208.4 404.7,1203.8 406.5,1200.0 409.7,1195.7" fill="none" stroke="#a05030" stroke-width="0.72" stroke-linejoin="round" stroke-linecap="round"/><path d="M405.1,1212.9 406.1,1210.1 407.2,1211.3 407.8,1212.9 404.0,1214.4 405.9,1210.2" fill="none" stroke="#a05030" stroke-width="0.64" stroke-linejoin="round" stroke-linecap="round"/><path d="M391.4,1203.0 392.8,1204.7 389.3,1206.3 385.8,1209.4 384.9,1209.4 384.9,1209.6" fill="none" stroke="#b03818" stroke-width="0.92" stroke-linejoin="round" stroke-linecap="round"/><path d="M414.3,1180.0 409.5,1182.9 409.3,1185.1 409.3,1183.2 413.7,1187.6 415.9,1183.6" fill="none" stroke="#a05030" stroke-width="0.88" stroke-linejoin="round" stroke-linecap="round"/></g>
<circle cx="167.8" cy="1209.0" r="39.6" fill="#f09191" stroke="#bd5253" stroke-width="6.2"/>
<g><path d="M166.4,1212.5 166.2,1213.6 169.8,1213.0 165.6,1213.6 161.8,1213.7 158.7,1210.2" fill="none" stroke="#7a3a9a" stroke-width="1.66" stroke-linejoin="round" stroke-linecap="round"/><path d="M160.1,1208.8 159.4,1209.2 162.8,1207.0 166.7,1206.4 168.8,1202.0 164.1,1204.7" fill="none" stroke="#602080" stroke-width="1.21" stroke-linejoin="round" stroke-linecap="round"/><path d="M153.9,1228.6 152.3,1230.1 148.7,1227.7 148.1,1226.4 150.0,1230.2 145.8,1226.4" fill="none" stroke="#602080" stroke-width="1.24" stroke-linejoin="round" stroke-linecap="round"/><path d="M162.0,1212.2 164.2,1213.5 165.6,1213.8 167.5,1218.0 165.3,1215.4 162.9,1211.5" fill="none" stroke="#502070" stroke-width="1.03" stroke-linejoin="round" stroke-linecap="round"/><path d="M163.7,1216.9 162.3,1221.9 160.5,1217.7 156.5,1220.9 161.4,1215.9 164.2,1214.0" fill="none" stroke="#502070" stroke-width="1.03" stroke-linejoin="round" stroke-linecap="round"/><path d="M156.7,1204.1 155.3,1202.0 154.6,1202.0 159.2,1202.0 161.1,1202.1 156.4,1202.0" fill="none" stroke="#502070" stroke-width="0.92" stroke-linejoin="round" stroke-linecap="round"/><path d="M161.1,1210.4 159.1,1214.6 159.7,1213.2 155.0,1214.1 152.9,1218.0 153.4,1219.8" fill="none" stroke="#502070" stroke-width="1.54" stroke-linejoin="round" stroke-linecap="round"/><path d="M160.1,1223.5 161.1,1226.5 159.4,1225.7 158.7,1230.7 160.7,1230.3 159.3,1227.1" fill="none" stroke="#502070" stroke-width="1.67" stroke-linejoin="round" stroke-linecap="round"/><path d="M158.3,1207.7 153.9,1210.5 149.5,1212.3 153.1,1210.6 148.8,1213.1 151.4,1209.7" fill="none" stroke="#602080" stroke-width="1.50" stroke-linejoin="round" stroke-linecap="round"/><path d="M161.1,1206.9 163.7,1208.9 161.8,1211.8 160.5,1210.7 156.2,1214.0 160.3,1210.3" fill="none" stroke="#7a3a9a" stroke-width="1.11" stroke-linejoin="round" stroke-linecap="round"/><path d="M156.9,1216.8 152.8,1218.3 148.5,1215.7 148.2,1211.8 150.5,1210.0 153.6,1208.2" fill="none" stroke="#602080" stroke-width="1.44" stroke-linejoin="round" stroke-linecap="round"/><path d="M161.0,1219.5 160.5,1224.0 159.3,1222.4 162.8,1225.7 163.3,1223.9 163.0,1219.2" fill="none" stroke="#602080" stroke-width="1.75" stroke-linejoin="round" stroke-linecap="round"/><path d="M160.5,1226.0 161.0,1224.7 157.4,1225.0 153.1,1220.2 153.4,1215.5 157.7,1215.7" fill="none" stroke="#7a3a9a" stroke-width="1.41" stroke-linejoin="round" stroke-linecap="round"/><path d="M160.9,1225.5 160.4,1223.6 162.9,1221.1 167.2,1225.4 169.8,1226.1 169.8,1229.6" fill="none" stroke="#502070" stroke-width="1.25" stroke-linejoin="round" stroke-linecap="round"/><path d="M149.3,1217.8 152.4,1216.5 156.9,1215.3 157.6,1211.6 153.5,1215.6 150.4,1217.5" fill="none" stroke="#7a3a9a" stroke-width="1.14" stroke-linejoin="round" stroke-linecap="round"/><path d="M158.0,1214.6 162.9,1211.1 163.9,1210.5 168.9,1213.0 168.8,1217.8 167.8,1219.1" fill="none" stroke="#502070" stroke-width="1.71" stroke-linejoin="round" stroke-linecap="round"/><path d="M159.5,1214.5 157.4,1214.3 154.7,1210.3 151.8,1209.7 150.1,1213.6 152.7,1213.4" fill="none" stroke="#502070" stroke-width="1.15" stroke-linejoin="round" stroke-linecap="round"/><path d="M163.9,1218.8 167.6,1221.5 169.8,1223.0 169.8,1218.3 169.8,1223.3 166.2,1223.5" fill="none" stroke="#502070" stroke-width="1.10" stroke-linejoin="round" stroke-linecap="round"/><path d="M158.7,1207.3 159.9,1207.5 163.6,1205.2 164.2,1208.0 160.5,1208.0 162.1,1205.1" fill="none" stroke="#502070" stroke-width="1.60" stroke-linejoin="round" stroke-linecap="round"/><path d="M149.1,1215.5 153.7,1214.5 157.5,1216.8 158.2,1221.4 162.2,1222.4 157.3,1225.3" fill="none" stroke="#602080" stroke-width="1.79" stroke-linejoin="round" stroke-linecap="round"/><path d="M162.2,1227.3 163.8,1225.4 167.5,1225.2 167.7,1223.3 169.6,1222.5 169.8,1219.2" fill="none" stroke="#7a3a9a" stroke-width="1.69" stroke-linejoin="round" stroke-linecap="round"/><path d="M153.9,1219.0 151.1,1219.5 152.7,1217.0 156.0,1215.0 158.8,1210.3 156.1,1211.3" fill="none" stroke="#602080" stroke-width="1.22" stroke-linejoin="round" stroke-linecap="round"/><path d="M164.0,1215.5 163.0,1217.8 162.7,1217.2 159.6,1221.9 161.2,1222.9 165.5,1221.5" fill="none" stroke="#602080" stroke-width="1.59" stroke-linejoin="round" stroke-linecap="round"/><path d="M165.3,1225.1 162.7,1227.0 161.9,1232.0 160.7,1231.7 158.7,1227.6 159.5,1231.4" fill="none" stroke="#502070" stroke-width="1.05" stroke-linejoin="round" stroke-linecap="round"/><path d="M150.2,1214.0 151.7,1215.7 150.2,1217.7 145.8,1212.9 150.5,1214.6 153.3,1212.5" fill="none" stroke="#7a3a9a" stroke-width="1.62" stroke-linejoin="round" stroke-linecap="round"/><path d="M154.3,1213.5 156.4,1211.1 153.2,1211.4 150.4,1207.7 151.5,1211.0 156.2,1211.5" fill="none" stroke="#602080" stroke-width="1.65" stroke-linejoin="round" stroke-linecap="round"/><path d="M163.9,1197.1 161.2,1194.1 160.3,1191.1 160.4,1189.4 162.5,1191.3 163.9,1191.3" fill="none" stroke="#4a8a50" stroke-width="1.44" stroke-linejoin="round" stroke-linecap="round"/><path d="M149.5,1193.2 148.0,1194.5 147.2,1197.3 144.8,1196.4 148.5,1193.9 150.9,1192.3" fill="none" stroke="#6a9a30" stroke-width="0.95" stroke-linejoin="round" stroke-linecap="round"/><path d="M148.5,1193.1 149.2,1196.5 148.5,1192.9 145.8,1193.2 144.8,1193.1 147.7,1192.3" fill="none" stroke="#50a040" stroke-width="1.13" stroke-linejoin="round" stroke-linecap="round"/><path d="M149.5,1194.1 148.6,1193.4 147.5,1193.8 150.9,1193.3 150.1,1195.9 151.4,1198.8" fill="none" stroke="#6a9a30" stroke-width="1.19" stroke-linejoin="round" stroke-linecap="round"/><path d="M158.2,1201.9 159.2,1205.7 160.5,1204.7 159.7,1203.3 158.5,1206.3 162.2,1205.4" fill="none" stroke="#50a040" stroke-width="1.27" stroke-linejoin="round" stroke-linecap="round"/><path d="M152.9,1203.4 155.5,1200.0 152.3,1197.8 155.9,1198.6 155.0,1196.4 157.0,1193.6" fill="none" stroke="#50a040" stroke-width="1.50" stroke-linejoin="round" stroke-linecap="round"/><path d="M156.4,1196.9 156.9,1197.8 158.2,1193.9 161.5,1195.3 160.7,1198.1 161.2,1199.9" fill="none" stroke="#50a040" stroke-width="1.01" stroke-linejoin="round" stroke-linecap="round"/><path d="M163.8,1196.2 163.7,1197.4 164.1,1195.5 164.7,1193.8 166.8,1192.6 163.1,1194.7" fill="none" stroke="#50a040" stroke-width="1.57" stroke-linejoin="round" stroke-linecap="round"/><path d="M164.1,1194.9 164.7,1196.6 163.9,1196.7 160.9,1195.7 162.2,1198.3 160.3,1195.8" fill="none" stroke="#4a8a50" stroke-width="1.31" stroke-linejoin="round" stroke-linecap="round"/><path d="M163.5,1198.7 161.1,1197.9 157.9,1196.2 155.2,1195.7 153.1,1199.3 150.0,1201.1" fill="none" stroke="#6a9a30" stroke-width="0.94" stroke-linejoin="round" stroke-linecap="round"/><path d="M161.6,1194.6 161.0,1193.1 159.0,1193.9 156.8,1193.0 157.7,1192.7 158.8,1195.8" fill="none" stroke="#6a9a30" stroke-width="1.33" stroke-linejoin="round" stroke-linecap="round"/><path d="M160.4,1190.2 156.5,1192.3 154.4,1194.9 151.9,1192.3 150.2,1195.3 149.2,1198.5" fill="none" stroke="#4a8a50" stroke-width="1.41" stroke-linejoin="round" stroke-linecap="round"/><path d="M161.3,1195.5 160.4,1197.6 157.5,1196.7 157.1,1199.4 154.7,1199.8 155.6,1197.7" fill="none" stroke="#50a040" stroke-width="1.01" stroke-linejoin="round" stroke-linecap="round"/><path d="M164.1,1195.1 160.9,1195.8 163.8,1195.0 162.0,1194.7 158.3,1198.1 160.6,1197.0" fill="none" stroke="#4a8a50" stroke-width="1.15" stroke-linejoin="round" stroke-linecap="round"/><path d="M157.0,1191.3 157.1,1193.1 159.8,1194.6 161.1,1195.2 162.1,1193.1 162.6,1193.0" fill="none" stroke="#50a040" stroke-width="1.57" stroke-linejoin="round" stroke-linecap="round"/><path d="M155.5,1197.6 154.5,1195.3 154.9,1197.6 151.3,1198.3 151.3,1199.4 153.0,1202.6" fill="none" stroke="#6a9a30" stroke-width="1.25" stroke-linejoin="round" stroke-linecap="round"/><path d="M152.2,1201.1 153.6,1198.2 149.9,1198.0 149.1,1201.7 153.1,1203.5 149.3,1205.6" fill="none" stroke="#4a8a50" stroke-width="1.36" stroke-linejoin="round" stroke-linecap="round"/><path d="M154.5,1196.7 157.8,1192.9 153.9,1193.4 156.4,1197.1 153.1,1195.0 149.1,1193.8" fill="none" stroke="#6a9a30" stroke-width="1.52" stroke-linejoin="round" stroke-linecap="round"/><path d="M174.3,1201.8 176.7,1200.6 179.8,1198.2 178.5,1200.0 177.7,1196.8 178.8,1196.5" fill="none" stroke="#40a0a0" stroke-width="1.01" stroke-linejoin="round" stroke-linecap="round"/><path d="M167.5,1204.8 169.8,1202.4 171.4,1199.5 173.4,1200.1 170.1,1203.0 169.1,1200.6" fill="none" stroke="#e08020" stroke-width="1.46" stroke-linejoin="round" stroke-linecap="round"/><path d="M170.4,1213.7 169.3,1214.0 167.3,1214.6 169.2,1216.5 171.5,1217.4 174.2,1214.1" fill="none" stroke="#4a6aa0" stroke-width="1.17" stroke-linejoin="round" stroke-linecap="round"/><path d="M169.7,1203.5 166.8,1199.8 169.1,1201.0 169.2,1197.9 169.6,1197.1 171.0,1194.0" fill="none" stroke="#d09030" stroke-width="0.79" stroke-linejoin="round" stroke-linecap="round"/><path d="M179.9,1197.9 182.6,1193.9 182.0,1192.0 182.0,1192.0 184.5,1192.4 181.8,1192.0" fill="none" stroke="#e08020" stroke-width="0.82" stroke-linejoin="round" stroke-linecap="round"/><path d="M169.7,1216.4 169.7,1214.8 166.4,1217.4 168.6,1220.5 167.0,1219.5 165.1,1215.8" fill="none" stroke="#d09030" stroke-width="1.43" stroke-linejoin="round" stroke-linecap="round"/><path d="M169.7,1196.7 171.2,1196.2 172.4,1198.9 175.3,1197.1 176.1,1193.3 173.4,1196.3" fill="none" stroke="#5a7a90" stroke-width="1.08" stroke-linejoin="round" stroke-linecap="round"/><path d="M176.1,1196.0 172.9,1199.0 172.1,1196.0 169.7,1199.1 168.0,1197.8 169.4,1197.7" fill="none" stroke="#d09030" stroke-width="0.95" stroke-linejoin="round" stroke-linecap="round"/><path d="M167.2,1207.1 164.3,1209.8 165.1,1209.6 166.5,1210.8 162.8,1208.2 164.1,1209.8" fill="none" stroke="#4a6aa0" stroke-width="0.92" stroke-linejoin="round" stroke-linecap="round"/><path d="M181.0,1217.0 178.6,1218.2 180.0,1217.6 180.0,1221.3 183.5,1219.2 184.5,1215.3" fill="none" stroke="#4a6aa0" stroke-width="1.40" stroke-linejoin="round" stroke-linecap="round"/><path d="M174.0,1199.0 172.4,1202.0 174.4,1199.2 174.5,1201.6 171.2,1201.5 169.9,1202.8" fill="none" stroke="#d09030" stroke-width="1.41" stroke-linejoin="round" stroke-linecap="round"/><path d="M181.1,1198.3 181.0,1201.2 182.0,1198.6 180.7,1197.3 178.1,1197.3 179.2,1195.2" fill="none" stroke="#d09030" stroke-width="1.31" stroke-linejoin="round" stroke-linecap="round"/><path d="M183.4,1204.9 180.0,1208.3 183.7,1205.4 180.1,1206.0 180.3,1205.5 181.3,1207.9" fill="none" stroke="#40a0a0" stroke-width="1.05" stroke-linejoin="round" stroke-linecap="round"/><path d="M170.1,1214.2 170.4,1212.2 170.9,1215.4 169.3,1219.1 165.4,1216.1 166.7,1213.8" fill="none" stroke="#5a7a90" stroke-width="1.25" stroke-linejoin="round" stroke-linecap="round"/><path d="M184.1,1199.8 182.8,1197.7 185.2,1198.3 183.7,1195.1 186.3,1194.9 185.6,1198.0" fill="none" stroke="#4a6aa0" stroke-width="1.25" stroke-linejoin="round" stroke-linecap="round"/><path d="M179.5,1219.2 178.0,1222.0 175.9,1222.0 172.9,1219.5 174.5,1220.8 176.1,1221.1" fill="none" stroke="#4a6aa0" stroke-width="0.77" stroke-linejoin="round" stroke-linecap="round"/><path d="M183.2,1208.7 183.6,1210.0 185.2,1210.9 185.7,1210.9 183.2,1207.3 186.5,1209.0" fill="none" stroke="#40a0a0" stroke-width="0.96" stroke-linejoin="round" stroke-linecap="round"/><path d="M172.2,1218.4 174.9,1218.2 178.7,1218.6 178.2,1216.3 180.0,1215.3 178.1,1217.8" fill="none" stroke="#5a7a90" stroke-width="0.91" stroke-linejoin="round" stroke-linecap="round"/><path d="M172.6,1214.5 175.3,1217.7 173.1,1214.8 170.6,1217.0 168.6,1217.2 164.6,1218.3" fill="none" stroke="#e08020" stroke-width="1.12" stroke-linejoin="round" stroke-linecap="round"/><path d="M178.0,1214.7 179.1,1218.4 183.1,1220.3 183.7,1218.5 181.7,1220.9 182.7,1218.5" fill="none" stroke="#5a7a90" stroke-width="0.94" stroke-linejoin="round" stroke-linecap="round"/><path d="M173.1,1200.9 172.1,1198.3 171.7,1201.9 170.0,1203.7 169.9,1205.1 166.2,1202.1" fill="none" stroke="#e08020" stroke-width="0.82" stroke-linejoin="round" stroke-linecap="round"/><path d="M175.2,1214.2 177.7,1217.7 173.7,1214.3 176.2,1214.2 179.4,1214.0 178.5,1214.4" fill="none" stroke="#e08020" stroke-width="0.89" stroke-linejoin="round" stroke-linecap="round"/><path d="M178.3,1201.0 178.0,1199.4 178.1,1201.6 180.3,1203.0 182.4,1206.6 185.4,1207.0" fill="none" stroke="#d09030" stroke-width="1.01" stroke-linejoin="round" stroke-linecap="round"/><path d="M170.3,1211.0 168.2,1212.0 165.1,1210.3 165.1,1213.3 169.0,1212.2 166.1,1212.9" fill="none" stroke="#e08020" stroke-width="1.10" stroke-linejoin="round" stroke-linecap="round"/><path d="M178.5,1215.9 180.8,1214.7 178.0,1215.8 180.3,1213.6 182.1,1217.0 182.9,1220.7" fill="none" stroke="#40a0a0" stroke-width="0.90" stroke-linejoin="round" stroke-linecap="round"/><path d="M167.9,1208.1 170.7,1208.7 174.4,1211.6 173.8,1209.5 175.8,1210.3 179.5,1206.8" fill="none" stroke="#d09030" stroke-width="0.97" stroke-linejoin="round" stroke-linecap="round"/><path d="M180.8,1215.4 181.3,1212.7 180.9,1209.7 181.7,1210.3 185.4,1210.5 182.0,1209.6" fill="none" stroke="#d09030" stroke-width="1.18" stroke-linejoin="round" stroke-linecap="round"/><path d="M172.3,1199.9 172.7,1198.2 174.1,1197.5 175.6,1198.2 174.8,1196.3 178.7,1200.2" fill="none" stroke="#4a6aa0" stroke-width="1.09" stroke-linejoin="round" stroke-linecap="round"/><path d="M183.9,1205.5 185.3,1206.9 187.3,1208.4 188.8,1210.3 187.7,1214.0 188.2,1212.1" fill="none" stroke="#5a7a90" stroke-width="1.04" stroke-linejoin="round" stroke-linecap="round"/><path d="M181.2,1196.1 180.8,1198.4 182.0,1196.0 181.8,1197.6 184.2,1196.6 187.8,1196.2" fill="none" stroke="#4a6aa0" stroke-width="1.16" stroke-linejoin="round" stroke-linecap="round"/><path d="M179.5,1218.1 178.1,1219.9 181.8,1219.4 183.4,1222.0 184.1,1222.0 180.6,1219.5" fill="none" stroke="#40a0a0" stroke-width="1.09" stroke-linejoin="round" stroke-linecap="round"/><path d="M182.4,1208.6 181.5,1205.2 180.3,1203.8 178.8,1200.2 180.7,1201.8 180.0,1204.5" fill="none" stroke="#4a6aa0" stroke-width="1.35" stroke-linejoin="round" stroke-linecap="round"/><path d="M174.5,1216.2 172.0,1216.1 169.7,1214.1 173.1,1210.8 173.1,1207.6 174.0,1210.1" fill="none" stroke="#4a6aa0" stroke-width="1.49" stroke-linejoin="round" stroke-linecap="round"/><path d="M178.1,1216.2 177.1,1218.3 176.2,1221.6 174.2,1222.0 170.3,1218.7 173.8,1218.3" fill="none" stroke="#40a0a0" stroke-width="1.36" stroke-linejoin="round" stroke-linecap="round"/><path d="M171.8,1225.0 q8,6 16,-2" fill="none" stroke="#c01818" stroke-width="2.2"/></g>
<circle cx="668.9" cy="1307.4" r="39.6" fill="#f9dcbf" stroke="#b99877" stroke-width="6.2"/>
<g><path d="M670.8,1296.4 668.7,1295.2 664.6,1297.2 665.5,1301.0 666.9,1300.5 662.5,1298.6" fill="none" stroke="#a86aa8" stroke-width="0.70" stroke-linejoin="round" stroke-linecap="round"/><path d="M671.0,1299.3 666.8,1302.3 670.1,1305.2 667.4,1309.2 665.0,1306.6 665.8,1302.2" fill="none" stroke="#9a4090" stroke-width="1.04" stroke-linejoin="round" stroke-linecap="round"/><path d="M669.8,1313.1 669.4,1315.5 673.2,1311.5 674.9,1309.9 676.2,1305.6 678.6,1303.3" fill="none" stroke="#b050a8" stroke-width="1.06" stroke-linejoin="round" stroke-linecap="round"/><path d="M675.3,1294.0 673.2,1289.4 673.0,1288.4 669.8,1288.4 672.9,1288.4 677.8,1288.4" fill="none" stroke="#b050a8" stroke-width="0.67" stroke-linejoin="round" stroke-linecap="round"/><path d="M675.9,1312.9 679.1,1317.6 680.9,1320.5 681.6,1325.2 683.9,1325.8 683.8,1322.2" fill="none" stroke="#c060b0" stroke-width="0.99" stroke-linejoin="round" stroke-linecap="round"/><path d="M674.9,1296.0 671.6,1291.2 669.5,1289.4 666.5,1288.4 668.3,1291.7 672.1,1291.8" fill="none" stroke="#9a4090" stroke-width="0.83" stroke-linejoin="round" stroke-linecap="round"/><path d="M662.4,1305.6 659.0,1309.1 657.2,1306.1 657.7,1308.8 655.9,1306.3 658.6,1308.2" fill="none" stroke="#c060b0" stroke-width="0.88" stroke-linejoin="round" stroke-linecap="round"/><path d="M656.9,1312.6 659.5,1314.7 661.0,1316.9 656.8,1319.5 653.9,1319.2 653.9,1319.1" fill="none" stroke="#9a4090" stroke-width="0.85" stroke-linejoin="round" stroke-linecap="round"/><path d="M664.2,1318.1 664.3,1320.8 666.1,1323.5 664.2,1324.5 667.7,1321.3 665.5,1320.0" fill="none" stroke="#b050a8" stroke-width="0.93" stroke-linejoin="round" stroke-linecap="round"/><path d="M663.3,1298.3 658.6,1302.2 661.6,1303.9 661.6,1306.5 664.1,1304.7 662.3,1309.5" fill="none" stroke="#a86aa8" stroke-width="0.72" stroke-linejoin="round" stroke-linecap="round"/><path d="M664.5,1299.5 667.3,1299.3 666.6,1294.9 664.6,1290.1 664.5,1291.5 660.3,1288.4" fill="none" stroke="#b050a8" stroke-width="0.57" stroke-linejoin="round" stroke-linecap="round"/><path d="M673.7,1310.2 674.0,1306.8 672.6,1308.9 669.0,1306.4 669.0,1306.1 668.6,1307.4" fill="none" stroke="#b050a8" stroke-width="1.05" stroke-linejoin="round" stroke-linecap="round"/><path d="M679.1,1298.0 683.2,1302.9 679.9,1300.5 678.7,1298.6 677.9,1300.9 678.1,1299.6" fill="none" stroke="#9a4090" stroke-width="0.96" stroke-linejoin="round" stroke-linecap="round"/><path d="M676.6,1298.4 679.4,1297.1 681.0,1294.2 682.1,1290.8 682.1,1295.7 681.0,1296.9" fill="none" stroke="#a86aa8" stroke-width="0.57" stroke-linejoin="round" stroke-linecap="round"/><path d="M671.3,1301.7 669.3,1297.9 670.3,1295.4 669.7,1292.7 665.8,1294.0 669.5,1298.5" fill="none" stroke="#c060b0" stroke-width="0.68" stroke-linejoin="round" stroke-linecap="round"/><path d="M665.1,1294.1 660.4,1291.8 657.1,1288.4 653.9,1293.3 653.9,1297.5 658.3,1300.3" fill="none" stroke="#9a4090" stroke-width="0.68" stroke-linejoin="round" stroke-linecap="round"/><path d="M674.3,1314.4 675.4,1318.4 676.4,1318.4 673.4,1320.4 676.4,1318.4 676.6,1319.4" fill="none" stroke="#c060b0" stroke-width="0.98" stroke-linejoin="round" stroke-linecap="round"/><path d="M664.1,1312.1 667.3,1310.0 664.6,1306.7 664.8,1310.2 663.1,1305.2 664.6,1300.5" fill="none" stroke="#a86aa8" stroke-width="0.89" stroke-linejoin="round" stroke-linecap="round"/><path d="M656.9,1313.1 659.6,1312.0 660.9,1310.4 657.9,1309.7 659.9,1312.5 658.6,1308.1" fill="none" stroke="#c060b0" stroke-width="0.58" stroke-linejoin="round" stroke-linecap="round"/><path d="M669.4,1304.7 674.1,1301.7 674.1,1299.7 670.1,1296.5 671.1,1298.5 667.5,1297.8" fill="none" stroke="#a86aa8" stroke-width="0.88" stroke-linejoin="round" stroke-linecap="round"/><path d="M673.5,1302.5 670.2,1302.3 670.8,1302.7 670.6,1303.4 673.5,1302.4 669.3,1307.0" fill="none" stroke="#c060b0" stroke-width="0.85" stroke-linejoin="round" stroke-linecap="round"/><path d="M665.9,1302.5 667.3,1298.9 671.1,1302.6 671.4,1303.9 672.2,1304.9 671.9,1301.7" fill="none" stroke="#b050a8" stroke-width="0.91" stroke-linejoin="round" stroke-linecap="round"/><path d="M662.0,1316.8 659.2,1313.1 659.9,1311.9 657.2,1311.4 661.2,1316.2 664.7,1318.0" fill="none" stroke="#a86aa8" stroke-width="0.60" stroke-linejoin="round" stroke-linecap="round"/><path d="M658.1,1313.3 655.6,1310.9 654.6,1312.9 653.9,1312.4 653.9,1313.2 654.8,1312.1" fill="none" stroke="#a86aa8" stroke-width="1.06" stroke-linejoin="round" stroke-linecap="round"/><path d="M677.9,1295.2 679.4,1294.2 676.9,1289.4 678.1,1291.5 678.1,1296.2 681.2,1291.8" fill="none" stroke="#b050a8" stroke-width="0.80" stroke-linejoin="round" stroke-linecap="round"/><path d="M680.5,1309.8 680.6,1312.3 682.7,1308.3 679.4,1312.6 676.0,1311.9 678.0,1311.1" fill="none" stroke="#a86aa8" stroke-width="1.07" stroke-linejoin="round" stroke-linecap="round"/><path d="M677.4,1313.0 672.9,1308.2 674.4,1309.8 675.5,1308.6 672.7,1304.3 673.1,1304.7" fill="none" stroke="#b050a8" stroke-width="0.59" stroke-linejoin="round" stroke-linecap="round"/><path d="M661.1,1315.7 664.8,1312.1 660.8,1312.4 660.2,1314.4 659.5,1313.4 662.5,1317.1" fill="none" stroke="#9a4090" stroke-width="0.60" stroke-linejoin="round" stroke-linecap="round"/><path d="M665.1,1309.9 665.5,1305.4 661.4,1310.4 662.0,1310.6 660.2,1314.5 655.4,1318.9" fill="none" stroke="#c060b0" stroke-width="1.01" stroke-linejoin="round" stroke-linecap="round"/><path d="M667.6,1316.7 663.2,1318.1 661.4,1315.5 663.2,1313.2 661.4,1318.0 658.8,1322.0" fill="none" stroke="#c060b0" stroke-width="1.11" stroke-linejoin="round" stroke-linecap="round"/><path d="M669.8,1310.9 673.2,1307.3 674.6,1302.8 676.7,1298.1 673.7,1295.6 678.5,1293.1" fill="none" stroke="#c060b0" stroke-width="0.87" stroke-linejoin="round" stroke-linecap="round"/><path d="M662.4,1302.8 664.8,1298.8 664.7,1296.2 659.9,1293.1 663.8,1291.7 666.0,1288.4" fill="none" stroke="#c060b0" stroke-width="0.76" stroke-linejoin="round" stroke-linecap="round"/><path d="M662.8,1305.1 665.6,1302.9 668.1,1299.3 666.0,1300.4 662.4,1298.4 660.4,1300.6" fill="none" stroke="#c060b0" stroke-width="0.97" stroke-linejoin="round" stroke-linecap="round"/><path d="M665.0,1309.3 663.1,1306.7 662.7,1307.2 664.3,1306.2 660.4,1304.0 659.4,1301.6" fill="none" stroke="#a86aa8" stroke-width="1.01" stroke-linejoin="round" stroke-linecap="round"/><path d="M667.7,1324.1 666.9,1324.4 671.3,1323.6 671.1,1324.3 668.0,1320.4 672.7,1321.5" fill="none" stroke="#c060b0" stroke-width="0.60" stroke-linejoin="round" stroke-linecap="round"/><path d="M668.0,1323.6 669.1,1321.1 668.5,1317.6 668.9,1315.5 668.1,1320.3 665.4,1320.3" fill="none" stroke="#a86aa8" stroke-width="0.71" stroke-linejoin="round" stroke-linecap="round"/><path d="M677.5,1295.4 681.4,1291.3 683.9,1293.7 682.8,1293.9 681.1,1298.7 677.3,1297.5" fill="none" stroke="#a86aa8" stroke-width="0.70" stroke-linejoin="round" stroke-linecap="round"/><path d="M675.2,1299.3 675.3,1301.0 679.2,1303.3 676.2,1303.9 675.2,1307.7 677.8,1308.9" fill="none" stroke="#c060b0" stroke-width="1.10" stroke-linejoin="round" stroke-linecap="round"/><path d="M680.5,1313.0 679.9,1317.9 679.3,1314.7 675.2,1311.4 677.6,1314.2 682.3,1316.8" fill="none" stroke="#b050a8" stroke-width="1.00" stroke-linejoin="round" stroke-linecap="round"/><path d="M666.4,1315.8 665.1,1312.4 666.8,1315.3 662.8,1312.3 660.1,1313.0 657.8,1312.5" fill="none" stroke="#b050a8" stroke-width="0.79" stroke-linejoin="round" stroke-linecap="round"/><path d="M668.3,1323.0 670.7,1326.4 669.7,1326.4 667.3,1326.4 668.2,1321.7 671.7,1317.9" fill="none" stroke="#b050a8" stroke-width="0.96" stroke-linejoin="round" stroke-linecap="round"/><path d="M666.8,1316.3 666.4,1315.1 666.3,1318.0 667.9,1322.7 670.0,1325.8 666.9,1326.4" fill="none" stroke="#9a4090" stroke-width="1.06" stroke-linejoin="round" stroke-linecap="round"/><path d="M662.1,1311.0 666.9,1315.5 664.3,1313.1 663.8,1313.8 661.8,1314.7 666.4,1310.0" fill="none" stroke="#a86aa8" stroke-width="0.99" stroke-linejoin="round" stroke-linecap="round"/><path d="M664.1,1318.2 659.5,1313.3 663.0,1310.4 666.3,1306.5 667.1,1303.1 663.0,1301.7" fill="none" stroke="#c060b0" stroke-width="0.64" stroke-linejoin="round" stroke-linecap="round"/><path d="M666.2,1320.8 667.9,1317.5 666.8,1317.3 666.6,1314.1 670.7,1309.5 666.8,1309.8" fill="none" stroke="#9a4090" stroke-width="1.08" stroke-linejoin="round" stroke-linecap="round"/><path d="M664.3,1306.9 668.7,1309.9 672.2,1306.6 674.5,1304.2 677.7,1304.1 682.4,1301.1" fill="none" stroke="#a86aa8" stroke-width="1.02" stroke-linejoin="round" stroke-linecap="round"/><path d="M659.1,1318.6 660.5,1320.0 659.4,1323.4 663.0,1321.6 667.3,1321.4 670.9,1320.9" fill="none" stroke="#c060b0" stroke-width="0.57" stroke-linejoin="round" stroke-linecap="round"/><path d="M669.1,1313.6 665.5,1314.9 668.2,1316.2 671.9,1320.8 670.0,1324.4 668.1,1323.1" fill="none" stroke="#9a4090" stroke-width="0.68" stroke-linejoin="round" stroke-linecap="round"/><path d="M672.1,1319.7 671.0,1316.1 667.6,1318.0 669.1,1322.5 669.0,1324.0 670.4,1322.0" fill="none" stroke="#a86aa8" stroke-width="0.91" stroke-linejoin="round" stroke-linecap="round"/><path d="M675.3,1297.0 680.0,1299.0 677.5,1294.4 677.2,1299.0 672.3,1297.2 667.9,1296.4" fill="none" stroke="#9a4090" stroke-width="0.90" stroke-linejoin="round" stroke-linecap="round"/><path d="M659.2,1310.7 660.3,1312.0 657.1,1312.8 660.8,1309.2 663.5,1307.5 662.8,1306.9" fill="none" stroke="#b050a8" stroke-width="1.04" stroke-linejoin="round" stroke-linecap="round"/><path d="M674.0,1314.7 673.2,1318.9 670.8,1314.2 670.5,1313.3 675.2,1318.1 670.9,1314.2" fill="none" stroke="#b050a8" stroke-width="0.97" stroke-linejoin="round" stroke-linecap="round"/><path d="M667.2,1313.5 663.3,1312.1 665.9,1308.1 665.5,1308.3 664.5,1310.4 666.2,1307.4" fill="none" stroke="#a86aa8" stroke-width="0.92" stroke-linejoin="round" stroke-linecap="round"/><path d="M669.4,1318.6 666.5,1319.8 663.5,1321.3 660.9,1324.6 662.8,1325.2 663.2,1322.1" fill="none" stroke="#9a4090" stroke-width="0.92" stroke-linejoin="round" stroke-linecap="round"/><path d="M677.3,1302.1 681.0,1300.8 683.0,1304.5 678.9,1307.8 678.5,1305.7 681.6,1309.9" fill="none" stroke="#c060b0" stroke-width="0.61" stroke-linejoin="round" stroke-linecap="round"/></g>
<circle cx="483.5" cy="1348.4" r="39.6" fill="#f3c6cc" stroke="#b07e84" stroke-width="6.2"/>
<g><path d="M478.8,1342.0 474.9,1337.8 479.4,1340.2 478.5,1343.4 478.3,1339.1 482.4,1336.5" fill="none" stroke="#a03890" stroke-width="0.74" stroke-linejoin="round" stroke-linecap="round"/><path d="M478.7,1358.2 483.0,1355.1 479.9,1353.0 483.5,1353.1 478.9,1357.6 482.6,1358.7" fill="none" stroke="#902880" stroke-width="0.75" stroke-linejoin="round" stroke-linecap="round"/><path d="M493.1,1357.3 495.5,1359.5 491.3,1362.5 490.2,1358.3 490.3,1359.4 490.2,1364.3" fill="none" stroke="#c060b0" stroke-width="1.21" stroke-linejoin="round" stroke-linecap="round"/><path d="M482.5,1336.5 483.2,1339.6 486.5,1343.3 485.2,1346.3 485.3,1342.5 481.7,1346.7" fill="none" stroke="#a03890" stroke-width="1.16" stroke-linejoin="round" stroke-linecap="round"/><path d="M468.9,1350.3 469.0,1346.5 471.4,1347.5 469.4,1347.9 473.6,1349.4 475.8,1346.7" fill="none" stroke="#c060b0" stroke-width="0.92" stroke-linejoin="round" stroke-linecap="round"/><path d="M472.1,1342.0 469.0,1337.4 469.1,1336.8 467.6,1333.6 468.8,1333.0 468.6,1334.4" fill="none" stroke="#902880" stroke-width="1.11" stroke-linejoin="round" stroke-linecap="round"/><path d="M479.8,1342.7 475.3,1340.3 473.3,1337.3 475.4,1337.5 472.2,1338.6 470.6,1339.0" fill="none" stroke="#c060b0" stroke-width="0.95" stroke-linejoin="round" stroke-linecap="round"/><path d="M492.3,1360.6 489.5,1362.2 487.6,1359.3 485.3,1358.6 484.4,1356.2 483.2,1352.6" fill="none" stroke="#a03890" stroke-width="1.29" stroke-linejoin="round" stroke-linecap="round"/><path d="M489.2,1337.4 486.5,1341.3 488.0,1340.4 486.6,1341.6 491.5,1337.6 493.5,1338.6" fill="none" stroke="#c060b0" stroke-width="0.92" stroke-linejoin="round" stroke-linecap="round"/><path d="M479.1,1357.4 479.9,1353.5 475.3,1356.6 471.5,1361.1 472.6,1365.0 476.1,1365.4" fill="none" stroke="#a03890" stroke-width="1.26" stroke-linejoin="round" stroke-linecap="round"/><path d="M488.3,1357.3 485.6,1361.8 483.3,1365.4 484.0,1365.4 486.5,1363.8 486.1,1365.4" fill="none" stroke="#902880" stroke-width="0.75" stroke-linejoin="round" stroke-linecap="round"/><path d="M474.3,1351.9 478.1,1350.4 481.1,1350.8 476.8,1346.1 474.2,1343.1 476.1,1339.3" fill="none" stroke="#c060b0" stroke-width="0.96" stroke-linejoin="round" stroke-linecap="round"/><path d="M473.5,1345.5 476.8,1347.7 472.4,1349.4 476.0,1351.5 476.2,1352.5 475.6,1357.2" fill="none" stroke="#902880" stroke-width="1.26" stroke-linejoin="round" stroke-linecap="round"/><path d="M471.6,1349.5 473.0,1347.3 474.9,1348.0 472.6,1350.5 472.8,1351.9 477.7,1355.2" fill="none" stroke="#c060b0" stroke-width="1.00" stroke-linejoin="round" stroke-linecap="round"/><path d="M479.4,1343.7 474.8,1346.5 473.8,1345.3 473.8,1350.3 475.4,1345.5 476.7,1346.6" fill="none" stroke="#b048a0" stroke-width="0.89" stroke-linejoin="round" stroke-linecap="round"/><path d="M481.9,1352.7 477.9,1348.0 473.6,1352.2 474.1,1349.2 476.3,1344.9 473.3,1343.5" fill="none" stroke="#902880" stroke-width="1.24" stroke-linejoin="round" stroke-linecap="round"/><path d="M498.6,1347.1 495.5,1350.8 498.1,1354.2 498.1,1350.5 493.8,1349.7 494.1,1344.9" fill="none" stroke="#a03890" stroke-width="1.23" stroke-linejoin="round" stroke-linecap="round"/><path d="M480.1,1349.8 484.2,1348.0 485.9,1348.9 483.5,1349.3 487.9,1352.2 484.4,1351.6" fill="none" stroke="#902880" stroke-width="1.31" stroke-linejoin="round" stroke-linecap="round"/><path d="M471.7,1355.9 467.7,1352.4 468.9,1353.4 473.9,1350.0 478.1,1346.5 473.4,1342.6" fill="none" stroke="#c060b0" stroke-width="1.08" stroke-linejoin="round" stroke-linecap="round"/><path d="M470.9,1343.5 472.1,1339.1 471.1,1341.6 475.4,1341.9 474.3,1345.3 476.7,1345.6" fill="none" stroke="#902880" stroke-width="0.89" stroke-linejoin="round" stroke-linecap="round"/><path d="M470.4,1342.1 474.0,1346.9 473.2,1349.1 469.7,1348.2 466.9,1346.0 469.7,1350.8" fill="none" stroke="#902880" stroke-width="1.37" stroke-linejoin="round" stroke-linecap="round"/><path d="M475.1,1357.8 472.0,1358.6 470.0,1358.0 473.8,1354.5 475.3,1357.2 471.1,1360.9" fill="none" stroke="#b048a0" stroke-width="0.97" stroke-linejoin="round" stroke-linecap="round"/><path d="M490.5,1342.0 492.6,1342.0 494.9,1341.4 493.1,1338.3 491.9,1340.1 489.3,1337.9" fill="none" stroke="#a03890" stroke-width="0.84" stroke-linejoin="round" stroke-linecap="round"/><path d="M489.9,1362.1 493.5,1361.5 495.4,1363.4 490.6,1365.4 489.1,1365.4 488.2,1365.1" fill="none" stroke="#902880" stroke-width="1.36" stroke-linejoin="round" stroke-linecap="round"/><path d="M467.3,1352.2 468.5,1354.6 464.9,1357.5 466.6,1358.0 464.5,1360.1 469.4,1359.3" fill="none" stroke="#c060b0" stroke-width="0.99" stroke-linejoin="round" stroke-linecap="round"/><path d="M486.2,1339.5 486.5,1336.6 484.7,1340.3 488.9,1335.9 488.1,1334.7 486.6,1338.9" fill="none" stroke="#c060b0" stroke-width="0.90" stroke-linejoin="round" stroke-linecap="round"/><path d="M478.4,1357.4 478.5,1355.0 480.4,1358.7 476.6,1360.4 479.1,1356.4 475.8,1352.7" fill="none" stroke="#a03890" stroke-width="1.12" stroke-linejoin="round" stroke-linecap="round"/><path d="M486.2,1359.3 482.2,1359.9 484.7,1356.2 486.8,1353.5 490.9,1354.1 489.3,1352.7" fill="none" stroke="#a03890" stroke-width="1.24" stroke-linejoin="round" stroke-linecap="round"/><path d="M491.1,1355.3 486.5,1355.8 485.9,1355.1 486.7,1357.4 487.9,1362.0 484.0,1361.4" fill="none" stroke="#a03890" stroke-width="0.96" stroke-linejoin="round" stroke-linecap="round"/><path d="M497.5,1347.1 496.0,1346.9 498.1,1349.2 497.9,1350.2 495.8,1354.2 499.5,1355.0" fill="none" stroke="#c060b0" stroke-width="1.27" stroke-linejoin="round" stroke-linecap="round"/><path d="M492.7,1336.3 493.0,1338.6 497.4,1340.5 493.3,1342.0 491.3,1342.8 487.7,1343.2" fill="none" stroke="#902880" stroke-width="1.26" stroke-linejoin="round" stroke-linecap="round"/><path d="M482.5,1350.2 482.7,1354.1 479.1,1349.9 477.0,1354.9 476.9,1352.0 480.8,1353.6" fill="none" stroke="#902880" stroke-width="1.03" stroke-linejoin="round" stroke-linecap="round"/><path d="M473.7,1355.5 469.4,1351.0 472.9,1347.6 474.8,1343.7 479.4,1339.3 479.7,1337.7" fill="none" stroke="#c060b0" stroke-width="1.40" stroke-linejoin="round" stroke-linecap="round"/><path d="M484.0,1344.1 485.5,1342.7 481.5,1346.3 477.0,1341.9 476.0,1341.2 477.8,1345.5" fill="none" stroke="#a03890" stroke-width="1.01" stroke-linejoin="round" stroke-linecap="round"/><path d="M495.2,1346.1 492.7,1345.0 497.6,1346.1 495.7,1348.0 494.7,1351.2 493.8,1348.8" fill="none" stroke="#902880" stroke-width="1.21" stroke-linejoin="round" stroke-linecap="round"/><path d="M473.4,1359.2 477.5,1357.7 479.6,1358.6 474.7,1359.0 469.7,1355.5 473.2,1356.9" fill="none" stroke="#902880" stroke-width="1.26" stroke-linejoin="round" stroke-linecap="round"/><path d="M482.1,1357.3 482.3,1359.3 477.7,1356.6 476.9,1357.0 472.5,1358.9 474.5,1357.3" fill="none" stroke="#a03890" stroke-width="0.78" stroke-linejoin="round" stroke-linecap="round"/><path d="M494.5,1348.2 490.1,1349.4 488.7,1346.7 486.1,1351.0 486.0,1353.9 481.4,1353.8" fill="none" stroke="#b048a0" stroke-width="0.85" stroke-linejoin="round" stroke-linecap="round"/><path d="M468.2,1350.5 467.7,1346.9 464.5,1351.8 464.5,1352.5 464.5,1353.5 469.2,1353.9" fill="none" stroke="#c060b0" stroke-width="1.08" stroke-linejoin="round" stroke-linecap="round"/><path d="M479.4,1346.5 477.2,1342.5 472.6,1347.4 469.2,1344.9 471.0,1340.4 466.4,1340.4" fill="none" stroke="#a03890" stroke-width="1.39" stroke-linejoin="round" stroke-linecap="round"/><path d="M472.9,1359.5 476.9,1356.3 475.4,1359.2 480.2,1358.5 476.0,1356.3 477.0,1351.4" fill="none" stroke="#b048a0" stroke-width="1.14" stroke-linejoin="round" stroke-linecap="round"/><path d="M487.0,1335.4 483.2,1333.0 478.9,1332.2 478.1,1334.7 473.7,1331.6 474.4,1331.4" fill="none" stroke="#902880" stroke-width="1.18" stroke-linejoin="round" stroke-linecap="round"/><path d="M484.3,1357.4 487.4,1354.8 482.8,1350.7 482.8,1349.8 482.3,1348.6 478.1,1353.0" fill="none" stroke="#c060b0" stroke-width="0.95" stroke-linejoin="round" stroke-linecap="round"/><path d="M488.2,1359.7 488.0,1359.6 485.4,1359.9 480.4,1357.8 481.2,1356.3 476.7,1360.4" fill="none" stroke="#a03890" stroke-width="1.21" stroke-linejoin="round" stroke-linecap="round"/><path d="M479.3,1358.9 480.1,1359.5 478.0,1356.2 478.0,1353.1 479.4,1353.6 478.0,1357.8" fill="none" stroke="#b048a0" stroke-width="1.18" stroke-linejoin="round" stroke-linecap="round"/><path d="M490.6,1359.1 495.2,1357.4 490.6,1353.6 494.9,1358.5 491.4,1362.1 495.2,1362.4" fill="none" stroke="#902880" stroke-width="1.25" stroke-linejoin="round" stroke-linecap="round"/><path d="M480.6,1340.6 483.5,1343.1 479.4,1347.3 475.4,1347.7 472.1,1347.6 469.2,1351.5" fill="none" stroke="#a03890" stroke-width="0.80" stroke-linejoin="round" stroke-linecap="round"/><path d="M490.4,1345.9 489.7,1346.1 492.9,1343.4 490.8,1339.5 488.9,1339.5 490.8,1337.6" fill="none" stroke="#c060b0" stroke-width="1.07" stroke-linejoin="round" stroke-linecap="round"/><path d="M479.2,1351.0 480.3,1348.6 483.5,1343.7 479.2,1344.7 481.6,1344.5 484.3,1341.0" fill="none" stroke="#a03890" stroke-width="1.17" stroke-linejoin="round" stroke-linecap="round"/><path d="M482.8,1362.9 479.0,1362.4 478.9,1362.3 476.0,1361.3 474.5,1364.8 474.9,1365.4" fill="none" stroke="#c060b0" stroke-width="1.18" stroke-linejoin="round" stroke-linecap="round"/><path d="M481.3,1338.9 477.7,1340.6 473.8,1337.6 477.3,1335.9 474.9,1340.8 471.2,1343.7" fill="none" stroke="#c060b0" stroke-width="1.21" stroke-linejoin="round" stroke-linecap="round"/><path d="M470.3,1353.0 469.1,1350.9 467.5,1346.7 467.6,1343.8 469.1,1343.9 471.1,1340.4" fill="none" stroke="#b048a0" stroke-width="0.95" stroke-linejoin="round" stroke-linecap="round"/><path d="M481.4,1351.8 480.9,1355.9 483.7,1360.4 487.6,1360.0 483.6,1356.0 484.9,1359.6" fill="none" stroke="#c060b0" stroke-width="1.22" stroke-linejoin="round" stroke-linecap="round"/><path d="M478.2,1351.6 474.1,1354.2 471.2,1357.0 473.0,1353.6 474.0,1352.4 470.3,1350.3" fill="none" stroke="#902880" stroke-width="1.24" stroke-linejoin="round" stroke-linecap="round"/><path d="M486.7,1336.7 486.1,1335.0 487.6,1334.9 487.2,1339.5 487.9,1342.3 490.0,1339.0" fill="none" stroke="#902880" stroke-width="1.16" stroke-linejoin="round" stroke-linecap="round"/><path d="M475.2,1336.9 475.8,1336.4 473.7,1339.4 476.7,1338.6 479.8,1339.4 478.9,1334.7" fill="none" stroke="#c060b0" stroke-width="1.16" stroke-linejoin="round" stroke-linecap="round"/><path d="M490.8,1345.3 487.2,1348.2 489.5,1344.6 491.3,1342.8 486.3,1339.2 481.4,1339.7" fill="none" stroke="#902880" stroke-width="0.78" stroke-linejoin="round" stroke-linecap="round"/><path d="M473.6,1344.1 468.7,1345.1 464.5,1341.3 464.5,1343.5 465.0,1343.0 464.5,1342.8" fill="none" stroke="#902880" stroke-width="1.01" stroke-linejoin="round" stroke-linecap="round"/><path d="M471.4,1347.6 466.4,1352.6 467.2,1350.6 467.2,1350.7 464.5,1348.2 466.8,1346.7" fill="none" stroke="#b048a0" stroke-width="1.05" stroke-linejoin="round" stroke-linecap="round"/><path d="M481.0,1359.9 485.7,1361.0 481.4,1362.3 481.2,1363.9 485.7,1363.2 486.0,1362.0" fill="none" stroke="#b048a0" stroke-width="1.06" stroke-linejoin="round" stroke-linecap="round"/></g>
<circle cx="804.2" cy="1378.2" r="39.6" fill="#f6e6c6" stroke="#b5a582" stroke-width="6.2"/>
<g><path d="M788.2,1354.2 q2,8 8,10 q6,2 10,6 q4,4 8,6 q4,4 1,10" fill="none" stroke="#a08a70" stroke-width="0.8"/><path d="M784.2,1386.2 q6,-4 10,0 q6,2 12,0" fill="none" stroke="#a08a70" stroke-width="0.8"/><path d="M809.5,1391.2 810.2,1392.8 807.3,1389.9 806.2,1391.6 807.4,1393.5 806.3,1393.8" fill="none" stroke="#9a5aa0" stroke-width="0.57" stroke-linejoin="round" stroke-linecap="round"/><path d="M812.7,1386.6 812.6,1387.9 810.8,1390.1 809.1,1391.9 809.3,1394.5 809.1,1395.5" fill="none" stroke="#b07ab0" stroke-width="0.89" stroke-linejoin="round" stroke-linecap="round"/><path d="M809.5,1383.1 806.7,1381.9 804.9,1382.2 803.2,1384.1 805.0,1386.5 803.2,1385.9" fill="none" stroke="#9a5aa0" stroke-width="0.56" stroke-linejoin="round" stroke-linecap="round"/><path d="M809.7,1390.0 809.6,1387.3 810.1,1386.9 812.3,1387.6 814.2,1386.9 811.8,1384.0" fill="none" stroke="#9a5aa0" stroke-width="0.89" stroke-linejoin="round" stroke-linecap="round"/><path d="M812.8,1385.4 814.1,1382.6 814.6,1380.2 815.1,1380.2 815.1,1382.6 812.4,1380.8" fill="none" stroke="#b07ab0" stroke-width="0.60" stroke-linejoin="round" stroke-linecap="round"/><path d="M812.6,1386.6 810.9,1387.8 812.9,1385.3 814.8,1384.8 812.9,1385.2 813.4,1383.6" fill="none" stroke="#8a4a90" stroke-width="0.75" stroke-linejoin="round" stroke-linecap="round"/><path d="M814.4,1387.3 815.4,1387.8 815.5,1385.9 816.1,1385.9 814.6,1384.9 812.0,1382.8" fill="none" stroke="#8a4a90" stroke-width="0.89" stroke-linejoin="round" stroke-linecap="round"/><path d="M808.0,1386.2 809.1,1385.2 808.8,1383.7 811.4,1385.8 813.0,1386.9 812.9,1387.3" fill="none" stroke="#b07ab0" stroke-width="0.52" stroke-linejoin="round" stroke-linecap="round"/><path d="M808.8,1393.7 807.6,1396.2 806.7,1396.2 803.9,1396.2 803.2,1395.6 806.1,1394.7" fill="none" stroke="#9a5aa0" stroke-width="0.94" stroke-linejoin="round" stroke-linecap="round"/><path d="M810.1,1392.2 810.8,1393.9 807.9,1396.2 809.2,1396.2 812.0,1396.2 815.0,1396.2" fill="none" stroke="#9a5aa0" stroke-width="0.52" stroke-linejoin="round" stroke-linecap="round"/><path d="M810.5,1390.3 810.4,1387.3 810.0,1388.7 809.7,1385.8 812.2,1383.9 810.1,1384.9" fill="none" stroke="#b07ab0" stroke-width="0.77" stroke-linejoin="round" stroke-linecap="round"/><path d="M812.2,1386.0 814.3,1384.1 816.9,1385.5 817.2,1387.6 817.2,1386.3 817.2,1384.5" fill="none" stroke="#9a5aa0" stroke-width="0.92" stroke-linejoin="round" stroke-linecap="round"/></g>
<circle cx="163.7" cy="1372.3" r="39.6" fill="#94ce8c" stroke="#4f9b4c" stroke-width="6.2"/>
<g><path d="M179.1,1377.4 182.6,1381.8 178.7,1378.6 176.8,1379.2 180.6,1376.0 177.1,1376.9" fill="none" stroke="#5a7a70" stroke-width="0.86" stroke-linejoin="round" stroke-linecap="round"/><path d="M169.8,1364.2 168.7,1366.8 170.5,1362.3 174.8,1364.3 178.7,1362.4 178.7,1358.8" fill="none" stroke="#506a60" stroke-width="0.78" stroke-linejoin="round" stroke-linecap="round"/><path d="M166.7,1373.6 164.2,1370.5 168.6,1368.9 164.2,1373.7 165.6,1374.6 163.6,1379.3" fill="none" stroke="#5a7a70" stroke-width="0.78" stroke-linejoin="round" stroke-linecap="round"/><path d="M161.9,1373.2 162.8,1369.7 162.2,1369.7 162.5,1368.6 164.5,1371.2 161.3,1366.5" fill="none" stroke="#405a80" stroke-width="0.82" stroke-linejoin="round" stroke-linecap="round"/><path d="M168.2,1365.5 165.0,1364.4 169.5,1366.9 166.8,1368.1 165.1,1363.9 162.1,1364.7" fill="none" stroke="#3a6a55" stroke-width="0.91" stroke-linejoin="round" stroke-linecap="round"/><path d="M163.5,1368.4 166.9,1371.8 164.1,1373.3 159.7,1370.4 161.3,1374.7 164.3,1377.2" fill="none" stroke="#506a60" stroke-width="0.84" stroke-linejoin="round" stroke-linecap="round"/><path d="M173.1,1365.1 168.8,1365.1 164.4,1360.3 166.3,1356.0 168.6,1357.7 163.6,1355.3" fill="none" stroke="#405a80" stroke-width="0.74" stroke-linejoin="round" stroke-linecap="round"/><path d="M162.0,1366.9 165.2,1368.9 169.9,1365.3 173.1,1367.6 175.5,1366.2 171.1,1363.5" fill="none" stroke="#3a6a55" stroke-width="1.11" stroke-linejoin="round" stroke-linecap="round"/><path d="M167.7,1359.2 172.6,1361.2 169.7,1363.3 169.1,1358.8 168.0,1362.0 168.0,1364.9" fill="none" stroke="#506a60" stroke-width="0.97" stroke-linejoin="round" stroke-linecap="round"/><path d="M154.5,1376.0 158.5,1372.1 162.8,1371.6 161.9,1376.2 166.0,1379.4 169.4,1382.0" fill="none" stroke="#506a60" stroke-width="0.93" stroke-linejoin="round" stroke-linecap="round"/><path d="M169.5,1370.8 168.0,1370.5 165.6,1367.9 161.3,1367.1 157.5,1367.8 153.2,1371.1" fill="none" stroke="#405a80" stroke-width="1.07" stroke-linejoin="round" stroke-linecap="round"/><path d="M172.8,1360.1 168.9,1358.2 164.3,1359.0 159.6,1359.3 158.4,1358.7 156.5,1361.0" fill="none" stroke="#506a60" stroke-width="0.70" stroke-linejoin="round" stroke-linecap="round"/><path d="M172.8,1375.7 177.0,1380.3 176.6,1382.5 176.0,1383.5 179.8,1381.3 178.3,1376.9" fill="none" stroke="#506a60" stroke-width="0.62" stroke-linejoin="round" stroke-linecap="round"/><path d="M153.0,1377.2 155.6,1374.3 155.8,1373.6 152.0,1369.1 148.6,1367.8 144.2,1362.8" fill="none" stroke="#506a60" stroke-width="0.82" stroke-linejoin="round" stroke-linecap="round"/><path d="M158.5,1366.1 159.1,1362.3 161.8,1364.6 166.6,1363.7 166.7,1359.6 163.9,1359.5" fill="none" stroke="#405a80" stroke-width="1.07" stroke-linejoin="round" stroke-linecap="round"/><path d="M168.3,1382.9 164.6,1379.2 160.3,1379.1 156.7,1382.9 156.1,1378.9 151.8,1378.7" fill="none" stroke="#506a60" stroke-width="0.86" stroke-linejoin="round" stroke-linecap="round"/><path d="M154.0,1372.4 156.6,1373.2 160.4,1370.9 157.0,1366.4 156.9,1367.9 161.2,1363.6" fill="none" stroke="#506a60" stroke-width="1.03" stroke-linejoin="round" stroke-linecap="round"/><path d="M175.4,1381.9 178.5,1379.3 176.5,1380.2 172.3,1375.8 169.1,1373.3 167.6,1372.9" fill="none" stroke="#405a80" stroke-width="0.62" stroke-linejoin="round" stroke-linecap="round"/><path d="M162.9,1373.4 159.6,1377.2 163.6,1380.2 166.1,1382.0 163.9,1380.1 167.3,1383.9" fill="none" stroke="#405a80" stroke-width="0.69" stroke-linejoin="round" stroke-linecap="round"/><path d="M176.1,1371.1 176.5,1366.7 175.6,1370.0 172.4,1373.8 171.1,1376.5 173.9,1379.9" fill="none" stroke="#405a80" stroke-width="1.10" stroke-linejoin="round" stroke-linecap="round"/><path d="M149.3,1377.3 146.9,1374.5 151.6,1376.5 152.6,1374.6 155.4,1371.0 155.2,1368.1" fill="none" stroke="#5a7a70" stroke-width="0.99" stroke-linejoin="round" stroke-linecap="round"/><path d="M174.5,1375.4 174.6,1371.5 172.0,1371.1 171.4,1374.3 171.6,1376.1 171.4,1378.5" fill="none" stroke="#405a80" stroke-width="0.63" stroke-linejoin="round" stroke-linecap="round"/><path d="M157.9,1374.6 160.9,1378.2 163.9,1380.3 160.5,1382.2 162.7,1384.7 160.2,1379.9" fill="none" stroke="#3a6a55" stroke-width="0.64" stroke-linejoin="round" stroke-linecap="round"/><path d="M148.3,1371.7 146.0,1371.4 144.7,1370.0 146.0,1373.1 146.2,1368.8 145.3,1370.3" fill="none" stroke="#5a7a70" stroke-width="0.58" stroke-linejoin="round" stroke-linecap="round"/><path d="M155.4,1360.5 156.1,1357.1 157.4,1357.7 154.9,1361.3 153.4,1357.1 148.9,1355.3" fill="none" stroke="#3a6a55" stroke-width="1.09" stroke-linejoin="round" stroke-linecap="round"/><path d="M158.6,1359.8 157.8,1355.6 158.1,1355.3 153.9,1357.6 157.0,1359.8 160.0,1360.4" fill="none" stroke="#3a6a55" stroke-width="0.73" stroke-linejoin="round" stroke-linecap="round"/><path d="M154.0,1375.4 152.2,1379.5 148.9,1377.4 148.4,1375.5 152.9,1378.9 157.6,1378.2" fill="none" stroke="#506a60" stroke-width="0.86" stroke-linejoin="round" stroke-linecap="round"/><path d="M170.2,1359.8 168.5,1363.4 169.3,1360.0 166.7,1362.9 162.9,1358.5 166.9,1361.5" fill="none" stroke="#405a80" stroke-width="0.98" stroke-linejoin="round" stroke-linecap="round"/><path d="M159.4,1361.6 161.8,1363.9 157.6,1365.5 156.1,1364.5 156.9,1365.5 155.4,1364.6" fill="none" stroke="#405a80" stroke-width="0.76" stroke-linejoin="round" stroke-linecap="round"/><path d="M158.3,1380.2 161.5,1375.8 157.9,1371.1 155.0,1374.5 153.8,1373.5 150.4,1378.3" fill="none" stroke="#506a60" stroke-width="0.91" stroke-linejoin="round" stroke-linecap="round"/><path d="M151.5,1375.0 155.4,1379.3 156.7,1380.6 158.5,1380.4 157.4,1385.0 155.9,1383.1" fill="none" stroke="#3a6a55" stroke-width="0.61" stroke-linejoin="round" stroke-linecap="round"/><path d="M180.3,1373.0 183.7,1375.6 183.7,1373.1 181.6,1369.3 178.4,1368.7 176.4,1372.7" fill="none" stroke="#405a80" stroke-width="1.00" stroke-linejoin="round" stroke-linecap="round"/><path d="M157.5,1382.7 162.2,1378.9 158.2,1379.2 162.5,1383.3 166.4,1381.5 170.6,1379.3" fill="none" stroke="#3a6a55" stroke-width="0.86" stroke-linejoin="round" stroke-linecap="round"/><path d="M159.0,1368.3 156.1,1371.9 158.7,1374.7 160.3,1370.4 157.6,1369.1 157.5,1365.7" fill="none" stroke="#506a60" stroke-width="1.07" stroke-linejoin="round" stroke-linecap="round"/><path d="M174.5,1370.4 179.5,1367.1 176.7,1364.9 177.4,1360.1 177.0,1357.1 172.4,1355.3" fill="none" stroke="#506a60" stroke-width="1.07" stroke-linejoin="round" stroke-linecap="round"/><path d="M161.7,1382.6 156.9,1385.7 160.0,1385.6 157.6,1382.6 162.5,1378.4 165.7,1375.3" fill="none" stroke="#405a80" stroke-width="0.77" stroke-linejoin="round" stroke-linecap="round"/><path d="M172.1,1367.6 175.5,1372.3 172.9,1372.6 169.7,1368.5 167.9,1365.2 169.8,1363.9" fill="none" stroke="#5a7a70" stroke-width="0.97" stroke-linejoin="round" stroke-linecap="round"/><path d="M161.3,1357.9 161.1,1360.4 158.5,1358.3 157.5,1356.8 153.0,1358.1 157.7,1357.3" fill="none" stroke="#405a80" stroke-width="0.99" stroke-linejoin="round" stroke-linecap="round"/><path d="M178.3,1367.2 183.1,1369.3 183.7,1366.6 183.7,1369.8 183.7,1367.9 179.7,1369.7" fill="none" stroke="#5a7a70" stroke-width="0.66" stroke-linejoin="round" stroke-linecap="round"/><path d="M178.4,1364.1 182.6,1359.3 181.5,1363.2 177.5,1362.2 176.3,1360.4 176.0,1362.1" fill="none" stroke="#405a80" stroke-width="0.86" stroke-linejoin="round" stroke-linecap="round"/><path d="M157.1,1373.7 154.9,1368.9 151.6,1365.0 149.1,1365.8 148.2,1366.9 147.4,1371.4" fill="none" stroke="#3a6a55" stroke-width="1.05" stroke-linejoin="round" stroke-linecap="round"/><path d="M171.4,1360.0 168.1,1355.3 168.4,1357.8 166.2,1355.3 167.8,1358.4 163.1,1361.5" fill="none" stroke="#3a6a55" stroke-width="1.11" stroke-linejoin="round" stroke-linecap="round"/><path d="M175.2,1379.5 173.3,1381.8 173.3,1379.3 172.3,1384.1 174.7,1387.2 179.0,1389.0" fill="none" stroke="#506a60" stroke-width="0.69" stroke-linejoin="round" stroke-linecap="round"/><path d="M149.4,1379.8 153.6,1375.2 153.4,1377.6 154.0,1376.0 153.7,1371.2 156.3,1372.0" fill="none" stroke="#3a6a55" stroke-width="0.73" stroke-linejoin="round" stroke-linecap="round"/><path d="M151.8,1361.3 147.6,1361.7 152.1,1357.4 152.2,1361.7 154.9,1361.5 159.3,1363.0" fill="none" stroke="#405a80" stroke-width="0.77" stroke-linejoin="round" stroke-linecap="round"/><path d="M151.0,1363.6 146.0,1362.9 148.2,1360.0 146.4,1363.2 146.4,1360.6 148.0,1361.5" fill="none" stroke="#405a80" stroke-width="0.75" stroke-linejoin="round" stroke-linecap="round"/><path d="M155.1,1379.7 156.7,1380.6 154.7,1384.1 156.2,1383.5 158.2,1381.9 159.2,1386.0" fill="none" stroke="#506a60" stroke-width="0.98" stroke-linejoin="round" stroke-linecap="round"/><path d="M174.6,1361.8 169.8,1366.3 170.1,1365.0 174.7,1366.1 174.0,1363.5 174.9,1365.2" fill="none" stroke="#506a60" stroke-width="0.66" stroke-linejoin="round" stroke-linecap="round"/><path d="M181.6,1372.7 179.3,1374.5 180.3,1377.0 180.3,1379.8 175.3,1383.4 175.5,1384.5" fill="none" stroke="#506a60" stroke-width="0.60" stroke-linejoin="round" stroke-linecap="round"/><path d="M167.0,1361.5 164.1,1357.1 168.2,1359.5 171.2,1363.4 173.8,1363.0 177.5,1367.3" fill="none" stroke="#5a7a70" stroke-width="0.65" stroke-linejoin="round" stroke-linecap="round"/><path d="M173.0,1383.6 172.1,1383.2 171.1,1386.3 166.5,1388.3 168.6,1388.0 170.8,1389.3" fill="none" stroke="#3a6a55" stroke-width="0.79" stroke-linejoin="round" stroke-linecap="round"/><path d="M151.5,1365.8 154.8,1369.8 151.7,1367.3 154.9,1363.9 152.4,1361.0 151.1,1357.8" fill="none" stroke="#3a6a55" stroke-width="0.57" stroke-linejoin="round" stroke-linecap="round"/><path d="M165.2,1370.3 168.6,1372.5 173.0,1368.5 174.0,1372.6 176.3,1377.3 173.9,1379.2" fill="none" stroke="#405a80" stroke-width="1.00" stroke-linejoin="round" stroke-linecap="round"/><path d="M168.6,1359.9 164.3,1363.4 165.6,1361.2 170.3,1361.7 166.5,1362.5 171.0,1360.9" fill="none" stroke="#5a7a70" stroke-width="0.80" stroke-linejoin="round" stroke-linecap="round"/><path d="M168.1,1378.0 163.3,1373.7 166.1,1372.6 161.4,1371.4 159.6,1368.0 159.9,1372.7" fill="none" stroke="#5a7a70" stroke-width="0.92" stroke-linejoin="round" stroke-linecap="round"/><path d="M155.1,1372.5 156.9,1377.2 153.1,1377.8 150.4,1378.3 154.3,1376.8 151.6,1375.9" fill="none" stroke="#3a6a55" stroke-width="0.62" stroke-linejoin="round" stroke-linecap="round"/><path d="M165.0,1366.6 168.3,1367.1 163.9,1367.6 168.5,1369.8 171.1,1371.4 168.5,1371.2" fill="none" stroke="#3a6a55" stroke-width="1.01" stroke-linejoin="round" stroke-linecap="round"/><path d="M160.7,1370.6 162.1,1365.6 159.3,1368.7 163.3,1366.0 162.8,1368.3 160.8,1372.9" fill="none" stroke="#405a80" stroke-width="0.88" stroke-linejoin="round" stroke-linecap="round"/><path d="M154.5,1382.5 156.7,1386.2 153.6,1389.0 149.8,1385.2 147.0,1384.7 146.0,1382.1" fill="none" stroke="#5a7a70" stroke-width="0.62" stroke-linejoin="round" stroke-linecap="round"/><path d="M149.8,1367.8 146.7,1365.8 150.6,1365.2 146.4,1364.3 150.0,1359.7 148.0,1358.4" fill="none" stroke="#3a6a55" stroke-width="1.06" stroke-linejoin="round" stroke-linecap="round"/></g>
<circle cx="327.1" cy="1436.1" r="39.6" fill="#d9d78c" stroke="#9b9752" stroke-width="6.2"/>
<g><path d="M317.3,1432.1 317.5,1431.1 319.7,1427.7 319.0,1424.0 320.1,1425.9 316.6,1422.5" fill="none" stroke="#203a80" stroke-width="1.11" stroke-linejoin="round" stroke-linecap="round"/><path d="M317.1,1429.0 313.7,1430.6 315.8,1433.2 313.6,1431.3 314.4,1434.4 311.1,1435.0" fill="none" stroke="#2a4a90" stroke-width="0.96" stroke-linejoin="round" stroke-linecap="round"/><path d="M307.4,1422.2 309.7,1422.4 312.9,1419.5 315.3,1419.9 312.6,1421.4 312.5,1422.9" fill="none" stroke="#2a4a90" stroke-width="1.15" stroke-linejoin="round" stroke-linecap="round"/><path d="M314.0,1428.9 311.6,1430.3 308.0,1430.9 307.5,1428.6 307.0,1431.7 307.3,1431.1" fill="none" stroke="#3a5aa0" stroke-width="0.97" stroke-linejoin="round" stroke-linecap="round"/><path d="M304.8,1430.3 306.6,1432.0 306.7,1435.6 306.7,1433.9 304.0,1429.9 305.6,1429.9" fill="none" stroke="#2a4a90" stroke-width="1.30" stroke-linejoin="round" stroke-linecap="round"/><path d="M312.6,1420.7 311.1,1422.1 310.1,1424.5 311.1,1423.4 310.3,1420.9 308.4,1424.6" fill="none" stroke="#203a80" stroke-width="0.91" stroke-linejoin="round" stroke-linecap="round"/><path d="M311.9,1426.1 311.5,1424.3 314.6,1426.6 318.3,1423.1 321.5,1422.2 319.3,1424.5" fill="none" stroke="#2a4a90" stroke-width="0.88" stroke-linejoin="round" stroke-linecap="round"/><path d="M312.8,1423.4 312.6,1420.8 310.9,1421.7 313.5,1422.6 311.1,1424.1 315.0,1424.2" fill="none" stroke="#203a80" stroke-width="0.75" stroke-linejoin="round" stroke-linecap="round"/><path d="M309.2,1420.3 308.6,1420.3 311.2,1421.0 308.8,1417.9 310.4,1417.1 310.6,1418.5" fill="none" stroke="#2a4a90" stroke-width="0.95" stroke-linejoin="round" stroke-linecap="round"/><path d="M317.8,1426.4 318.1,1428.6 315.0,1430.1 311.1,1433.6 310.2,1430.2 307.2,1431.7" fill="none" stroke="#3a5aa0" stroke-width="1.25" stroke-linejoin="round" stroke-linecap="round"/><path d="M312.5,1427.2 314.3,1429.5 316.2,1426.8 320.2,1426.5 320.7,1426.6 322.1,1425.6" fill="none" stroke="#3a5aa0" stroke-width="0.95" stroke-linejoin="round" stroke-linecap="round"/><path d="M306.7,1435.8 306.2,1434.1 302.7,1433.4 304.4,1437.3 307.3,1437.8 310.0,1439.1" fill="none" stroke="#203a80" stroke-width="1.34" stroke-linejoin="round" stroke-linecap="round"/><path d="M318.1,1425.0 317.6,1427.6 321.2,1428.6 320.1,1431.4 316.9,1434.9 316.4,1431.7" fill="none" stroke="#3a5aa0" stroke-width="0.92" stroke-linejoin="round" stroke-linecap="round"/><path d="M306.1,1422.4 307.6,1426.2 309.1,1427.7 312.1,1424.7 314.4,1423.2 314.2,1420.4" fill="none" stroke="#2a4a90" stroke-width="1.06" stroke-linejoin="round" stroke-linecap="round"/><path d="M304.0,1429.0 302.2,1429.9 301.8,1431.8 301.3,1433.7 302.1,1433.0 302.7,1435.5" fill="none" stroke="#3a5aa0" stroke-width="0.73" stroke-linejoin="round" stroke-linecap="round"/><path d="M309.5,1424.4 310.2,1424.2 309.8,1422.7 309.1,1426.3 312.9,1429.0 315.5,1431.7" fill="none" stroke="#2a4a90" stroke-width="1.40" stroke-linejoin="round" stroke-linecap="round"/><path d="M306.7,1421.7 305.4,1419.6 308.3,1417.1 305.4,1417.1 304.1,1417.1 304.3,1417.1" fill="none" stroke="#3a5aa0" stroke-width="1.38" stroke-linejoin="round" stroke-linecap="round"/><path d="M304.6,1427.1 305.2,1425.4 303.2,1424.9 303.2,1425.6 305.6,1426.3 303.9,1427.1" fill="none" stroke="#3a5aa0" stroke-width="0.73" stroke-linejoin="round" stroke-linecap="round"/><path d="M314.4,1433.9 316.1,1434.3 313.9,1436.1 315.8,1438.9 313.0,1438.2 315.1,1439.1" fill="none" stroke="#3a5aa0" stroke-width="0.71" stroke-linejoin="round" stroke-linecap="round"/><path d="M318.9,1430.3 321.6,1430.8 320.4,1430.6 316.7,1432.2 315.8,1430.1 319.8,1429.4" fill="none" stroke="#2a4a90" stroke-width="1.08" stroke-linejoin="round" stroke-linecap="round"/><path d="M309.8,1424.3 311.4,1421.2 310.1,1417.3 310.4,1417.1 308.0,1417.1 307.0,1417.1" fill="none" stroke="#2a4a90" stroke-width="0.79" stroke-linejoin="round" stroke-linecap="round"/><path d="M316.4,1424.4 313.0,1421.2 310.7,1419.6 310.2,1420.4 314.0,1422.0 316.6,1421.3" fill="none" stroke="#2a4a90" stroke-width="1.34" stroke-linejoin="round" stroke-linecap="round"/><path d="M327.3,1444.7 324.8,1446.9 327.8,1450.5 326.8,1451.2 328.0,1453.1 325.8,1450.7" fill="none" stroke="#40b060" stroke-width="0.85" stroke-linejoin="round" stroke-linecap="round"/><path d="M337.6,1425.7 335.5,1426.2 337.1,1424.3 333.5,1426.3 334.0,1429.3 331.4,1426.0" fill="none" stroke="#50b050" stroke-width="0.69" stroke-linejoin="round" stroke-linecap="round"/><path d="M336.9,1439.6 336.9,1440.4 334.6,1441.2 335.9,1437.2 337.7,1437.8 341.4,1436.8" fill="none" stroke="#30a040" stroke-width="0.89" stroke-linejoin="round" stroke-linecap="round"/><path d="M328.1,1432.4 324.1,1430.1 326.2,1431.2 327.9,1427.6 325.6,1426.1 325.2,1422.9" fill="none" stroke="#40b060" stroke-width="1.01" stroke-linejoin="round" stroke-linecap="round"/><path d="M328.4,1430.4 332.2,1431.4 329.8,1430.3 332.1,1430.8 334.4,1434.7 331.0,1434.8" fill="none" stroke="#40b060" stroke-width="0.86" stroke-linejoin="round" stroke-linecap="round"/><path d="M334.9,1420.8 334.6,1419.6 335.5,1419.2 337.9,1420.7 336.9,1420.2 340.0,1423.5" fill="none" stroke="#40b060" stroke-width="1.09" stroke-linejoin="round" stroke-linecap="round"/><path d="M331.2,1433.2 331.6,1433.9 331.7,1432.6 334.8,1429.5 334.3,1433.0 333.4,1434.6" fill="none" stroke="#2a9a60" stroke-width="1.18" stroke-linejoin="round" stroke-linecap="round"/><path d="M326.1,1441.5 324.3,1443.0 322.1,1446.6 322.1,1448.0 322.1,1446.9 322.1,1450.3" fill="none" stroke="#50b050" stroke-width="1.00" stroke-linejoin="round" stroke-linecap="round"/><path d="M340.1,1420.8 340.3,1419.9 340.3,1423.3 340.4,1420.4 338.8,1423.6 342.2,1423.5" fill="none" stroke="#40b060" stroke-width="1.25" stroke-linejoin="round" stroke-linecap="round"/><path d="M327.7,1427.4 327.7,1423.4 326.0,1425.4 326.6,1423.1 328.2,1420.7 329.7,1418.8" fill="none" stroke="#40b060" stroke-width="1.09" stroke-linejoin="round" stroke-linecap="round"/><path d="M343.1,1431.5 345.5,1429.8 346.7,1426.8 349.6,1427.7 346.9,1429.7 346.6,1429.0" fill="none" stroke="#2a9a60" stroke-width="0.88" stroke-linejoin="round" stroke-linecap="round"/><path d="M331.0,1444.2 334.3,1440.3 335.6,1442.6 332.5,1443.3 331.2,1443.6 333.4,1444.3" fill="none" stroke="#2a9a60" stroke-width="0.76" stroke-linejoin="round" stroke-linecap="round"/><path d="M334.7,1435.8 335.7,1433.9 338.9,1429.9 339.7,1431.1 341.8,1427.6 339.6,1428.0" fill="none" stroke="#50b050" stroke-width="1.10" stroke-linejoin="round" stroke-linecap="round"/><path d="M328.1,1434.3 331.8,1430.6 330.1,1432.7 332.8,1430.1 333.7,1426.8 332.5,1424.0" fill="none" stroke="#30a040" stroke-width="0.68" stroke-linejoin="round" stroke-linecap="round"/><path d="M326.5,1437.0 322.9,1435.1 322.1,1434.9 323.9,1433.3 326.9,1431.2 323.6,1433.0" fill="none" stroke="#40b060" stroke-width="0.83" stroke-linejoin="round" stroke-linecap="round"/><path d="M328.7,1441.9 324.8,1442.2 323.6,1445.0 322.3,1444.2 322.1,1445.0 324.7,1448.2" fill="none" stroke="#2a9a60" stroke-width="0.69" stroke-linejoin="round" stroke-linecap="round"/><path d="M334.0,1445.7 332.5,1449.1 328.6,1446.4 326.4,1446.8 326.9,1446.3 330.6,1449.4" fill="none" stroke="#2a9a60" stroke-width="0.67" stroke-linejoin="round" stroke-linecap="round"/><path d="M341.4,1425.4 339.7,1426.2 337.2,1428.7 337.4,1428.8 336.2,1427.9 333.8,1427.5" fill="none" stroke="#30a040" stroke-width="1.24" stroke-linejoin="round" stroke-linecap="round"/><path d="M347.2,1429.3 348.5,1428.4 348.7,1425.6 345.7,1427.7 345.8,1431.4 347.0,1428.8" fill="none" stroke="#50b050" stroke-width="1.01" stroke-linejoin="round" stroke-linecap="round"/><path d="M337.4,1422.1 334.0,1425.4 331.9,1423.3 334.8,1422.0 331.1,1421.8 335.0,1419.2" fill="none" stroke="#40b060" stroke-width="0.86" stroke-linejoin="round" stroke-linecap="round"/><path d="M340.8,1445.0 344.1,1445.6 340.3,1448.2 340.8,1445.7 344.1,1449.3 343.9,1450.3" fill="none" stroke="#30a040" stroke-width="1.09" stroke-linejoin="round" stroke-linecap="round"/><path d="M341.4,1436.2 337.9,1432.5 338.6,1429.8 340.8,1427.7 337.2,1424.3 338.7,1420.7" fill="none" stroke="#30a040" stroke-width="0.66" stroke-linejoin="round" stroke-linecap="round"/><path d="M324.7,1431.5 325.0,1428.8 322.3,1428.4 322.1,1428.7 324.0,1424.9 323.1,1425.0" fill="none" stroke="#2a9a60" stroke-width="0.76" stroke-linejoin="round" stroke-linecap="round"/><path d="M333.8,1430.1 330.7,1429.2 328.3,1430.3 324.5,1427.4 324.1,1427.4 326.6,1426.0" fill="none" stroke="#50b050" stroke-width="0.81" stroke-linejoin="round" stroke-linecap="round"/><path d="M341.8,1444.9 345.6,1448.0 341.6,1450.6 341.8,1449.6 338.6,1450.7 338.7,1447.1" fill="none" stroke="#40b060" stroke-width="0.77" stroke-linejoin="round" stroke-linecap="round"/><path d="M330.8,1442.9 327.2,1440.2 328.5,1436.8 332.5,1439.4 335.6,1440.0 334.3,1438.1" fill="none" stroke="#30a040" stroke-width="0.98" stroke-linejoin="round" stroke-linecap="round"/><path d="M343.0,1440.8 342.8,1442.3 345.6,1440.2 345.5,1436.5 349.0,1435.1 350.5,1438.3" fill="none" stroke="#40b060" stroke-width="1.18" stroke-linejoin="round" stroke-linecap="round"/><path d="M347.0,1427.5 347.2,1425.9 349.5,1425.4 349.2,1427.6 352.1,1429.1 352.1,1432.6" fill="none" stroke="#2a9a60" stroke-width="0.86" stroke-linejoin="round" stroke-linecap="round"/><path d="M337.0,1447.3 338.7,1449.8 336.0,1448.2 336.9,1451.0 339.5,1449.8 336.4,1452.7" fill="none" stroke="#2a9a60" stroke-width="0.77" stroke-linejoin="round" stroke-linecap="round"/><path d="M344.4,1424.5 340.8,1425.7 342.9,1424.7 346.6,1427.4 346.2,1428.4 347.3,1425.6" fill="none" stroke="#40b060" stroke-width="1.21" stroke-linejoin="round" stroke-linecap="round"/><path d="M325.3,1439.1 324.8,1440.9 324.1,1437.7 322.1,1436.6 322.4,1433.1 325.7,1434.4" fill="none" stroke="#50b050" stroke-width="1.04" stroke-linejoin="round" stroke-linecap="round"/><path d="M341.3,1422.7 340.2,1423.1 336.8,1423.4 335.1,1427.1 338.7,1430.0 342.3,1426.4" fill="none" stroke="#2a9a60" stroke-width="0.83" stroke-linejoin="round" stroke-linecap="round"/><path d="M328.3,1434.4 326.9,1431.3 327.8,1431.8 330.3,1430.4 329.4,1432.4 332.5,1431.7" fill="none" stroke="#50b050" stroke-width="0.74" stroke-linejoin="round" stroke-linecap="round"/><path d="M340.1,1419.5 343.8,1416.7 343.7,1415.1 341.3,1415.1 338.4,1416.7 337.1,1418.3" fill="none" stroke="#40b060" stroke-width="1.16" stroke-linejoin="round" stroke-linecap="round"/><path d="M347.7,1434.6 351.2,1431.6 351.1,1432.5 351.3,1433.0 348.5,1432.2 350.3,1434.8" fill="none" stroke="#40b060" stroke-width="0.67" stroke-linejoin="round" stroke-linecap="round"/><path d="M335.1,1436.4 332.4,1437.2 336.0,1441.2 334.1,1440.5 333.2,1440.4 332.5,1437.3" fill="none" stroke="#50b050" stroke-width="1.13" stroke-linejoin="round" stroke-linecap="round"/><path d="M340.8,1427.1 337.4,1427.3 338.7,1429.6 337.2,1427.1 337.5,1429.2 336.5,1425.6" fill="none" stroke="#2a9a60" stroke-width="1.20" stroke-linejoin="round" stroke-linecap="round"/><path d="M347.9,1430.6 344.3,1433.9 342.5,1431.9 342.7,1435.4 344.6,1434.3 345.7,1437.3" fill="none" stroke="#40b060" stroke-width="1.23" stroke-linejoin="round" stroke-linecap="round"/><path d="M331.1,1423.7 334.4,1420.2 332.1,1416.6 335.8,1416.1 336.0,1415.1 339.2,1416.1" fill="none" stroke="#40b060" stroke-width="0.70" stroke-linejoin="round" stroke-linecap="round"/><path d="M339.7,1426.6 343.3,1429.9 343.6,1432.9 340.0,1434.1 336.1,1431.1 338.6,1431.8" fill="none" stroke="#30a040" stroke-width="0.85" stroke-linejoin="round" stroke-linecap="round"/><path d="M318.8,1446.3 320.0,1448.5 316.6,1446.0 318.9,1446.0 319.7,1445.3 321.7,1448.5" fill="none" stroke="#c08020" stroke-width="0.69" stroke-linejoin="round" stroke-linecap="round"/><path d="M315.0,1452.3 313.5,1454.1 316.9,1458.0 318.2,1457.7 320.0,1458.1 323.8,1457.5" fill="none" stroke="#d0c030" stroke-width="1.20" stroke-linejoin="round" stroke-linecap="round"/><path d="M306.5,1448.2 305.1,1448.6 308.8,1452.6 309.4,1448.6 310.4,1447.3 307.6,1448.0" fill="none" stroke="#c08020" stroke-width="1.02" stroke-linejoin="round" stroke-linecap="round"/><path d="M323.8,1453.0 324.2,1449.1 321.8,1447.3 324.8,1448.7 321.3,1450.0 318.9,1446.6" fill="none" stroke="#e0a020" stroke-width="1.14" stroke-linejoin="round" stroke-linecap="round"/><path d="M310.2,1451.4 309.2,1450.2 305.4,1452.5 303.5,1453.2 301.1,1449.2 301.1,1452.2" fill="none" stroke="#e0a020" stroke-width="0.69" stroke-linejoin="round" stroke-linecap="round"/><path d="M311.2,1441.0 307.4,1440.1 307.2,1440.4 306.9,1438.1 304.5,1441.9 306.0,1443.4" fill="none" stroke="#d0c030" stroke-width="0.85" stroke-linejoin="round" stroke-linecap="round"/><path d="M316.1,1452.0 319.8,1448.9 317.0,1452.8 315.7,1450.7 318.2,1450.0 317.8,1446.2" fill="none" stroke="#2a8a90" stroke-width="1.10" stroke-linejoin="round" stroke-linecap="round"/><path d="M308.6,1450.8 307.5,1447.6 303.5,1444.2 301.8,1443.8 301.1,1442.6 301.1,1439.9" fill="none" stroke="#2a8a90" stroke-width="0.87" stroke-linejoin="round" stroke-linecap="round"/><path d="M312.1,1446.9 310.4,1443.3 313.4,1446.7 313.3,1444.6 315.2,1444.0 315.4,1446.3" fill="none" stroke="#d0c030" stroke-width="0.63" stroke-linejoin="round" stroke-linecap="round"/><path d="M323.0,1452.2 326.9,1452.7 329.1,1451.9 325.8,1452.2 324.4,1451.5 322.9,1453.1" fill="none" stroke="#d0c030" stroke-width="0.70" stroke-linejoin="round" stroke-linecap="round"/><path d="M311.9,1441.0 312.7,1443.9 315.8,1446.6 316.0,1449.7 315.5,1449.0 317.3,1447.8" fill="none" stroke="#d0c030" stroke-width="1.24" stroke-linejoin="round" stroke-linecap="round"/><path d="M303.6,1449.9 301.1,1453.6 304.1,1450.8 302.3,1448.8 306.2,1445.6 306.1,1447.7" fill="none" stroke="#d0c030" stroke-width="0.82" stroke-linejoin="round" stroke-linecap="round"/><path d="M310.8,1448.5 307.9,1448.2 309.6,1444.7 306.5,1442.0 303.6,1445.1 302.7,1448.8" fill="none" stroke="#e0a020" stroke-width="1.00" stroke-linejoin="round" stroke-linecap="round"/><path d="M318.1,1453.6 315.3,1453.5 311.6,1450.9 309.2,1454.3 309.4,1456.3 308.8,1452.8" fill="none" stroke="#c08020" stroke-width="0.82" stroke-linejoin="round" stroke-linecap="round"/><path d="M321.6,1449.8 318.0,1449.7 316.4,1447.6 316.3,1451.0 317.2,1455.0 321.1,1455.3" fill="none" stroke="#2a8a90" stroke-width="1.21" stroke-linejoin="round" stroke-linecap="round"/><path d="M314.3,1452.0 310.5,1451.4 311.7,1450.8 308.7,1449.2 310.1,1446.4 308.3,1445.6" fill="none" stroke="#c08020" stroke-width="0.97" stroke-linejoin="round" stroke-linecap="round"/><path d="M308.6,1446.2 309.1,1445.9 309.7,1445.0 313.7,1444.0 313.0,1447.1 311.0,1450.6" fill="none" stroke="#c08020" stroke-width="1.01" stroke-linejoin="round" stroke-linecap="round"/><path d="M304.9,1445.1 307.2,1444.3 304.9,1446.8 304.6,1447.5 303.5,1447.3 307.0,1445.7" fill="none" stroke="#e0a020" stroke-width="0.83" stroke-linejoin="round" stroke-linecap="round"/><path d="M314.7,1447.9 312.9,1447.8 315.7,1446.0 316.9,1444.1 318.4,1444.4 318.0,1445.1" fill="none" stroke="#d0c030" stroke-width="1.09" stroke-linejoin="round" stroke-linecap="round"/><path d="M320.5,1448.8 321.7,1452.2 318.1,1452.0 321.7,1449.1 318.7,1445.6 316.5,1445.3" fill="none" stroke="#2a8a90" stroke-width="0.90" stroke-linejoin="round" stroke-linecap="round"/><path d="M326.0,1449.5 323.4,1445.6 323.0,1448.8 321.9,1452.2 319.2,1454.5 322.3,1455.4" fill="none" stroke="#c08020" stroke-width="1.23" stroke-linejoin="round" stroke-linecap="round"/><path d="M318.1,1447.5 315.9,1445.9 319.3,1446.9 320.7,1446.2 322.2,1447.4 319.8,1450.3" fill="none" stroke="#d0c030" stroke-width="0.81" stroke-linejoin="round" stroke-linecap="round"/><path d="M309.3,1446.1 310.7,1449.8 313.6,1452.4 312.9,1454.8 314.6,1456.0 313.6,1453.8" fill="none" stroke="#e0a020" stroke-width="0.72" stroke-linejoin="round" stroke-linecap="round"/><path d="M308.3,1448.5 309.2,1445.3 310.3,1448.2 308.1,1448.3 310.5,1446.2 307.3,1444.6" fill="none" stroke="#c08020" stroke-width="1.12" stroke-linejoin="round" stroke-linecap="round"/><path d="M317.9,1451.2 316.5,1454.2 312.8,1456.7 309.2,1454.5 306.0,1454.1 307.4,1458.0" fill="none" stroke="#e0a020" stroke-width="0.96" stroke-linejoin="round" stroke-linecap="round"/><path d="M313.7,1442.0 316.9,1441.9 319.7,1445.7 320.4,1446.5 324.0,1447.0 322.9,1447.9" fill="none" stroke="#2a8a90" stroke-width="0.98" stroke-linejoin="round" stroke-linecap="round"/><path d="M322.6,1432.1 320.7,1436.0 321.7,1435.7 320.4,1436.5 320.1,1437.1 323.0,1436.5" fill="none" stroke="#c04020" stroke-width="1.10" stroke-linejoin="round" stroke-linecap="round"/><path d="M331.0,1428.3 329.1,1429.4 331.7,1431.3 331.1,1432.8 329.8,1432.8 330.8,1435.5" fill="none" stroke="#c04020" stroke-width="0.85" stroke-linejoin="round" stroke-linecap="round"/><path d="M319.6,1429.7 317.6,1430.4 317.8,1433.9 316.3,1436.1 316.1,1437.1 316.1,1436.4" fill="none" stroke="#b03018" stroke-width="1.30" stroke-linejoin="round" stroke-linecap="round"/><path d="M320.0,1430.8 317.9,1432.8 321.3,1428.9 321.7,1431.3 320.7,1430.3 317.3,1434.0" fill="none" stroke="#b03018" stroke-width="1.11" stroke-linejoin="round" stroke-linecap="round"/><path d="M325.9,1432.9 325.3,1430.0 323.1,1428.8 319.8,1431.6 323.1,1435.3 321.6,1437.1" fill="none" stroke="#c04020" stroke-width="1.05" stroke-linejoin="round" stroke-linecap="round"/><path d="M325.8,1429.9 326.6,1428.8 328.7,1425.0 331.6,1425.2 330.1,1427.7 332.1,1431.5" fill="none" stroke="#b03018" stroke-width="1.06" stroke-linejoin="round" stroke-linecap="round"/><path d="M327.6,1429.1 327.8,1432.2 328.3,1434.2 325.5,1436.2 325.3,1433.4 326.8,1434.5" fill="none" stroke="#c04020" stroke-width="1.07" stroke-linejoin="round" stroke-linecap="round"/><path d="M321.6,1427.4 319.2,1425.9 322.4,1424.0 324.9,1424.0 326.8,1427.4 325.5,1429.3" fill="none" stroke="#c04020" stroke-width="1.04" stroke-linejoin="round" stroke-linecap="round"/><path d="M323.6,1434.8 322.6,1437.1 325.7,1437.1 325.0,1437.1 327.9,1435.1 331.1,1436.4" fill="none" stroke="#b03018" stroke-width="0.98" stroke-linejoin="round" stroke-linecap="round"/><path d="M330.9,1428.7 328.1,1430.8 325.9,1428.4 329.8,1427.5 331.3,1427.2 334.0,1424.4" fill="none" stroke="#c04020" stroke-width="1.03" stroke-linejoin="round" stroke-linecap="round"/><path d="M330.6,1430.2 331.5,1427.0 329.3,1427.5 332.9,1426.6 331.5,1425.7 330.2,1426.7" fill="none" stroke="#b03018" stroke-width="1.32" stroke-linejoin="round" stroke-linecap="round"/><path d="M328.5,1429.2 329.8,1425.7 328.2,1429.5 331.3,1432.9 329.2,1430.5 329.0,1427.6" fill="none" stroke="#c04020" stroke-width="1.46" stroke-linejoin="round" stroke-linecap="round"/></g>
<circle cx="617.0" cy="1443.0" r="39.6" fill="#c2e3f5" stroke="#7a9fb5" stroke-width="6.2"/>
<g><path d="M618.6,1449.5 615.6,1445.3 617.2,1443.5 616.3,1447.0 620.1,1443.5 623.6,1445.9" fill="none" stroke="#4060b8" stroke-width="1.38" stroke-linejoin="round" stroke-linecap="round"/><path d="M614.0,1426.3 610.3,1423.4 606.6,1422.6 609.3,1425.8 612.0,1428.4 612.9,1430.4" fill="none" stroke="#2040a0" stroke-width="0.78" stroke-linejoin="round" stroke-linecap="round"/><path d="M618.3,1458.3 614.0,1458.8 611.1,1459.4 615.5,1455.1 613.7,1455.4 609.1,1453.1" fill="none" stroke="#1a3a90" stroke-width="1.08" stroke-linejoin="round" stroke-linecap="round"/><path d="M625.1,1450.3 628.0,1452.8 628.0,1449.2 628.0,1445.5 628.0,1444.2 628.0,1445.5" fill="none" stroke="#1a3a90" stroke-width="1.13" stroke-linejoin="round" stroke-linecap="round"/><path d="M616.2,1440.2 619.0,1441.0 615.3,1442.9 617.0,1442.8 612.7,1444.0 616.4,1441.8" fill="none" stroke="#3050b0" stroke-width="1.13" stroke-linejoin="round" stroke-linecap="round"/><path d="M617.2,1425.6 614.3,1422.1 611.3,1418.0 606.5,1418.0 609.9,1418.0 613.0,1418.0" fill="none" stroke="#3050b0" stroke-width="1.27" stroke-linejoin="round" stroke-linecap="round"/><path d="M620.4,1445.2 616.9,1446.0 615.5,1444.8 618.3,1447.5 616.8,1447.8 612.2,1444.1" fill="none" stroke="#3050b0" stroke-width="0.94" stroke-linejoin="round" stroke-linecap="round"/><path d="M620.4,1445.0 624.0,1447.4 621.5,1445.3 624.7,1449.2 624.9,1446.3 624.8,1446.5" fill="none" stroke="#3050b0" stroke-width="1.09" stroke-linejoin="round" stroke-linecap="round"/><path d="M609.0,1447.7 606.9,1445.0 609.2,1449.9 606.0,1450.7 606.0,1449.1 606.0,1448.7" fill="none" stroke="#4060b8" stroke-width="1.25" stroke-linejoin="round" stroke-linecap="round"/><path d="M624.8,1451.6 623.0,1448.6 624.2,1444.0 628.0,1443.0 628.0,1438.1 623.0,1440.5" fill="none" stroke="#3050b0" stroke-width="1.04" stroke-linejoin="round" stroke-linecap="round"/><path d="M612.1,1448.5 615.7,1445.9 612.9,1446.6 611.4,1448.0 613.3,1448.7 613.2,1446.4" fill="none" stroke="#1a3a90" stroke-width="1.23" stroke-linejoin="round" stroke-linecap="round"/><path d="M610.9,1429.2 613.3,1429.0 617.0,1432.2 614.4,1429.2 615.9,1431.1 616.3,1427.3" fill="none" stroke="#4060b8" stroke-width="1.14" stroke-linejoin="round" stroke-linecap="round"/><path d="M621.7,1429.5 626.0,1432.1 628.0,1428.8 623.1,1429.2 622.0,1433.2 626.2,1432.2" fill="none" stroke="#3050b0" stroke-width="0.77" stroke-linejoin="round" stroke-linecap="round"/><path d="M621.6,1439.5 617.3,1434.9 615.1,1436.1 618.9,1433.0 617.4,1436.7 620.9,1436.0" fill="none" stroke="#3050b0" stroke-width="0.82" stroke-linejoin="round" stroke-linecap="round"/><path d="M613.5,1441.0 616.3,1437.8 617.8,1438.9 621.3,1443.1 621.2,1441.8 618.9,1443.8" fill="none" stroke="#2040a0" stroke-width="0.89" stroke-linejoin="round" stroke-linecap="round"/><path d="M619.3,1449.2 622.1,1449.2 623.8,1445.2 622.6,1441.8 621.7,1440.3 623.0,1443.7" fill="none" stroke="#3050b0" stroke-width="1.27" stroke-linejoin="round" stroke-linecap="round"/><path d="M622.7,1448.4 618.5,1445.2 619.9,1448.7 619.7,1444.1 621.8,1442.7 619.1,1445.1" fill="none" stroke="#3050b0" stroke-width="1.19" stroke-linejoin="round" stroke-linecap="round"/><path d="M616.5,1456.2 612.0,1453.3 615.4,1448.5 614.2,1445.9 609.3,1441.8 612.9,1439.1" fill="none" stroke="#3050b0" stroke-width="1.18" stroke-linejoin="round" stroke-linecap="round"/><path d="M611.6,1425.1 610.9,1425.6 607.7,1430.2 609.8,1434.9 607.8,1430.7 610.3,1433.6" fill="none" stroke="#3050b0" stroke-width="1.08" stroke-linejoin="round" stroke-linecap="round"/><path d="M609.6,1449.2 610.7,1453.0 606.0,1449.2 610.3,1446.0 611.3,1442.6 612.0,1445.3" fill="none" stroke="#3050b0" stroke-width="0.71" stroke-linejoin="round" stroke-linecap="round"/><path d="M621.4,1437.6 618.6,1436.8 617.4,1435.9 619.3,1431.8 620.4,1435.1 618.2,1430.2" fill="none" stroke="#2040a0" stroke-width="0.83" stroke-linejoin="round" stroke-linecap="round"/><path d="M617.9,1420.6 621.9,1422.7 620.1,1423.4 622.2,1422.4 621.0,1418.0 620.1,1418.0" fill="none" stroke="#2040a0" stroke-width="1.31" stroke-linejoin="round" stroke-linecap="round"/><path d="M617.6,1456.7 613.7,1452.5 616.3,1454.1 615.3,1451.5 611.6,1453.1 608.4,1454.0" fill="none" stroke="#2040a0" stroke-width="1.13" stroke-linejoin="round" stroke-linecap="round"/><path d="M612.9,1455.9 615.6,1453.4 613.0,1455.0 617.0,1453.2 618.6,1453.3 614.6,1448.4" fill="none" stroke="#2040a0" stroke-width="0.70" stroke-linejoin="round" stroke-linecap="round"/><path d="M617.7,1435.9 621.2,1435.8 623.7,1431.5 623.4,1434.6 622.2,1437.5 620.6,1437.3" fill="none" stroke="#4060b8" stroke-width="1.05" stroke-linejoin="round" stroke-linecap="round"/><path d="M609.9,1446.5 606.0,1446.8 606.7,1451.6 606.0,1448.5 606.0,1452.6 606.0,1453.4" fill="none" stroke="#3050b0" stroke-width="1.00" stroke-linejoin="round" stroke-linecap="round"/><path d="M619.2,1459.0 615.5,1457.6 615.9,1461.1 616.1,1465.6 619.2,1464.9 621.6,1462.9" fill="none" stroke="#1a3a90" stroke-width="1.35" stroke-linejoin="round" stroke-linecap="round"/><path d="M608.7,1439.8 611.0,1436.7 612.7,1435.9 613.8,1434.3 608.8,1435.2 609.8,1431.1" fill="none" stroke="#1a3a90" stroke-width="1.04" stroke-linejoin="round" stroke-linecap="round"/><path d="M619.9,1435.7 619.3,1438.8 614.5,1439.7 616.3,1441.8 618.0,1437.7 620.1,1437.6" fill="none" stroke="#1a3a90" stroke-width="1.25" stroke-linejoin="round" stroke-linecap="round"/><path d="M613.8,1442.7 617.7,1444.7 617.4,1447.5 621.6,1449.5 619.7,1452.1 616.7,1454.5" fill="none" stroke="#1a3a90" stroke-width="1.06" stroke-linejoin="round" stroke-linecap="round"/><path d="M625.5,1449.4 623.7,1447.1 619.1,1447.6 615.8,1448.0 613.6,1443.6 617.5,1445.0" fill="none" stroke="#2040a0" stroke-width="1.36" stroke-linejoin="round" stroke-linecap="round"/><path d="M620.1,1445.9 616.3,1441.6 618.2,1445.1 620.7,1444.2 620.3,1449.2 620.4,1445.3" fill="none" stroke="#4060b8" stroke-width="0.76" stroke-linejoin="round" stroke-linecap="round"/><path d="M612.6,1426.0 616.6,1422.0 612.5,1420.3 608.8,1422.2 606.0,1420.6 606.0,1421.4" fill="none" stroke="#1a3a90" stroke-width="1.05" stroke-linejoin="round" stroke-linecap="round"/><path d="M624.1,1429.6 619.7,1432.5 623.6,1435.0 622.1,1434.3 625.5,1438.6 628.0,1441.2" fill="none" stroke="#1a3a90" stroke-width="0.96" stroke-linejoin="round" stroke-linecap="round"/><path d="M619.1,1464.1 618.7,1461.5 617.2,1465.4 619.7,1462.5 620.9,1465.2 624.5,1463.0" fill="none" stroke="#3050b0" stroke-width="0.95" stroke-linejoin="round" stroke-linecap="round"/><path d="M621.4,1461.8 619.9,1458.6 623.6,1459.9 628.0,1458.5 628.0,1459.4 626.6,1462.8" fill="none" stroke="#1a3a90" stroke-width="0.91" stroke-linejoin="round" stroke-linecap="round"/><path d="M619.1,1453.1 619.5,1456.2 618.2,1453.5 619.8,1450.1 623.7,1453.8 623.7,1450.9" fill="none" stroke="#4060b8" stroke-width="1.09" stroke-linejoin="round" stroke-linecap="round"/><path d="M618.4,1451.1 619.4,1455.1 621.7,1453.9 625.5,1454.1 624.5,1457.8 628.0,1462.6" fill="none" stroke="#2040a0" stroke-width="0.96" stroke-linejoin="round" stroke-linecap="round"/><path d="M611.6,1426.2 611.7,1424.4 614.1,1421.3 614.5,1418.0 618.6,1418.3 614.8,1419.5" fill="none" stroke="#3050b0" stroke-width="1.16" stroke-linejoin="round" stroke-linecap="round"/><path d="M613.8,1421.8 617.3,1426.4 614.9,1425.9 612.0,1421.3 613.4,1419.5 610.4,1422.1" fill="none" stroke="#1a3a90" stroke-width="1.18" stroke-linejoin="round" stroke-linecap="round"/><path d="M612.3,1438.7 614.4,1439.6 610.2,1439.2 606.0,1442.2 608.3,1443.7 609.0,1448.1" fill="none" stroke="#2040a0" stroke-width="1.00" stroke-linejoin="round" stroke-linecap="round"/><path d="M616.6,1463.8 619.8,1465.8 617.0,1465.4 612.3,1468.0 610.0,1463.9 613.2,1462.6" fill="none" stroke="#4060b8" stroke-width="0.80" stroke-linejoin="round" stroke-linecap="round"/><path d="M615.1,1445.1 613.1,1449.7 618.1,1446.7 622.6,1450.7 626.4,1455.5 628.0,1458.3" fill="none" stroke="#3050b0" stroke-width="1.35" stroke-linejoin="round" stroke-linecap="round"/><path d="M610.2,1451.7 615.2,1452.7 611.1,1448.0 609.8,1452.0 607.5,1456.3 607.2,1460.3" fill="none" stroke="#2040a0" stroke-width="0.82" stroke-linejoin="round" stroke-linecap="round"/><path d="M625.6,1448.5 627.6,1447.0 628.0,1446.0 627.3,1442.6 628.0,1439.0 624.4,1434.5" fill="none" stroke="#3050b0" stroke-width="0.86" stroke-linejoin="round" stroke-linecap="round"/><path d="M612.7,1441.0 609.8,1440.6 606.0,1443.5 609.7,1448.2 614.0,1448.6 610.8,1447.1" fill="none" stroke="#2040a0" stroke-width="1.30" stroke-linejoin="round" stroke-linecap="round"/><path d="M614.3,1433.1 611.5,1430.3 616.3,1431.6 611.3,1427.1 609.8,1430.4 607.0,1428.0" fill="none" stroke="#4060b8" stroke-width="1.06" stroke-linejoin="round" stroke-linecap="round"/><path d="M618.2,1447.2 615.7,1447.6 612.6,1443.1 616.0,1439.5 614.0,1435.9 616.5,1440.1" fill="none" stroke="#3050b0" stroke-width="1.05" stroke-linejoin="round" stroke-linecap="round"/><path d="M616.3,1438.9 620.7,1440.5 617.1,1444.4 621.7,1439.8 619.8,1435.0 624.1,1434.1" fill="none" stroke="#2040a0" stroke-width="1.36" stroke-linejoin="round" stroke-linecap="round"/><path d="M621.9,1436.3 623.1,1434.7 623.3,1435.6 624.5,1430.9 619.9,1432.9 615.6,1436.4" fill="none" stroke="#2040a0" stroke-width="0.77" stroke-linejoin="round" stroke-linecap="round"/><path d="M621.7,1431.3 619.2,1427.2 614.5,1430.8 614.9,1429.5 613.6,1426.1 612.5,1425.6" fill="none" stroke="#2040a0" stroke-width="1.21" stroke-linejoin="round" stroke-linecap="round"/><path d="M614.3,1425.9 617.2,1422.0 621.8,1421.7 617.6,1424.5 618.2,1428.8 622.5,1424.1" fill="none" stroke="#3050b0" stroke-width="1.18" stroke-linejoin="round" stroke-linecap="round"/><path d="M625.2,1443.3 627.2,1446.0 622.5,1447.8 623.6,1443.4 623.7,1441.8 621.8,1438.4" fill="none" stroke="#3050b0" stroke-width="1.03" stroke-linejoin="round" stroke-linecap="round"/><path d="M615.2,1453.5 618.1,1450.7 618.6,1455.5 622.5,1452.8 627.4,1448.2 628.0,1449.1" fill="none" stroke="#2040a0" stroke-width="1.09" stroke-linejoin="round" stroke-linecap="round"/><path d="M611.6,1446.9 612.3,1443.5 612.9,1446.6 610.0,1451.5 606.3,1454.9 606.6,1457.6" fill="none" stroke="#4060b8" stroke-width="1.33" stroke-linejoin="round" stroke-linecap="round"/><path d="M619.0,1459.8 618.3,1462.1 613.3,1459.9 611.8,1459.0 615.5,1458.3 618.0,1454.6" fill="none" stroke="#3050b0" stroke-width="1.22" stroke-linejoin="round" stroke-linecap="round"/><path d="M620.1,1426.1 622.4,1421.2 626.4,1420.0 621.8,1423.3 619.6,1424.5 619.4,1422.6" fill="none" stroke="#4060b8" stroke-width="0.81" stroke-linejoin="round" stroke-linecap="round"/><path d="M609.4,1444.0 614.1,1441.2 614.1,1446.2 609.4,1441.7 613.4,1445.1 617.8,1449.8" fill="none" stroke="#4060b8" stroke-width="0.76" stroke-linejoin="round" stroke-linecap="round"/><path d="M612.4,1438.6 610.5,1435.0 606.0,1435.8 608.0,1432.6 606.0,1428.2 606.0,1424.0" fill="none" stroke="#1a3a90" stroke-width="1.22" stroke-linejoin="round" stroke-linecap="round"/><path d="M613.9,1448.3 615.4,1447.3 614.3,1451.2 609.4,1448.2 611.2,1449.9 613.6,1454.1" fill="none" stroke="#2040a0" stroke-width="1.07" stroke-linejoin="round" stroke-linecap="round"/></g>
<text x="458.5" y="736.5" font-size="25.2" fill="#000" stroke="#f6f4ec" stroke-width="4" stroke-linejoin="round" paint-order="stroke">PLTP</text>
<text x="748.3" y="817.4" font-size="25.2" fill="#000" stroke="#f6f4ec" stroke-width="4" stroke-linejoin="round" paint-order="stroke">APOA4</text>
<text x="243.8" y="916.9" font-size="25.2" fill="#000" stroke="#f6f4ec" stroke-width="4" stroke-linejoin="round" paint-order="stroke">LIPG</text>
<text x="489.1" y="963.5" font-size="25.2" fill="#000" stroke="#f6f4ec" stroke-width="4" stroke-linejoin="round" paint-order="stroke">APOC2</text>
<text x="916.0" y="1062.7" font-size="25.2" fill="#000" stroke="#f6f4ec" stroke-width="4" stroke-linejoin="round" paint-order="stroke">LRP2</text>
<text x="712.4" y="1135.0" font-size="25.2" fill="#000" stroke="#f6f4ec" stroke-width="4" stroke-linejoin="round" paint-order="stroke">LDLR</text>
<text x="441.2" y="1154.2" font-size="25.2" fill="#000" stroke="#f6f4ec" stroke-width="4" stroke-linejoin="round" paint-order="stroke">PCSK9</text>
<text x="207.8" y="1170.5" font-size="25.2" fill="#000" stroke="#f6f4ec" stroke-width="4" stroke-linejoin="round" paint-order="stroke">LIPC</text>
<text x="708.3" y="1269.0" font-size="25.2" fill="#000" stroke="#f6f4ec" stroke-width="4" stroke-linejoin="round" paint-order="stroke">SORT1</text>
<text x="523.7" y="1309.5" font-size="25.2" fill="#000" stroke="#f6f4ec" stroke-width="4" stroke-linejoin="round" paint-order="stroke">LIPA</text>
<text x="843.9" y="1339.8" font-size="25.2" fill="#000" stroke="#f6f4ec" stroke-width="4" stroke-linejoin="round" paint-order="stroke">CIDEB</text>
<text x="203.0" y="1333.4" font-size="25.2" fill="#000" stroke="#f6f4ec" stroke-width="4" stroke-linejoin="round" paint-order="stroke">CD36</text>
<text x="366.4" y="1398.6" font-size="25.2" fill="#000" stroke="#f6f4ec" stroke-width="4" stroke-linejoin="round" paint-order="stroke">CYP27A1</text>
<text x="656.5" y="1403.9" font-size="25.2" fill="#000" stroke="#f6f4ec" stroke-width="4" stroke-linejoin="round" paint-order="stroke">ABCB11</text>
<text x="1008.7" y="730.0" font-size="41.5" font-weight="700" fill="#231815">D</text>
<path d="M1651.93,801.90 A342.6,342.6 0 0 1 1791.35,955.93 L1777.89,962.06 A327.8,327.8 0 0 0 1644.49,814.69 Z" fill="#5f6298"/>
<path d="M1798.14,971.88 A342.6,342.6 0 0 1 1813.42,1175.07 L1799.00,1171.74 A327.8,327.8 0 0 0 1784.38,977.33 Z" fill="#5f6298"/>
<path d="M1809.58,1190.13 A342.6,342.6 0 0 1 1693.34,1365.75 L1684.11,1354.18 A327.8,327.8 0 0 0 1795.32,1186.15 Z" fill="#5f6298"/>
<path d="M1680.49,1375.52 A342.6,342.6 0 0 1 1484.98,1440.56 L1484.75,1425.76 A327.8,327.8 0 0 0 1671.81,1363.53 Z" fill="#5f6298"/>
<path d="M1167.85,955.93 A342.6,342.6 0 0 1 1307.27,801.90 L1314.71,814.69 A327.8,327.8 0 0 0 1181.31,962.06 Z" fill="#c5664d"/>
<path d="M1145.78,1175.07 A342.6,342.6 0 0 1 1161.06,971.88 L1174.82,977.33 A327.8,327.8 0 0 0 1160.20,1171.74 Z" fill="#c5664d"/>
<path d="M1265.86,1365.75 A342.6,342.6 0 0 1 1149.62,1190.13 L1163.88,1186.15 A327.8,327.8 0 0 0 1275.09,1354.18 Z" fill="#5f6298"/>
<path d="M1474.22,1440.56 A342.6,342.6 0 0 1 1278.71,1375.52 L1287.39,1363.53 A327.8,327.8 0 0 0 1474.45,1425.76 Z" fill="#5f6298"/>
<g transform="rotate(0.6 1480.4 768) translate(0 0.8)"><path d="M1354.37,777.48 A489.0,489.0 0 0 1 1606.42,776.36 L1601.05,796.87 A467.8,467.8 0 0 0 1359.93,797.94 Z" fill="#0a0606"/></g>
<path d="M1368.53,828.33 A296.0,296.0 0 0 1 1392.30,819.66 Q1433.90,1051.90 1210.35,983.77 A296.0,296.0 0 0 1 1330.24,847.55 Q1426.50,1053.50 1368.53,828.33 Z" fill="#7cb0b4"/>
<path d="M1392.30,819.66 A296.0,296.0 0 0 1 1421.27,812.06 Q1465.90,1159.90 1194.84,1174.41 A296.0,296.0 0 0 1 1208.13,989.00 Q1433.90,1051.90 1392.30,819.66 Z" fill="#d4a866"/>
<path d="M1421.27,812.06 A296.0,296.0 0 0 1 1454.20,807.09 Q1493.40,1153.20 1291.53,1328.55 A296.0,296.0 0 0 1 1196.70,1181.40 Q1465.90,1159.90 1421.27,812.06 Z" fill="#7cb0b4"/>
<path d="M1454.20,807.09 A296.0,296.0 0 0 1 1483.92,805.81 Q1480.79,1101.79 1477.67,1397.77 A296.0,296.0 0 0 1 1297.94,1333.77 Q1493.40,1153.20 1454.20,807.09 Z" fill="#d4a866"/>
<path d="M1483.92,805.81 A296.0,296.0 0 0 1 1512.48,807.39 Q1470.20,1153.20 1665.66,1333.77 A296.0,296.0 0 0 1 1485.93,1397.77 Q1484.93,1101.79 1483.92,805.81 Z" fill="#d4a866"/>
<path d="M1512.48,807.39 A296.0,296.0 0 0 1 1544.05,812.42 Q1497.70,1159.90 1766.90,1181.40 A296.0,296.0 0 0 1 1672.07,1328.55 Q1470.20,1153.20 1512.48,807.39 Z" fill="#7cb0b4"/>
<path d="M1544.05,812.42 A296.0,296.0 0 0 1 1572.93,820.18 Q1529.70,1051.90 1755.47,989.00 A296.0,296.0 0 0 1 1768.76,1174.41 Q1497.70,1159.90 1544.05,812.42 Z" fill="#d4a866"/>
<path d="M1572.93,820.18 A296.0,296.0 0 0 1 1599.36,830.14 Q1537.10,1053.50 1633.36,847.55 A296.0,296.0 0 0 1 1753.25,983.77 Q1529.70,1051.90 1572.93,820.18 Z" fill="#7cb0b4"/>
<path d="M1392.30,819.66 Q1433.90,1051.90 1210.35,983.77" fill="none" stroke="#fff" stroke-width="2.6"/>
<path d="M1421.27,812.06 Q1465.90,1159.90 1194.84,1174.41" fill="none" stroke="#fff" stroke-width="2.6"/>
<path d="M1208.13,989.00 Q1433.90,1051.90 1392.30,819.66" fill="none" stroke="#fff" stroke-width="2.6"/>
<path d="M1454.20,807.09 Q1493.40,1153.20 1291.53,1328.55" fill="none" stroke="#fff" stroke-width="2.6"/>
<path d="M1196.70,1181.40 Q1465.90,1159.90 1421.27,812.06" fill="none" stroke="#fff" stroke-width="2.6"/>
<path d="M1483.92,805.81 Q1480.79,1101.79 1477.67,1397.77" fill="none" stroke="#fff" stroke-width="2.6"/>
<path d="M1297.94,1333.77 Q1493.40,1153.20 1454.20,807.09" fill="none" stroke="#fff" stroke-width="2.6"/>
<path d="M1512.48,807.39 Q1470.20,1153.20 1665.66,1333.77" fill="none" stroke="#fff" stroke-width="2.6"/>
<path d="M1485.93,1397.77 Q1484.93,1101.79 1483.92,805.81" fill="none" stroke="#fff" stroke-width="2.6"/>
<path d="M1544.05,812.42 Q1497.70,1159.90 1766.90,1181.40" fill="none" stroke="#fff" stroke-width="2.6"/>
<path d="M1672.07,1328.55 Q1470.20,1153.20 1512.48,807.39" fill="none" stroke="#fff" stroke-width="2.6"/>
<path d="M1572.93,820.18 Q1529.70,1051.90 1755.47,989.00" fill="none" stroke="#fff" stroke-width="2.6"/>
<path d="M1768.76,1174.41 Q1497.70,1159.90 1544.05,812.42" fill="none" stroke="#fff" stroke-width="2.6"/>
<path d="M1753.25,983.77 Q1529.70,1051.90 1572.93,820.18" fill="none" stroke="#fff" stroke-width="2.6"/>
<g transform="translate(1475.6,730.5) rotate(0)"><text x="0" y="14.5" font-size="40.5" font-weight="700" font-style="italic" text-anchor="middle" fill="#231815">Morc4</text></g>
<g transform="translate(1187,855.7) rotate(-48.0)"><text x="0" y="14.5" font-size="40.5" font-weight="700" font-style="italic" text-anchor="middle" fill="#231815">Hmgcr</text></g>
<g transform="translate(1097.5,1073.8) rotate(-85.5)"><text x="0" y="14.5" font-size="40.5" font-weight="700" font-style="italic" text-anchor="middle" fill="#231815">Pcsk9</text></g>
<g transform="translate(1155,1315.2) rotate(-123.3)"><text x="0" y="14.5" font-size="40.5" font-weight="700" font-style="italic" text-anchor="middle" fill="#231815">Lipa</text></g>
<g transform="translate(1361.4,1453.5) rotate(-161.3)"><text x="0" y="14.5" font-size="40.5" font-weight="700" font-style="italic" text-anchor="middle" fill="#231815">Lipg</text></g>
<g transform="translate(1584.8,1454.8) rotate(161.5)"><text x="0" y="14.5" font-size="40.5" font-weight="700" font-style="italic" text-anchor="middle" fill="#231815">Pltp</text></g>
<g transform="translate(1779.5,1320.6) rotate(123.5)"><text x="0" y="14.5" font-size="40.5" font-weight="700" font-style="italic" text-anchor="middle" fill="#231815">Apoc2</text></g>
<g transform="translate(1846.2,1076) rotate(85.7)"><text x="0" y="14.5" font-size="40.5" font-weight="700" font-style="italic" text-anchor="middle" fill="#231815">Cd36</text></g>
<g transform="translate(1761.5,855.7) rotate(47.8)"><text x="0" y="14.5" font-size="40.5" font-weight="700" font-style="italic" text-anchor="middle" fill="#231815">Apoa4</text></g>
<text x="13.5" y="1553.5" font-size="41.5" font-weight="700" fill="#231815">E</text>
<line x1="129.2" y1="1700.5" x2="446.0" y2="1775.2" stroke="#ec8670" stroke-width="2.6"/>
<circle cx="191.6" cy="1620.9" r="5.3" fill="#e46a4c"/>
<circle cx="150.9" cy="1646.3" r="5.3" fill="#e46a4c"/>
<circle cx="166.5" cy="1655.5" r="5.3" fill="#e46a4c"/>
<circle cx="167.6" cy="1669.2" r="5.3" fill="#e46a4c"/>
<circle cx="169.7" cy="1670.5" r="5.3" fill="#e46a4c"/>
<circle cx="166.1" cy="1677.6" r="5.3" fill="#e46a4c"/>
<circle cx="165.1" cy="1681.8" r="5.3" fill="#e46a4c"/>
<circle cx="204.9" cy="1680.9" r="5.3" fill="#e46a4c"/>
<circle cx="206.2" cy="1692.4" r="5.3" fill="#e46a4c"/>
<circle cx="213.5" cy="1691.4" r="5.3" fill="#e46a4c"/>
<circle cx="251.8" cy="1692.0" r="5.3" fill="#e46a4c"/>
<circle cx="232.7" cy="1702.2" r="5.3" fill="#e46a4c"/>
<circle cx="182.8" cy="1705.3" r="5.3" fill="#e46a4c"/>
<circle cx="311.5" cy="1714.5" r="5.3" fill="#e46a4c"/>
<circle cx="165.1" cy="1715.8" r="5.3" fill="#e46a4c"/>
<circle cx="163.8" cy="1723.7" r="5.3" fill="#e46a4c"/>
<circle cx="202.2" cy="1720.6" r="5.3" fill="#e46a4c"/>
<circle cx="212.6" cy="1721.4" r="5.3" fill="#e46a4c"/>
<circle cx="201.6" cy="1728.9" r="5.3" fill="#e46a4c"/>
<circle cx="245.6" cy="1726.2" r="5.3" fill="#e46a4c"/>
<circle cx="248.5" cy="1736.0" r="5.3" fill="#e46a4c"/>
<circle cx="252.0" cy="1739.0" r="5.3" fill="#e46a4c"/>
<circle cx="256.4" cy="1742.9" r="5.3" fill="#e46a4c"/>
<circle cx="257.7" cy="1747.7" r="5.3" fill="#e46a4c"/>
<circle cx="254.4" cy="1754.8" r="5.3" fill="#e46a4c"/>
<circle cx="271.2" cy="1748.1" r="5.3" fill="#e46a4c"/>
<circle cx="289.8" cy="1738.5" r="5.3" fill="#e46a4c"/>
<circle cx="338.4" cy="1740.2" r="5.3" fill="#e46a4c"/>
<circle cx="446.0" cy="1743.1" r="5.3" fill="#e46a4c"/>
<circle cx="394.5" cy="1761.8" r="5.3" fill="#e46a4c"/>
<circle cx="173.0" cy="1741.2" r="5.3" fill="#e46a4c"/>
<circle cx="180.9" cy="1738.1" r="5.3" fill="#e46a4c"/>
<circle cx="194.3" cy="1744.5" r="5.3" fill="#e46a4c"/>
<circle cx="196.8" cy="1751.2" r="5.3" fill="#e46a4c"/>
<circle cx="221.8" cy="1748.9" r="5.3" fill="#e46a4c"/>
<circle cx="228.1" cy="1752.9" r="5.3" fill="#e46a4c"/>
<circle cx="129.2" cy="1752.3" r="5.3" fill="#e46a4c"/>
<circle cx="194.5" cy="1768.5" r="5.3" fill="#e46a4c"/>
<circle cx="177.2" cy="1775.6" r="5.3" fill="#e46a4c"/>
<circle cx="237.9" cy="1776.4" r="5.3" fill="#e46a4c"/>
<circle cx="299.8" cy="1794.8" r="5.3" fill="#e46a4c"/>
<path d="M93.9,1579.5 L93.9,1841.9 L488.2,1841.9" fill="none" stroke="#000" stroke-width="2.8" stroke-linecap="square"/>
<line x1="82.4" y1="1841.9" x2="93.9" y2="1841.9" stroke="#000" stroke-width="2.6"/>
<text x="80.1" y="1849.0" font-size="19.7" font-weight="700" text-anchor="end" fill="#000">9.0</text>
<line x1="82.4" y1="1798.2" x2="93.9" y2="1798.2" stroke="#000" stroke-width="2.6"/>
<text x="80.1" y="1805.3" font-size="19.7" font-weight="700" text-anchor="end" fill="#000">9.5</text>
<line x1="82.4" y1="1754.4" x2="93.9" y2="1754.4" stroke="#000" stroke-width="2.6"/>
<text x="80.1" y="1761.5" font-size="19.7" font-weight="700" text-anchor="end" fill="#000">10.0</text>
<line x1="82.4" y1="1710.7" x2="93.9" y2="1710.7" stroke="#000" stroke-width="2.6"/>
<text x="80.1" y="1717.8" font-size="19.7" font-weight="700" text-anchor="end" fill="#000">10.5</text>
<line x1="82.4" y1="1667.0" x2="93.9" y2="1667.0" stroke="#000" stroke-width="2.6"/>
<text x="80.1" y="1674.1" font-size="19.7" font-weight="700" text-anchor="end" fill="#000">11.0</text>
<line x1="82.4" y1="1623.2" x2="93.9" y2="1623.2" stroke="#000" stroke-width="2.6"/>
<text x="80.1" y="1630.3" font-size="19.7" font-weight="700" text-anchor="end" fill="#000">11.5</text>
<line x1="82.4" y1="1579.5" x2="93.9" y2="1579.5" stroke="#000" stroke-width="2.6"/>
<text x="80.1" y="1586.6" font-size="19.7" font-weight="700" text-anchor="end" fill="#000">12.0</text>
<line x1="93.9" y1="1841.9" x2="93.9" y2="1852.9" stroke="#000" stroke-width="2.6"/>
<text x="93.9" y="1875.4" font-size="19.7" font-weight="700" text-anchor="middle" fill="#000">6.5</text>
<line x1="225.3" y1="1841.9" x2="225.3" y2="1852.9" stroke="#000" stroke-width="2.6"/>
<text x="225.3" y="1875.4" font-size="19.7" font-weight="700" text-anchor="middle" fill="#000">7.0</text>
<line x1="356.8" y1="1841.9" x2="356.8" y2="1852.9" stroke="#000" stroke-width="2.6"/>
<text x="356.8" y="1875.4" font-size="19.7" font-weight="700" text-anchor="middle" fill="#000">7.5</text>
<line x1="488.2" y1="1841.9" x2="488.2" y2="1852.9" stroke="#000" stroke-width="2.6"/>
<text x="488.2" y="1875.4" font-size="19.7" font-weight="700" text-anchor="middle" fill="#000">8.0</text>
<text x="294.6" y="1899.6" font-size="32" font-weight="700" font-style="italic" text-anchor="middle" fill="#231815">Morc4</text>
<text x="0" y="0" font-size="32" font-weight="700" font-style="italic" text-anchor="middle" fill="#231815" transform="translate(25.7,1704.0) rotate(-90)">Hmgcr</text>
<text x="112.2" y="1580.0" font-size="21" font-weight="700" fill="#000">P=0.0090</text>
<text x="112.2" y="1604.8" font-size="21" font-weight="700" fill="#000">r=-0.4030</text>
<text x="493.2" y="1553.5" font-size="41.5" font-weight="700" fill="#231815">F</text>
<line x1="601.5" y1="1705.7" x2="918.0" y2="1825.0" stroke="#ec8670" stroke-width="2.6"/>
<circle cx="622.9" cy="1628.2" r="5.3" fill="#e46a4c"/>
<circle cx="638.1" cy="1667.1" r="5.3" fill="#e46a4c"/>
<circle cx="641.8" cy="1663.5" r="5.3" fill="#e46a4c"/>
<circle cx="638.1" cy="1670.5" r="5.3" fill="#e46a4c"/>
<circle cx="638.1" cy="1682.6" r="5.3" fill="#e46a4c"/>
<circle cx="639.5" cy="1687.4" r="5.3" fill="#e46a4c"/>
<circle cx="663.5" cy="1674.2" r="5.3" fill="#e46a4c"/>
<circle cx="678.4" cy="1698.1" r="5.3" fill="#e46a4c"/>
<circle cx="723.8" cy="1694.5" r="5.3" fill="#e46a4c"/>
<circle cx="685.5" cy="1710.5" r="5.3" fill="#e46a4c"/>
<circle cx="704.6" cy="1710.5" r="5.3" fill="#e46a4c"/>
<circle cx="674.2" cy="1714.8" r="5.3" fill="#e46a4c"/>
<circle cx="677.6" cy="1714.2" r="5.3" fill="#e46a4c"/>
<circle cx="669.1" cy="1719.8" r="5.3" fill="#e46a4c"/>
<circle cx="674.2" cy="1724.1" r="5.3" fill="#e46a4c"/>
<circle cx="684.6" cy="1727.7" r="5.3" fill="#e46a4c"/>
<circle cx="644.9" cy="1725.5" r="5.3" fill="#e46a4c"/>
<circle cx="654.5" cy="1726.3" r="5.3" fill="#e46a4c"/>
<circle cx="810.6" cy="1725.5" r="5.3" fill="#e46a4c"/>
<circle cx="636.2" cy="1747.2" r="5.3" fill="#e46a4c"/>
<circle cx="637.0" cy="1749.4" r="5.3" fill="#e46a4c"/>
<circle cx="693.9" cy="1753.7" r="5.3" fill="#e46a4c"/>
<circle cx="722.7" cy="1753.1" r="5.3" fill="#e46a4c"/>
<circle cx="761.6" cy="1754.2" r="5.3" fill="#e46a4c"/>
<circle cx="648.8" cy="1763.0" r="5.3" fill="#e46a4c"/>
<circle cx="653.1" cy="1769.2" r="5.3" fill="#e46a4c"/>
<circle cx="717.6" cy="1765.8" r="5.3" fill="#e46a4c"/>
<circle cx="743.3" cy="1770.0" r="5.3" fill="#e46a4c"/>
<circle cx="721.6" cy="1780.4" r="5.3" fill="#e46a4c"/>
<circle cx="725.8" cy="1786.9" r="5.3" fill="#e46a4c"/>
<circle cx="729.7" cy="1786.9" r="5.3" fill="#e46a4c"/>
<circle cx="729.7" cy="1792.3" r="5.3" fill="#e46a4c"/>
<circle cx="709.7" cy="1791.7" r="5.3" fill="#e46a4c"/>
<circle cx="666.6" cy="1785.5" r="5.3" fill="#e46a4c"/>
<circle cx="666.6" cy="1804.4" r="5.3" fill="#e46a4c"/>
<circle cx="700.1" cy="1802.4" r="5.3" fill="#e46a4c"/>
<circle cx="771.4" cy="1794.0" r="5.3" fill="#e46a4c"/>
<circle cx="783.6" cy="1789.7" r="5.3" fill="#e46a4c"/>
<circle cx="866.4" cy="1815.7" r="5.3" fill="#e46a4c"/>
<circle cx="918.0" cy="1800.7" r="5.3" fill="#e46a4c"/>
<circle cx="600.9" cy="1791.7" r="5.3" fill="#e46a4c"/>
<path d="M566.5,1579.5 L566.5,1841.9 L958.9,1841.9" fill="none" stroke="#000" stroke-width="2.8" stroke-linecap="square"/>
<line x1="555.0" y1="1841.9" x2="566.5" y2="1841.9" stroke="#000" stroke-width="2.6"/>
<text x="552.7" y="1849.0" font-size="19.7" font-weight="700" text-anchor="end" fill="#000">8.5</text>
<line x1="555.0" y1="1776.3" x2="566.5" y2="1776.3" stroke="#000" stroke-width="2.6"/>
<text x="552.7" y="1783.4" font-size="19.7" font-weight="700" text-anchor="end" fill="#000">9.0</text>
<line x1="555.0" y1="1710.7" x2="566.5" y2="1710.7" stroke="#000" stroke-width="2.6"/>
<text x="552.7" y="1717.8" font-size="19.7" font-weight="700" text-anchor="end" fill="#000">9.5</text>
<line x1="555.0" y1="1645.1" x2="566.5" y2="1645.1" stroke="#000" stroke-width="2.6"/>
<text x="552.7" y="1652.2" font-size="19.7" font-weight="700" text-anchor="end" fill="#000">10.0</text>
<line x1="555.0" y1="1579.5" x2="566.5" y2="1579.5" stroke="#000" stroke-width="2.6"/>
<text x="552.7" y="1586.6" font-size="19.7" font-weight="700" text-anchor="end" fill="#000">10.5</text>
<line x1="566.5" y1="1841.9" x2="566.5" y2="1852.9" stroke="#000" stroke-width="2.6"/>
<text x="566.5" y="1875.4" font-size="19.7" font-weight="700" text-anchor="middle" fill="#000">6.5</text>
<line x1="697.3" y1="1841.9" x2="697.3" y2="1852.9" stroke="#000" stroke-width="2.6"/>
<text x="697.3" y="1875.4" font-size="19.7" font-weight="700" text-anchor="middle" fill="#000">7.0</text>
<line x1="828.1" y1="1841.9" x2="828.1" y2="1852.9" stroke="#000" stroke-width="2.6"/>
<text x="828.1" y="1875.4" font-size="19.7" font-weight="700" text-anchor="middle" fill="#000">7.5</text>
<line x1="958.9" y1="1841.9" x2="958.9" y2="1852.9" stroke="#000" stroke-width="2.6"/>
<text x="958.9" y="1875.4" font-size="19.7" font-weight="700" text-anchor="middle" fill="#000">8.0</text>
<text x="770.0" y="1899.6" font-size="32" font-weight="700" font-style="italic" text-anchor="middle" fill="#231815">Morc4</text>
<text x="0" y="0" font-size="32" font-weight="700" font-style="italic" text-anchor="middle" fill="#231815" transform="translate(509.5,1704.3) rotate(-90)">Pcsk9</text>
<text x="584.0" y="1580.0" font-size="21" font-weight="700" fill="#000">P=0.0005</text>
<text x="584.0" y="1604.8" font-size="21" font-weight="700" fill="#000">r=-0.5167</text>
<text x="973.8" y="1553.3" font-size="41.5" font-weight="700" fill="#231815">G</text>
<line x1="1092.3" y1="1757.0" x2="1408.9" y2="1645.2" stroke="#7b85c0" stroke-width="2.6"/>
<circle cx="1091.8" cy="1807.2" r="5.3" fill="#6470b0"/>
<circle cx="1112.9" cy="1790.3" r="5.3" fill="#6470b0"/>
<circle cx="1128.4" cy="1786.6" r="5.3" fill="#6470b0"/>
<circle cx="1131.8" cy="1814.3" r="5.3" fill="#6470b0"/>
<circle cx="1139.4" cy="1779.9" r="5.3" fill="#6470b0"/>
<circle cx="1129.8" cy="1767.2" r="5.3" fill="#6470b0"/>
<circle cx="1135.5" cy="1755.9" r="5.3" fill="#6470b0"/>
<circle cx="1127.0" cy="1749.4" r="5.3" fill="#6470b0"/>
<circle cx="1127.6" cy="1695.0" r="5.3" fill="#6470b0"/>
<circle cx="1125.3" cy="1701.0" r="5.3" fill="#6470b0"/>
<circle cx="1129.0" cy="1707.7" r="5.3" fill="#6470b0"/>
<circle cx="1156.6" cy="1692.2" r="5.3" fill="#6470b0"/>
<circle cx="1160.0" cy="1689.4" r="5.3" fill="#6470b0"/>
<circle cx="1157.2" cy="1707.2" r="5.3" fill="#6470b0"/>
<circle cx="1168.7" cy="1707.2" r="5.3" fill="#6470b0"/>
<circle cx="1153.8" cy="1775.4" r="5.3" fill="#6470b0"/>
<circle cx="1167.0" cy="1794.0" r="5.3" fill="#6470b0"/>
<circle cx="1143.3" cy="1733.4" r="5.3" fill="#6470b0"/>
<circle cx="1145.3" cy="1731.7" r="5.3" fill="#6470b0"/>
<circle cx="1164.8" cy="1737.6" r="5.3" fill="#6470b0"/>
<circle cx="1164.8" cy="1724.1" r="5.3" fill="#6470b0"/>
<circle cx="1175.5" cy="1714.8" r="5.3" fill="#6470b0"/>
<circle cx="1176.9" cy="1718.4" r="5.3" fill="#6470b0"/>
<circle cx="1175.5" cy="1722.1" r="5.3" fill="#6470b0"/>
<circle cx="1183.9" cy="1717.0" r="5.3" fill="#6470b0"/>
<circle cx="1191.0" cy="1717.6" r="5.3" fill="#6470b0"/>
<circle cx="1195.2" cy="1759.3" r="5.3" fill="#6470b0"/>
<circle cx="1200.3" cy="1669.1" r="5.3" fill="#6470b0"/>
<circle cx="1212.1" cy="1664.9" r="5.3" fill="#6470b0"/>
<circle cx="1214.1" cy="1657.0" r="5.3" fill="#6470b0"/>
<circle cx="1213.0" cy="1695.0" r="5.3" fill="#6470b0"/>
<circle cx="1217.8" cy="1693.6" r="5.3" fill="#6470b0"/>
<circle cx="1220.0" cy="1713.6" r="5.3" fill="#6470b0"/>
<circle cx="1208.2" cy="1738.7" r="5.3" fill="#6470b0"/>
<circle cx="1220.0" cy="1739.6" r="5.3" fill="#6470b0"/>
<circle cx="1233.8" cy="1757.6" r="5.3" fill="#6470b0"/>
<circle cx="1252.1" cy="1646.6" r="5.3" fill="#6470b0"/>
<circle cx="1262.3" cy="1645.7" r="5.3" fill="#6470b0"/>
<circle cx="1301.2" cy="1639.5" r="5.3" fill="#6470b0"/>
<circle cx="1274.1" cy="1732.8" r="5.3" fill="#6470b0"/>
<circle cx="1356.7" cy="1685.2" r="5.3" fill="#6470b0"/>
<circle cx="1408.9" cy="1710.0" r="5.3" fill="#6470b0"/>
<path d="M1057.1,1579.5 L1057.1,1841.9 L1450.3,1841.9" fill="none" stroke="#000" stroke-width="2.8" stroke-linecap="square"/>
<line x1="1045.6" y1="1841.9" x2="1057.1" y2="1841.9" stroke="#000" stroke-width="2.6"/>
<text x="1043.3" y="1849.0" font-size="19.7" font-weight="700" text-anchor="end" fill="#000">12.6</text>
<line x1="1045.6" y1="1789.4" x2="1057.1" y2="1789.4" stroke="#000" stroke-width="2.6"/>
<text x="1043.3" y="1796.5" font-size="19.7" font-weight="700" text-anchor="end" fill="#000">12.8</text>
<line x1="1045.6" y1="1736.9" x2="1057.1" y2="1736.9" stroke="#000" stroke-width="2.6"/>
<text x="1043.3" y="1744.0" font-size="19.7" font-weight="700" text-anchor="end" fill="#000">13.0</text>
<line x1="1045.6" y1="1684.5" x2="1057.1" y2="1684.5" stroke="#000" stroke-width="2.6"/>
<text x="1043.3" y="1691.6" font-size="19.7" font-weight="700" text-anchor="end" fill="#000">13.2</text>
<line x1="1045.6" y1="1632.0" x2="1057.1" y2="1632.0" stroke="#000" stroke-width="2.6"/>
<text x="1043.3" y="1639.1" font-size="19.7" font-weight="700" text-anchor="end" fill="#000">13.4</text>
<line x1="1045.6" y1="1579.5" x2="1057.1" y2="1579.5" stroke="#000" stroke-width="2.6"/>
<text x="1043.3" y="1586.6" font-size="19.7" font-weight="700" text-anchor="end" fill="#000">13.6</text>
<line x1="1057.1" y1="1841.9" x2="1057.1" y2="1852.9" stroke="#000" stroke-width="2.6"/>
<text x="1057.1" y="1875.4" font-size="19.7" font-weight="700" text-anchor="middle" fill="#000">6.5</text>
<line x1="1188.2" y1="1841.9" x2="1188.2" y2="1852.9" stroke="#000" stroke-width="2.6"/>
<text x="1188.2" y="1875.4" font-size="19.7" font-weight="700" text-anchor="middle" fill="#000">7.0</text>
<line x1="1319.2" y1="1841.9" x2="1319.2" y2="1852.9" stroke="#000" stroke-width="2.6"/>
<text x="1319.2" y="1875.4" font-size="19.7" font-weight="700" text-anchor="middle" fill="#000">7.5</text>
<line x1="1450.3" y1="1841.9" x2="1450.3" y2="1852.9" stroke="#000" stroke-width="2.6"/>
<text x="1450.3" y="1875.4" font-size="19.7" font-weight="700" text-anchor="middle" fill="#000">8.0</text>
<text x="1262.9" y="1899.6" font-size="32" font-weight="700" font-style="italic" text-anchor="middle" fill="#231815">Morc4</text>
<text x="0" y="0" font-size="32" font-weight="700" font-style="italic" text-anchor="middle" fill="#231815" transform="translate(990.5,1705.0) rotate(-90)">Lipa</text>
<text x="1074.0" y="1580.0" font-size="21" font-weight="700" fill="#000">P=0.0005</text>
<text x="1074.0" y="1604.8" font-size="21" font-weight="700" fill="#000">r=0.5168</text>
<text x="1453.8" y="1553.6" font-size="41.5" font-weight="700" fill="#231815">H</text>
<line x1="1573.2" y1="1744.0" x2="1890.2" y2="1663.2" stroke="#7b85c0" stroke-width="2.6"/>
<circle cx="1572.6" cy="1753.7" r="5.3" fill="#6470b0"/>
<circle cx="1594.6" cy="1733.4" r="5.3" fill="#6470b0"/>
<circle cx="1607.5" cy="1699.9" r="5.3" fill="#6470b0"/>
<circle cx="1611.0" cy="1721.4" r="5.3" fill="#6470b0"/>
<circle cx="1613.3" cy="1725.7" r="5.3" fill="#6470b0"/>
<circle cx="1611.2" cy="1741.1" r="5.3" fill="#6470b0"/>
<circle cx="1609.8" cy="1768.0" r="5.3" fill="#6470b0"/>
<circle cx="1609.0" cy="1776.9" r="5.3" fill="#6470b0"/>
<circle cx="1617.5" cy="1773.5" r="5.3" fill="#6470b0"/>
<circle cx="1621.0" cy="1801.5" r="5.3" fill="#6470b0"/>
<circle cx="1626.4" cy="1692.4" r="5.3" fill="#6470b0"/>
<circle cx="1624.7" cy="1710.5" r="5.3" fill="#6470b0"/>
<circle cx="1638.2" cy="1677.5" r="5.3" fill="#6470b0"/>
<circle cx="1649.0" cy="1672.4" r="5.3" fill="#6470b0"/>
<circle cx="1657.1" cy="1680.4" r="5.3" fill="#6470b0"/>
<circle cx="1656.2" cy="1683.3" r="5.3" fill="#6470b0"/>
<circle cx="1649.9" cy="1709.6" r="5.3" fill="#6470b0"/>
<circle cx="1665.7" cy="1699.3" r="5.3" fill="#6470b0"/>
<circle cx="1635.6" cy="1734.8" r="5.3" fill="#6470b0"/>
<circle cx="1640.5" cy="1738.3" r="5.3" fill="#6470b0"/>
<circle cx="1638.2" cy="1750.0" r="5.3" fill="#6470b0"/>
<circle cx="1645.6" cy="1768.3" r="5.3" fill="#6470b0"/>
<circle cx="1645.6" cy="1774.3" r="5.3" fill="#6470b0"/>
<circle cx="1672.0" cy="1715.9" r="5.3" fill="#6470b0"/>
<circle cx="1681.4" cy="1711.1" r="5.3" fill="#6470b0"/>
<circle cx="1676.5" cy="1725.4" r="5.3" fill="#6470b0"/>
<circle cx="1689.1" cy="1701.3" r="5.3" fill="#6470b0"/>
<circle cx="1694.3" cy="1697.0" r="5.3" fill="#6470b0"/>
<circle cx="1693.4" cy="1700.5" r="5.3" fill="#6470b0"/>
<circle cx="1696.3" cy="1703.9" r="5.3" fill="#6470b0"/>
<circle cx="1693.4" cy="1637.5" r="5.3" fill="#6470b0"/>
<circle cx="1701.2" cy="1646.3" r="5.3" fill="#6470b0"/>
<circle cx="1701.2" cy="1686.4" r="5.3" fill="#6470b0"/>
<circle cx="1698.3" cy="1733.4" r="5.3" fill="#6470b0"/>
<circle cx="1714.9" cy="1742.6" r="5.3" fill="#6470b0"/>
<circle cx="1733.5" cy="1669.5" r="5.3" fill="#6470b0"/>
<circle cx="1743.6" cy="1711.9" r="5.3" fill="#6470b0"/>
<circle cx="1782.2" cy="1677.5" r="5.3" fill="#6470b0"/>
<circle cx="1838.1" cy="1718.2" r="5.3" fill="#6470b0"/>
<circle cx="1755.0" cy="1825.9" r="5.3" fill="#6470b0"/>
<circle cx="1890.2" cy="1640.3" r="5.3" fill="#6470b0"/>
<path d="M1538.2,1579.3 L1538.2,1841.6 L1932.0,1841.6" fill="none" stroke="#000" stroke-width="2.8" stroke-linecap="square"/>
<line x1="1526.7" y1="1841.6" x2="1538.2" y2="1841.6" stroke="#000" stroke-width="2.6"/>
<text x="1524.4" y="1848.7" font-size="19.7" font-weight="700" text-anchor="end" fill="#000">8.0</text>
<line x1="1526.7" y1="1789.1" x2="1538.2" y2="1789.1" stroke="#000" stroke-width="2.6"/>
<text x="1524.4" y="1796.2" font-size="19.7" font-weight="700" text-anchor="end" fill="#000">8.5</text>
<line x1="1526.7" y1="1736.7" x2="1538.2" y2="1736.7" stroke="#000" stroke-width="2.6"/>
<text x="1524.4" y="1743.8" font-size="19.7" font-weight="700" text-anchor="end" fill="#000">9.0</text>
<line x1="1526.7" y1="1684.2" x2="1538.2" y2="1684.2" stroke="#000" stroke-width="2.6"/>
<text x="1524.4" y="1691.3" font-size="19.7" font-weight="700" text-anchor="end" fill="#000">9.5</text>
<line x1="1526.7" y1="1631.8" x2="1538.2" y2="1631.8" stroke="#000" stroke-width="2.6"/>
<text x="1524.4" y="1638.9" font-size="19.7" font-weight="700" text-anchor="end" fill="#000">10.0</text>
<line x1="1526.7" y1="1579.3" x2="1538.2" y2="1579.3" stroke="#000" stroke-width="2.6"/>
<text x="1524.4" y="1586.4" font-size="19.7" font-weight="700" text-anchor="end" fill="#000">10.5</text>
<line x1="1538.2" y1="1841.6" x2="1538.2" y2="1852.6" stroke="#000" stroke-width="2.6"/>
<text x="1538.2" y="1875.1" font-size="19.7" font-weight="700" text-anchor="middle" fill="#000">6.5</text>
<line x1="1669.5" y1="1841.6" x2="1669.5" y2="1852.6" stroke="#000" stroke-width="2.6"/>
<text x="1669.5" y="1875.1" font-size="19.7" font-weight="700" text-anchor="middle" fill="#000">7.0</text>
<line x1="1800.7" y1="1841.6" x2="1800.7" y2="1852.6" stroke="#000" stroke-width="2.6"/>
<text x="1800.7" y="1875.1" font-size="19.7" font-weight="700" text-anchor="middle" fill="#000">7.5</text>
<line x1="1932.0" y1="1841.6" x2="1932.0" y2="1852.6" stroke="#000" stroke-width="2.6"/>
<text x="1932.0" y="1875.1" font-size="19.7" font-weight="700" text-anchor="middle" fill="#000">8.0</text>
<text x="1740.7" y="1899.3" font-size="32" font-weight="700" font-style="italic" text-anchor="middle" fill="#231815">Morc4</text>
<text x="0" y="0" font-size="32" font-weight="700" font-style="italic" text-anchor="middle" fill="#231815" transform="translate(1475.5,1717.7) rotate(-90)">Lipg</text>
<text x="1555.5" y="1580.0" font-size="21" font-weight="700" fill="#000">P=0.0119</text>
<text x="1555.5" y="1604.8" font-size="21" font-weight="700" fill="#000">r=0.3894</text>
<text x="13.5" y="1924.6" font-size="41.5" font-weight="700" fill="#231815">I</text>
<line x1="124.6" y1="2135.1" x2="444.8" y2="2007.4" stroke="#7b85c0" stroke-width="2.6"/>
<circle cx="124.3" cy="2161.3" r="5.3" fill="#6470b0"/>
<circle cx="146.0" cy="2097.0" r="5.3" fill="#6470b0"/>
<circle cx="159.2" cy="2089.1" r="5.3" fill="#6470b0"/>
<circle cx="162.1" cy="2081.0" r="5.3" fill="#6470b0"/>
<circle cx="160.7" cy="2109.7" r="5.3" fill="#6470b0"/>
<circle cx="162.9" cy="2118.2" r="5.3" fill="#6470b0"/>
<circle cx="160.7" cy="2137.0" r="5.3" fill="#6470b0"/>
<circle cx="165.7" cy="2132.3" r="5.3" fill="#6470b0"/>
<circle cx="168.5" cy="2159.6" r="5.3" fill="#6470b0"/>
<circle cx="172.8" cy="2173.1" r="5.3" fill="#6470b0"/>
<circle cx="162.1" cy="2188.6" r="5.3" fill="#6470b0"/>
<circle cx="176.4" cy="2092.2" r="5.3" fill="#6470b0"/>
<circle cx="178.1" cy="2120.1" r="5.3" fill="#6470b0"/>
<circle cx="190.5" cy="2037.8" r="5.3" fill="#6470b0"/>
<circle cx="192.8" cy="2115.1" r="5.3" fill="#6470b0"/>
<circle cx="190.5" cy="2137.0" r="5.3" fill="#6470b0"/>
<circle cx="198.7" cy="2133.1" r="5.3" fill="#6470b0"/>
<circle cx="198.1" cy="2145.8" r="5.3" fill="#6470b0"/>
<circle cx="187.4" cy="2162.4" r="5.3" fill="#6470b0"/>
<circle cx="201.0" cy="2095.1" r="5.3" fill="#6470b0"/>
<circle cx="209.1" cy="2097.0" r="5.3" fill="#6470b0"/>
<circle cx="202.4" cy="2106.9" r="5.3" fill="#6470b0"/>
<circle cx="209.7" cy="2112.0" r="5.3" fill="#6470b0"/>
<circle cx="217.9" cy="2080.1" r="5.3" fill="#6470b0"/>
<circle cx="229.7" cy="2080.1" r="5.3" fill="#6470b0"/>
<circle cx="224.6" cy="2047.1" r="5.3" fill="#6470b0"/>
<circle cx="233.9" cy="2048.5" r="5.3" fill="#6470b0"/>
<circle cx="246.1" cy="2046.9" r="5.3" fill="#6470b0"/>
<circle cx="250.6" cy="2059.5" r="5.3" fill="#6470b0"/>
<circle cx="248.0" cy="2065.5" r="5.3" fill="#6470b0"/>
<circle cx="254.2" cy="2071.1" r="5.3" fill="#6470b0"/>
<circle cx="253.7" cy="2074.5" r="5.3" fill="#6470b0"/>
<circle cx="248.6" cy="2078.1" r="5.3" fill="#6470b0"/>
<circle cx="242.4" cy="2087.7" r="5.3" fill="#6470b0"/>
<circle cx="268.3" cy="2109.7" r="5.3" fill="#6470b0"/>
<circle cx="286.6" cy="2021.5" r="5.3" fill="#6470b0"/>
<circle cx="309.2" cy="2008.8" r="5.3" fill="#6470b0"/>
<circle cx="296.8" cy="2128.6" r="5.3" fill="#6470b0"/>
<circle cx="336.2" cy="2038.4" r="5.3" fill="#6470b0"/>
<circle cx="392.6" cy="2066.6" r="5.3" fill="#6470b0"/>
<circle cx="444.8" cy="2043.5" r="5.3" fill="#6470b0"/>
<path d="M89.1,1947.6 L89.1,2213.4 L487.6,2213.4" fill="none" stroke="#000" stroke-width="2.8" stroke-linecap="square"/>
<line x1="77.6" y1="2213.4" x2="89.1" y2="2213.4" stroke="#000" stroke-width="2.6"/>
<text x="75.3" y="2220.5" font-size="19.7" font-weight="700" text-anchor="end" fill="#000">9</text>
<line x1="77.6" y1="2146.9" x2="89.1" y2="2146.9" stroke="#000" stroke-width="2.6"/>
<text x="75.3" y="2154.0" font-size="19.7" font-weight="700" text-anchor="end" fill="#000">10</text>
<line x1="77.6" y1="2080.5" x2="89.1" y2="2080.5" stroke="#000" stroke-width="2.6"/>
<text x="75.3" y="2087.6" font-size="19.7" font-weight="700" text-anchor="end" fill="#000">11</text>
<line x1="77.6" y1="2014.0" x2="89.1" y2="2014.0" stroke="#000" stroke-width="2.6"/>
<text x="75.3" y="2021.1" font-size="19.7" font-weight="700" text-anchor="end" fill="#000">12</text>
<line x1="77.6" y1="1947.6" x2="89.1" y2="1947.6" stroke="#000" stroke-width="2.6"/>
<text x="75.3" y="1954.7" font-size="19.7" font-weight="700" text-anchor="end" fill="#000">13</text>
<line x1="89.1" y1="2213.4" x2="89.1" y2="2224.4" stroke="#000" stroke-width="2.6"/>
<text x="89.1" y="2246.9" font-size="19.7" font-weight="700" text-anchor="middle" fill="#000">6.5</text>
<line x1="221.9" y1="2213.4" x2="221.9" y2="2224.4" stroke="#000" stroke-width="2.6"/>
<text x="221.9" y="2246.9" font-size="19.7" font-weight="700" text-anchor="middle" fill="#000">7.0</text>
<line x1="354.8" y1="2213.4" x2="354.8" y2="2224.4" stroke="#000" stroke-width="2.6"/>
<text x="354.8" y="2246.9" font-size="19.7" font-weight="700" text-anchor="middle" fill="#000">7.5</text>
<line x1="487.6" y1="2213.4" x2="487.6" y2="2224.4" stroke="#000" stroke-width="2.6"/>
<text x="487.6" y="2246.9" font-size="19.7" font-weight="700" text-anchor="middle" fill="#000">8.0</text>
<text x="296.7" y="2271.1" font-size="32" font-weight="700" font-style="italic" text-anchor="middle" fill="#231815">Morc4</text>
<text x="0" y="0" font-size="32" font-weight="700" font-style="italic" text-anchor="middle" fill="#231815" transform="translate(28.6,2068.0) rotate(-90)">Pltp</text>
<text x="106.5" y="1949.1" font-size="21" font-weight="700" fill="#000">P=&lt;0.0001</text>
<text x="106.5" y="1973.9" font-size="21" font-weight="700" fill="#000">r=0.6081</text>
<text x="494.4" y="1924.8" font-size="41.5" font-weight="700" fill="#231815">J</text>
<line x1="601.5" y1="2128.0" x2="918.6" y2="1992.7" stroke="#7b85c0" stroke-width="2.6"/>
<circle cx="600.9" cy="2153.4" r="5.3" fill="#6470b0"/>
<circle cx="622.6" cy="2138.7" r="5.3" fill="#6470b0"/>
<circle cx="638.1" cy="2168.9" r="5.3" fill="#6470b0"/>
<circle cx="637.0" cy="2128.0" r="5.3" fill="#6470b0"/>
<circle cx="639.3" cy="2133.7" r="5.3" fill="#6470b0"/>
<circle cx="637.0" cy="2079.3" r="5.3" fill="#6470b0"/>
<circle cx="635.6" cy="2086.3" r="5.3" fill="#6470b0"/>
<circle cx="637.6" cy="2106.0" r="5.3" fill="#6470b0"/>
<circle cx="644.6" cy="2104.1" r="5.3" fill="#6470b0"/>
<circle cx="653.1" cy="2095.6" r="5.3" fill="#6470b0"/>
<circle cx="648.8" cy="2122.4" r="5.3" fill="#6470b0"/>
<circle cx="655.0" cy="2119.6" r="5.3" fill="#6470b0"/>
<circle cx="641.2" cy="1990.8" r="5.3" fill="#6470b0"/>
<circle cx="665.7" cy="2094.2" r="5.3" fill="#6470b0"/>
<circle cx="674.2" cy="2090.8" r="5.3" fill="#6470b0"/>
<circle cx="662.4" cy="2104.9" r="5.3" fill="#6470b0"/>
<circle cx="667.2" cy="2104.9" r="5.3" fill="#6470b0"/>
<circle cx="668.6" cy="2125.2" r="5.3" fill="#6470b0"/>
<circle cx="677.9" cy="2132.8" r="5.3" fill="#6470b0"/>
<circle cx="677.0" cy="2152.0" r="5.3" fill="#6470b0"/>
<circle cx="674.2" cy="2035.3" r="5.3" fill="#6470b0"/>
<circle cx="684.6" cy="2078.1" r="5.3" fill="#6470b0"/>
<circle cx="685.5" cy="2112.5" r="5.3" fill="#6470b0"/>
<circle cx="693.9" cy="2047.7" r="5.3" fill="#6470b0"/>
<circle cx="700.1" cy="2094.8" r="5.3" fill="#6470b0"/>
<circle cx="704.6" cy="2108.9" r="5.3" fill="#6470b0"/>
<circle cx="709.4" cy="2006.8" r="5.3" fill="#6470b0"/>
<circle cx="717.9" cy="2094.2" r="5.3" fill="#6470b0"/>
<circle cx="721.6" cy="2027.1" r="5.3" fill="#6470b0"/>
<circle cx="723.0" cy="2103.2" r="5.3" fill="#6470b0"/>
<circle cx="724.1" cy="2073.1" r="5.3" fill="#6470b0"/>
<circle cx="726.3" cy="2131.7" r="5.3" fill="#6470b0"/>
<circle cx="729.7" cy="2039.2" r="5.3" fill="#6470b0"/>
<circle cx="729.7" cy="2149.2" r="5.3" fill="#6470b0"/>
<circle cx="743.3" cy="2138.7" r="5.3" fill="#6470b0"/>
<circle cx="762.1" cy="1979.2" r="5.3" fill="#6470b0"/>
<circle cx="771.7" cy="2000.6" r="5.3" fill="#6470b0"/>
<circle cx="783.6" cy="2055.6" r="5.3" fill="#6470b0"/>
<circle cx="810.9" cy="2030.2" r="5.3" fill="#6470b0"/>
<circle cx="866.4" cy="2055.6" r="5.3" fill="#6470b0"/>
<circle cx="918.6" cy="1982.9" r="5.3" fill="#6470b0"/>
<path d="M566.5,1951.3 L566.5,2214.0 L958.9,2214.0" fill="none" stroke="#000" stroke-width="2.8" stroke-linecap="square"/>
<line x1="555.0" y1="2214.0" x2="566.5" y2="2214.0" stroke="#000" stroke-width="2.6"/>
<text x="552.7" y="2221.1" font-size="19.7" font-weight="700" text-anchor="end" fill="#000">12.5</text>
<line x1="555.0" y1="2126.4" x2="566.5" y2="2126.4" stroke="#000" stroke-width="2.6"/>
<text x="552.7" y="2133.5" font-size="19.7" font-weight="700" text-anchor="end" fill="#000">13.0</text>
<line x1="555.0" y1="2038.9" x2="566.5" y2="2038.9" stroke="#000" stroke-width="2.6"/>
<text x="552.7" y="2046.0" font-size="19.7" font-weight="700" text-anchor="end" fill="#000">13.5</text>
<line x1="555.0" y1="1951.3" x2="566.5" y2="1951.3" stroke="#000" stroke-width="2.6"/>
<text x="552.7" y="1958.4" font-size="19.7" font-weight="700" text-anchor="end" fill="#000">14.0</text>
<line x1="566.5" y1="2214.0" x2="566.5" y2="2225.0" stroke="#000" stroke-width="2.6"/>
<text x="566.5" y="2247.5" font-size="19.7" font-weight="700" text-anchor="middle" fill="#000">6.5</text>
<line x1="697.3" y1="2214.0" x2="697.3" y2="2225.0" stroke="#000" stroke-width="2.6"/>
<text x="697.3" y="2247.5" font-size="19.7" font-weight="700" text-anchor="middle" fill="#000">7.0</text>
<line x1="828.1" y1="2214.0" x2="828.1" y2="2225.0" stroke="#000" stroke-width="2.6"/>
<text x="828.1" y="2247.5" font-size="19.7" font-weight="700" text-anchor="middle" fill="#000">7.5</text>
<line x1="958.9" y1="2214.0" x2="958.9" y2="2225.0" stroke="#000" stroke-width="2.6"/>
<text x="958.9" y="2247.5" font-size="19.7" font-weight="700" text-anchor="middle" fill="#000">8.0</text>
<text x="770.7" y="2271.7" font-size="32" font-weight="700" font-style="italic" text-anchor="middle" fill="#231815">Morc4</text>
<text x="0" y="0" font-size="32" font-weight="700" font-style="italic" text-anchor="middle" fill="#231815" transform="translate(510.0,2068.0) rotate(-90)">Apoc2</text>
<text x="584.0" y="1951.5" font-size="21" font-weight="700" fill="#000">P=0.0002</text>
<text x="584.0" y="1976.3" font-size="21" font-weight="700" fill="#000">r=0.5534</text>
<text x="974.8" y="1925.0" font-size="41.5" font-weight="700" fill="#231815">K</text>
<line x1="1087.3" y1="2128.0" x2="1407.2" y2="1988.5" stroke="#7b85c0" stroke-width="2.6"/>
<circle cx="1086.7" cy="2143.0" r="5.3" fill="#6470b0"/>
<circle cx="1109.2" cy="2114.5" r="5.3" fill="#6470b0"/>
<circle cx="1123.3" cy="2099.3" r="5.3" fill="#6470b0"/>
<circle cx="1124.7" cy="2045.4" r="5.3" fill="#6470b0"/>
<circle cx="1127.0" cy="2084.3" r="5.3" fill="#6470b0"/>
<circle cx="1124.7" cy="2133.7" r="5.3" fill="#6470b0"/>
<circle cx="1120.5" cy="2133.7" r="5.3" fill="#6470b0"/>
<circle cx="1124.2" cy="2141.6" r="5.3" fill="#6470b0"/>
<circle cx="1123.3" cy="2162.4" r="5.3" fill="#6470b0"/>
<circle cx="1130.4" cy="2133.7" r="5.3" fill="#6470b0"/>
<circle cx="1135.5" cy="2131.7" r="5.3" fill="#6470b0"/>
<circle cx="1138.8" cy="2064.6" r="5.3" fill="#6470b0"/>
<circle cx="1141.1" cy="2095.6" r="5.3" fill="#6470b0"/>
<circle cx="1152.4" cy="2071.1" r="5.3" fill="#6470b0"/>
<circle cx="1154.9" cy="2099.3" r="5.3" fill="#6470b0"/>
<circle cx="1150.1" cy="2125.2" r="5.3" fill="#6470b0"/>
<circle cx="1152.9" cy="2131.4" r="5.3" fill="#6470b0"/>
<circle cx="1160.8" cy="2120.4" r="5.3" fill="#6470b0"/>
<circle cx="1160.8" cy="2145.5" r="5.3" fill="#6470b0"/>
<circle cx="1164.2" cy="2076.7" r="5.3" fill="#6470b0"/>
<circle cx="1171.8" cy="2081.5" r="5.3" fill="#6470b0"/>
<circle cx="1171.3" cy="2113.9" r="5.3" fill="#6470b0"/>
<circle cx="1164.8" cy="2037.8" r="5.3" fill="#6470b0"/>
<circle cx="1180.6" cy="2068.3" r="5.3" fill="#6470b0"/>
<circle cx="1187.3" cy="2029.4" r="5.3" fill="#6470b0"/>
<circle cx="1191.8" cy="2068.3" r="5.3" fill="#6470b0"/>
<circle cx="1197.2" cy="2068.3" r="5.3" fill="#6470b0"/>
<circle cx="1204.5" cy="2084.9" r="5.3" fill="#6470b0"/>
<circle cx="1208.7" cy="2011.6" r="5.3" fill="#6470b0"/>
<circle cx="1210.7" cy="2055.3" r="5.3" fill="#6470b0"/>
<circle cx="1216.3" cy="2068.3" r="5.3" fill="#6470b0"/>
<circle cx="1213.5" cy="2103.2" r="5.3" fill="#6470b0"/>
<circle cx="1209.9" cy="2108.9" r="5.3" fill="#6470b0"/>
<circle cx="1231.0" cy="2099.3" r="5.3" fill="#6470b0"/>
<circle cx="1249.3" cy="2021.5" r="5.3" fill="#6470b0"/>
<circle cx="1259.2" cy="2113.9" r="5.3" fill="#6470b0"/>
<circle cx="1271.3" cy="2042.9" r="5.3" fill="#6470b0"/>
<circle cx="1298.9" cy="2018.7" r="5.3" fill="#6470b0"/>
<circle cx="1355.0" cy="2011.6" r="5.3" fill="#6470b0"/>
<circle cx="1407.4" cy="2003.4" r="5.3" fill="#6470b0"/>
<path d="M1051.5,1947.6 L1051.5,2213.4 L1448.9,2213.4" fill="none" stroke="#000" stroke-width="2.8" stroke-linecap="square"/>
<line x1="1040.0" y1="2213.4" x2="1051.5" y2="2213.4" stroke="#000" stroke-width="2.6"/>
<text x="1037.7" y="2220.5" font-size="19.7" font-weight="700" text-anchor="end" fill="#000">8</text>
<line x1="1040.0" y1="2169.1" x2="1051.5" y2="2169.1" stroke="#000" stroke-width="2.6"/>
<text x="1037.7" y="2176.2" font-size="19.7" font-weight="700" text-anchor="end" fill="#000">9</text>
<line x1="1040.0" y1="2124.8" x2="1051.5" y2="2124.8" stroke="#000" stroke-width="2.6"/>
<text x="1037.7" y="2131.9" font-size="19.7" font-weight="700" text-anchor="end" fill="#000">10</text>
<line x1="1040.0" y1="2080.5" x2="1051.5" y2="2080.5" stroke="#000" stroke-width="2.6"/>
<text x="1037.7" y="2087.6" font-size="19.7" font-weight="700" text-anchor="end" fill="#000">11</text>
<line x1="1040.0" y1="2036.2" x2="1051.5" y2="2036.2" stroke="#000" stroke-width="2.6"/>
<text x="1037.7" y="2043.3" font-size="19.7" font-weight="700" text-anchor="end" fill="#000">12</text>
<line x1="1040.0" y1="1991.9" x2="1051.5" y2="1991.9" stroke="#000" stroke-width="2.6"/>
<text x="1037.7" y="1999.0" font-size="19.7" font-weight="700" text-anchor="end" fill="#000">13</text>
<line x1="1040.0" y1="1947.6" x2="1051.5" y2="1947.6" stroke="#000" stroke-width="2.6"/>
<text x="1037.7" y="1954.7" font-size="19.7" font-weight="700" text-anchor="end" fill="#000">14</text>
<line x1="1051.5" y1="2213.4" x2="1051.5" y2="2224.4" stroke="#000" stroke-width="2.6"/>
<text x="1051.5" y="2246.9" font-size="19.7" font-weight="700" text-anchor="middle" fill="#000">6.5</text>
<line x1="1184.0" y1="2213.4" x2="1184.0" y2="2224.4" stroke="#000" stroke-width="2.6"/>
<text x="1184.0" y="2246.9" font-size="19.7" font-weight="700" text-anchor="middle" fill="#000">7.0</text>
<line x1="1316.4" y1="2213.4" x2="1316.4" y2="2224.4" stroke="#000" stroke-width="2.6"/>
<text x="1316.4" y="2246.9" font-size="19.7" font-weight="700" text-anchor="middle" fill="#000">7.5</text>
<line x1="1448.9" y1="2213.4" x2="1448.9" y2="2224.4" stroke="#000" stroke-width="2.6"/>
<text x="1448.9" y="2246.9" font-size="19.7" font-weight="700" text-anchor="middle" fill="#000">8.0</text>
<text x="1263.6" y="2271.1" font-size="32" font-weight="700" font-style="italic" text-anchor="middle" fill="#231815">Morc4</text>
<text x="0" y="0" font-size="32" font-weight="700" font-style="italic" text-anchor="middle" fill="#231815" transform="translate(993.0,2066.8) rotate(-90)">Cd36</text>
<text x="1069.5" y="1949.1" font-size="21" font-weight="700" fill="#000">P=&lt;0.0001</text>
<text x="1069.5" y="1973.9" font-size="21" font-weight="700" fill="#000">r=0.6733</text>
<text x="1455.8" y="1925.0" font-size="41.5" font-weight="700" fill="#231815">L</text>
<line x1="1568.3" y1="2108.5" x2="1888.7" y2="1964.5" stroke="#7b85c0" stroke-width="2.6"/>
<circle cx="1568.0" cy="2142.3" r="5.3" fill="#6470b0"/>
<circle cx="1589.8" cy="2123.7" r="5.3" fill="#6470b0"/>
<circle cx="1607.0" cy="2155.5" r="5.3" fill="#6470b0"/>
<circle cx="1604.7" cy="2101.9" r="5.3" fill="#6470b0"/>
<circle cx="1605.5" cy="2097.1" r="5.3" fill="#6470b0"/>
<circle cx="1604.7" cy="2066.1" r="5.3" fill="#6470b0"/>
<circle cx="1603.2" cy="2061.3" r="5.3" fill="#6470b0"/>
<circle cx="1605.5" cy="2055.3" r="5.3" fill="#6470b0"/>
<circle cx="1609.0" cy="2085.3" r="5.3" fill="#6470b0"/>
<circle cx="1612.7" cy="2083.3" r="5.3" fill="#6470b0"/>
<circle cx="1616.7" cy="2069.0" r="5.3" fill="#6470b0"/>
<circle cx="1620.4" cy="2079.6" r="5.3" fill="#6470b0"/>
<circle cx="1622.1" cy="2053.3" r="5.3" fill="#6470b0"/>
<circle cx="1631.3" cy="2114.8" r="5.3" fill="#6470b0"/>
<circle cx="1634.2" cy="2071.0" r="5.3" fill="#6470b0"/>
<circle cx="1636.2" cy="2126.3" r="5.3" fill="#6470b0"/>
<circle cx="1634.2" cy="2027.5" r="5.3" fill="#6470b0"/>
<circle cx="1641.9" cy="2034.6" r="5.3" fill="#6470b0"/>
<circle cx="1641.9" cy="2092.8" r="5.3" fill="#6470b0"/>
<circle cx="1645.6" cy="2082.7" r="5.3" fill="#6470b0"/>
<circle cx="1645.0" cy="2104.8" r="5.3" fill="#6470b0"/>
<circle cx="1653.3" cy="2086.2" r="5.3" fill="#6470b0"/>
<circle cx="1652.2" cy="2042.9" r="5.3" fill="#6470b0"/>
<circle cx="1661.9" cy="2070.1" r="5.3" fill="#6470b0"/>
<circle cx="1668.2" cy="2062.1" r="5.3" fill="#6470b0"/>
<circle cx="1672.8" cy="2073.9" r="5.3" fill="#6470b0"/>
<circle cx="1677.7" cy="2013.7" r="5.3" fill="#6470b0"/>
<circle cx="1685.7" cy="2061.3" r="5.3" fill="#6470b0"/>
<circle cx="1689.7" cy="2000.8" r="5.3" fill="#6470b0"/>
<circle cx="1691.4" cy="2079.9" r="5.3" fill="#6470b0"/>
<circle cx="1692.0" cy="2016.0" r="5.3" fill="#6470b0"/>
<circle cx="1694.9" cy="2055.5" r="5.3" fill="#6470b0"/>
<circle cx="1697.7" cy="2095.6" r="5.3" fill="#6470b0"/>
<circle cx="1697.7" cy="2122.0" r="5.3" fill="#6470b0"/>
<circle cx="1712.1" cy="2079.9" r="5.3" fill="#6470b0"/>
<circle cx="1730.7" cy="1974.2" r="5.3" fill="#6470b0"/>
<circle cx="1740.7" cy="1958.8" r="5.3" fill="#6470b0"/>
<circle cx="1752.1" cy="2063.3" r="5.3" fill="#6470b0"/>
<circle cx="1780.2" cy="1982.2" r="5.3" fill="#6470b0"/>
<circle cx="1836.6" cy="2012.0" r="5.3" fill="#6470b0"/>
<circle cx="1888.7" cy="1981.7" r="5.3" fill="#6470b0"/>
<path d="M1532.5,1947.9 L1532.5,2213.0 L1931.1,2213.0" fill="none" stroke="#000" stroke-width="2.8" stroke-linecap="square"/>
<line x1="1521.0" y1="2213.0" x2="1532.5" y2="2213.0" stroke="#000" stroke-width="2.6"/>
<text x="1518.7" y="2220.1" font-size="19.7" font-weight="700" text-anchor="end" fill="#000">8</text>
<line x1="1521.0" y1="2146.7" x2="1532.5" y2="2146.7" stroke="#000" stroke-width="2.6"/>
<text x="1518.7" y="2153.8" font-size="19.7" font-weight="700" text-anchor="end" fill="#000">9</text>
<line x1="1521.0" y1="2080.4" x2="1532.5" y2="2080.4" stroke="#000" stroke-width="2.6"/>
<text x="1518.7" y="2087.5" font-size="19.7" font-weight="700" text-anchor="end" fill="#000">10</text>
<line x1="1521.0" y1="2014.2" x2="1532.5" y2="2014.2" stroke="#000" stroke-width="2.6"/>
<text x="1518.7" y="2021.3" font-size="19.7" font-weight="700" text-anchor="end" fill="#000">11</text>
<line x1="1521.0" y1="1947.9" x2="1532.5" y2="1947.9" stroke="#000" stroke-width="2.6"/>
<text x="1518.7" y="1955.0" font-size="19.7" font-weight="700" text-anchor="end" fill="#000">12</text>
<line x1="1532.5" y1="2213.0" x2="1532.5" y2="2224.0" stroke="#000" stroke-width="2.6"/>
<text x="1532.5" y="2246.5" font-size="19.7" font-weight="700" text-anchor="middle" fill="#000">6.5</text>
<line x1="1665.4" y1="2213.0" x2="1665.4" y2="2224.0" stroke="#000" stroke-width="2.6"/>
<text x="1665.4" y="2246.5" font-size="19.7" font-weight="700" text-anchor="middle" fill="#000">7.0</text>
<line x1="1798.2" y1="2213.0" x2="1798.2" y2="2224.0" stroke="#000" stroke-width="2.6"/>
<text x="1798.2" y="2246.5" font-size="19.7" font-weight="700" text-anchor="middle" fill="#000">7.5</text>
<line x1="1931.1" y1="2213.0" x2="1931.1" y2="2224.0" stroke="#000" stroke-width="2.6"/>
<text x="1931.1" y="2246.5" font-size="19.7" font-weight="700" text-anchor="middle" fill="#000">8.0</text>
<text x="1742.2" y="2270.7" font-size="32" font-weight="700" font-style="italic" text-anchor="middle" fill="#231815">Morc4</text>
<text x="0" y="0" font-size="32" font-weight="700" font-style="italic" text-anchor="middle" fill="#231815" transform="translate(1468.9,2067.5) rotate(-90)">Apoa4</text>
<text x="1550.0" y="1949.1" font-size="21" font-weight="700" fill="#000">P=&lt;0.0001</text>
<text x="1550.0" y="1973.9" font-size="21" font-weight="700" fill="#000">r=0.6471</text>
</svg>
</body></html>
